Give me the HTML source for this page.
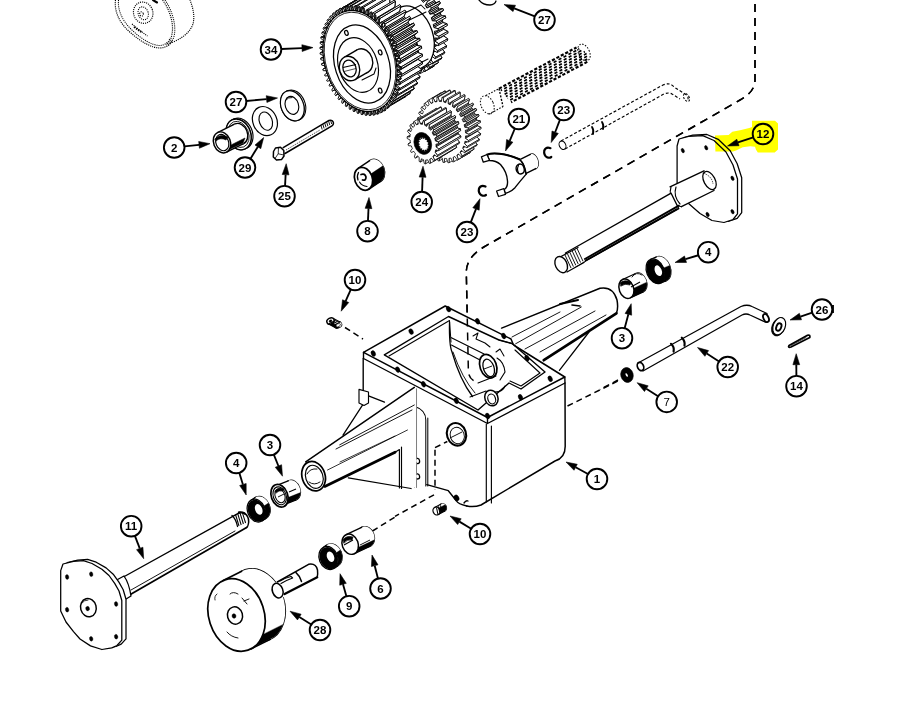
<!DOCTYPE html>
<html><head><meta charset="utf-8"><title>Transaxle parts diagram</title>
<style>
html,body{margin:0;padding:0;background:#fff;}
body{width:902px;height:704px;overflow:hidden;}
svg{display:block;font-family:"Liberation Sans",sans-serif;}
</style></head><body>
<svg width="902" height="704" viewBox="0 0 902 704">
<rect width="902" height="704" fill="#fff"/>
<path d="M115.5,0 C114,12 120,24 131,33 C141,42 152,48 160,48 C167,47.5 171,44 172,40" fill="none" stroke="#000" stroke-width="1.15" stroke-linejoin="round" stroke-linecap="butt" stroke-dasharray="1.1 1.0"/>
<path d="M118.5,0 C117.5,11 123,22 133,31 C142,39.5 152,45 159,45.5 C165,45.5 169,42 170,38" fill="none" stroke="#000" stroke-width="1.03" stroke-linejoin="round" stroke-linecap="butt" stroke-dasharray="1.1 1.0"/>
<path d="M162.6,0 C170,10 174,24 172,34 C171,40 169,43 166,45" fill="none" stroke="#000" stroke-width="1.15" stroke-linejoin="round" stroke-linecap="butt" stroke-dasharray="1.1 1.0"/>
<path d="M165,0 C172,10 176,24 174.5,34 C173.5,40 171,43 168,45.5" fill="none" stroke="#000" stroke-width="1.03" stroke-linejoin="round" stroke-linecap="butt" stroke-dasharray="1.1 1.0"/>
<path d="M170,43 C180,40 190,33 193,24 C195,16 193,8 190,0" fill="none" stroke="#000" stroke-width="1.15" stroke-linejoin="round" stroke-linecap="butt" stroke-dasharray="1.1 1.0"/>
<ellipse cx="143.2" cy="12.7" rx="9.6" ry="10.8" transform="rotate(-20 143.2 12.7)" fill="none" stroke="#000" stroke-width="1.15" stroke-dasharray="1.1 1.0"/>
<ellipse cx="143.2" cy="13.3" rx="5" ry="6.6" transform="rotate(-20 143.2 13.3)" fill="none" stroke="#000" stroke-width="1.03" stroke-dasharray="1.1 1.0"/>
<ellipse cx="141.5" cy="14" rx="1.8" ry="2.2" transform="rotate(-20 141.5 14)" fill="none" stroke="#000" stroke-width="1.03" stroke-dasharray="1.1 1.0"/>
<path d="M132,24 L138,29 L146,35 L147.5,36" fill="none" stroke="#000" stroke-width="1.15" stroke-linejoin="round" stroke-linecap="butt" stroke-dasharray="1.1 1.0"/>
<path d="M134,27 L142,32.5" fill="none" stroke="#000" stroke-width="1.84" stroke-linejoin="round" stroke-linecap="butt" stroke-dasharray="1.5 1"/>
<path d="M153,0 L157,2.5" fill="none" stroke="#000" stroke-width="2.07" stroke-linejoin="round" stroke-linecap="round" />
<path d="M755,4 L755,80 Q755,92 740,100 L483,247.5 Q466.3,258 466.3,272 L468.4,372 Q469,378 474,381" fill="none" stroke="#000" stroke-width="1.49" stroke-linejoin="round" stroke-linecap="butt" stroke-dasharray="8 6"/>
<polygon points="424.8,63.75 425.84,63.52 428.23,68.84 429.43,68.45 428.24,62.74 429.22,62.32 430.18,61.83 433.09,66.73 434.18,66.05 432.35,60.48 433.23,59.81 434.08,59.08 437.43,63.44 438.38,62.48 435.96,57.19 436.71,56.29 437.43,55.35 441.13,59.04 441.92,57.83 438.98,52.96 439.58,51.87 440.14,50.74 444.1,53.66 444.69,52.23 441.31,47.92 441.74,46.66 442.14,45.37 446.24,47.44 446.62,45.84 442.9,42.2 443.15,40.81 443.36,39.39 447.5,40.55 447.67,38.82 443.7,35.96 443.77,34.47 443.79,32.96 447.85,33.19 447.8,31.37 443.69,29.36 443.57,27.81 443.41,26.26 447.27,25.55 447,23.69 442.87,22.59 442.56,21.03 442.22,19.47 445.79,17.84 445.31,16 441.26,15.83 440.78,14.3 440.27,12.78 443.44,10.26 442.76,8.49 438.91,9.27 438.27,7.8 437.59,6.36 440.29,3.04 439.42,1.38 435.88,3.08 435.09,1.73 434.28,0.4 436.42,-3.64 435.4,-5.14 432.25,-2.57 431.34,-3.77 430.41,-4.94 431.94,-9.59 430.79,-10.89 428.12,-7.52 427.12,-8.54 426.09,-9.52 426.97,-14.65 425.72,-15.72 423.61,-11.63 422.54,-12.45 421.44,-13.22 421.64,-18.69 420.33,-19.49 418.84,-14.8 417.72,-15.39 416.59,-15.92 416.11,-21.59 414.77,-22.1 413.94,-16.94 412.8,-17.28 411.67,-17.57 410.52,-23.27 409.19,-23.49 409.03,-18 407.92,-18.08 406.82,-18.1 405.02,-23.69 403.74,-23.6 404.27,-17.93 403.2,-17.75 402.16,-17.52 399.77,-22.84 398.57,-22.45 399.76,-16.74 398.78,-16.32 397.82,-15.83 394.91,-20.73 393.82,-20.05 395.65,-14.48 394.77,-13.81 393.92,-13.08 390.57,-17.44 389.62,-16.48 392.04,-11.19 391.29,-10.29 390.57,-9.35 386.87,-13.04 386.08,-11.83 389.02,-6.96 388.42,-5.87 387.86,-4.74 383.9,-7.66 383.31,-6.23 386.69,-1.92 386.26,-0.66 385.86,0.63 381.76,-1.44 381.38,0.16 385.1,3.8 384.85,5.19 384.64,6.61 380.5,5.45 380.33,7.18 384.3,10.04 384.23,11.53 384.21,13.04 380.15,12.81 380.2,14.63 384.31,16.64 384.43,18.19 384.59,19.74 380.73,20.45 381,22.31 385.13,23.41 385.44,24.97 385.78,26.53 382.21,28.16 382.69,30 386.74,30.17 387.22,31.7 387.73,33.22 384.56,35.74 385.24,37.51 389.09,36.73 389.73,38.2 390.41,39.64 387.71,42.96 388.58,44.62 392.12,42.92 392.91,44.27 393.72,45.6 391.58,49.64 392.6,51.14 395.75,48.57 396.66,49.77 397.59,50.94 396.06,55.59 397.21,56.89 399.88,53.52 400.88,54.54 401.91,55.52 401.03,60.65 402.28,61.72 404.39,57.63 405.46,58.45 406.56,59.22 406.36,64.69 407.67,65.49 409.16,60.8 410.28,61.39 411.41,61.92 411.89,67.59 413.23,68.1 414.06,62.94 415.2,63.28 416.33,63.57 417.48,69.27 418.81,69.49 418.97,64 420.08,64.08 421.18,64.1 422.98,69.69 424.26,69.6 423.73,63.93" fill="#fff" stroke="#000" stroke-width="0.92" stroke-linejoin="round" />
<polygon points="376.78,31.53 373.21,33.16 382.21,28.16 385.78,26.53" fill="#fff" stroke="#000" stroke-width="0.92" stroke-linejoin="round" />
<polygon points="375.59,24.74 371.73,25.45 380.73,20.45 384.59,19.74" fill="#fff" stroke="#000" stroke-width="0.92" stroke-linejoin="round" />
<polygon points="383.6,56.14 386.75,53.57 395.75,48.57 392.6,51.14" fill="#fff" stroke="#000" stroke-width="0.92" stroke-linejoin="round" />
<polygon points="375.21,18.04 371.15,17.81 380.15,12.81 384.21,13.04" fill="#fff" stroke="#000" stroke-width="0.92" stroke-linejoin="round" />
<polygon points="388.21,61.89 390.88,58.52 399.88,53.52 397.21,56.89" fill="#fff" stroke="#000" stroke-width="0.92" stroke-linejoin="round" />
<polygon points="375.64,11.61 371.5,10.45 380.5,5.45 384.64,6.61" fill="#fff" stroke="#000" stroke-width="0.92" stroke-linejoin="round" />
<polygon points="376.86,5.63 372.76,3.56 381.76,-1.44 385.86,0.63" fill="#fff" stroke="#000" stroke-width="0.92" stroke-linejoin="round" />
<polygon points="393.28,66.72 395.39,62.63 404.39,57.63 402.28,61.72" fill="#fff" stroke="#000" stroke-width="0.92" stroke-linejoin="round" />
<polygon points="398.67,70.49 400.16,65.8 409.16,60.8 407.67,65.49" fill="#fff" stroke="#000" stroke-width="0.92" stroke-linejoin="round" />
<polygon points="378.86,0.26 374.9,-2.66 383.9,-7.66 387.86,-4.74" fill="#fff" stroke="#000" stroke-width="0.92" stroke-linejoin="round" />
<polygon points="404.23,73.1 405.06,67.94 414.06,62.94 413.23,68.1" fill="#fff" stroke="#000" stroke-width="0.92" stroke-linejoin="round" />
<polygon points="381.57,-4.35 377.87,-8.04 386.87,-13.04 390.57,-9.35" fill="#fff" stroke="#000" stroke-width="0.92" stroke-linejoin="round" />
<polygon points="384.92,-8.08 381.57,-12.44 390.57,-17.44 393.92,-13.08" fill="#fff" stroke="#000" stroke-width="0.92" stroke-linejoin="round" />
<polygon points="409.81,74.49 409.97,69 418.97,64 418.81,69.49" fill="#fff" stroke="#000" stroke-width="0.92" stroke-linejoin="round" />
<polygon points="388.82,-10.83 385.91,-15.73 394.91,-20.73 397.82,-15.83" fill="#fff" stroke="#000" stroke-width="0.92" stroke-linejoin="round" />
<polygon points="415.26,74.6 414.73,68.93 423.73,63.93 424.26,69.6" fill="#fff" stroke="#000" stroke-width="0.92" stroke-linejoin="round" />
<polygon points="389.78,-11.32 388.82,-10.83 397.82,-15.83 398.78,-16.32" fill="#fff" stroke="#000" stroke-width="0.92" stroke-linejoin="round" />
<polygon points="390.76,-11.74 389.78,-11.32 398.78,-16.32 399.76,-16.74" fill="#fff" stroke="#000" stroke-width="0.92" stroke-linejoin="round" />
<polygon points="390.77,-17.84 389.57,-17.45 398.57,-22.45 399.77,-22.84" fill="#fff" stroke="#000" stroke-width="0.92" stroke-linejoin="round" />
<polygon points="420.43,73.45 419.24,67.74 428.24,62.74 429.43,68.45" fill="#fff" stroke="#000" stroke-width="0.92" stroke-linejoin="round" />
<polygon points="393.16,-12.52 390.77,-17.84 399.77,-22.84 402.16,-17.52" fill="#fff" stroke="#000" stroke-width="0.92" stroke-linejoin="round" />
<polygon points="394.2,-12.75 393.16,-12.52 402.16,-17.52 403.2,-17.75" fill="#fff" stroke="#000" stroke-width="0.92" stroke-linejoin="round" />
<polygon points="395.27,-12.93 394.2,-12.75 403.2,-17.75 404.27,-17.93" fill="#fff" stroke="#000" stroke-width="0.92" stroke-linejoin="round" />
<polygon points="424.09,71.73 425.18,71.05 434.18,66.05 433.09,66.73" fill="#fff" stroke="#000" stroke-width="0.92" stroke-linejoin="round" />
<polygon points="396.02,-18.69 394.74,-18.6 403.74,-23.6 405.02,-23.69" fill="#fff" stroke="#000" stroke-width="0.92" stroke-linejoin="round" />
<polygon points="425.18,71.05 423.35,65.48 432.35,60.48 434.18,66.05" fill="#fff" stroke="#000" stroke-width="0.92" stroke-linejoin="round" />
<polygon points="397.82,-13.1 396.02,-18.69 405.02,-23.69 406.82,-18.1" fill="#fff" stroke="#000" stroke-width="0.92" stroke-linejoin="round" />
<polygon points="423.35,65.48 424.23,64.81 433.23,59.81 432.35,60.48" fill="#fff" stroke="#000" stroke-width="0.92" stroke-linejoin="round" />
<polygon points="398.92,-13.08 397.82,-13.1 406.82,-18.1 407.92,-18.08" fill="#fff" stroke="#000" stroke-width="0.92" stroke-linejoin="round" />
<polygon points="424.23,64.81 425.08,64.08 434.08,59.08 433.23,59.81" fill="#fff" stroke="#000" stroke-width="0.92" stroke-linejoin="round" />
<polygon points="400.03,-13 398.92,-13.08 407.92,-18.08 409.03,-18" fill="#fff" stroke="#000" stroke-width="0.92" stroke-linejoin="round" />
<polygon points="401.52,-18.27 400.19,-18.49 409.19,-23.49 410.52,-23.27" fill="#fff" stroke="#000" stroke-width="0.92" stroke-linejoin="round" />
<polygon points="428.43,68.44 429.38,67.48 438.38,62.48 437.43,63.44" fill="#fff" stroke="#000" stroke-width="0.92" stroke-linejoin="round" />
<polygon points="402.67,-12.57 401.52,-18.27 410.52,-23.27 411.67,-17.57" fill="#fff" stroke="#000" stroke-width="0.92" stroke-linejoin="round" />
<polygon points="429.38,67.48 426.96,62.19 435.96,57.19 438.38,62.48" fill="#fff" stroke="#000" stroke-width="0.92" stroke-linejoin="round" />
<polygon points="426.96,62.19 427.71,61.29 436.71,56.29 435.96,57.19" fill="#fff" stroke="#000" stroke-width="0.92" stroke-linejoin="round" />
<polygon points="403.8,-12.28 402.67,-12.57 411.67,-17.57 412.8,-17.28" fill="#fff" stroke="#000" stroke-width="0.92" stroke-linejoin="round" />
<polygon points="404.94,-11.94 403.8,-12.28 412.8,-17.28 413.94,-16.94" fill="#fff" stroke="#000" stroke-width="0.92" stroke-linejoin="round" />
<polygon points="427.71,61.29 428.43,60.35 437.43,55.35 436.71,56.29" fill="#fff" stroke="#000" stroke-width="0.92" stroke-linejoin="round" />
<polygon points="408.72,-10.39 407.59,-10.92 416.59,-15.92 417.72,-15.39" fill="#fff" stroke="#000" stroke-width="0.92" stroke-linejoin="round" />
<polygon points="429.98,57.96 430.58,56.87 439.58,51.87 438.98,52.96" fill="#fff" stroke="#000" stroke-width="0.92" stroke-linejoin="round" />
<polygon points="432.92,62.83 429.98,57.96 438.98,52.96 441.92,57.83" fill="#fff" stroke="#000" stroke-width="0.92" stroke-linejoin="round" />
<polygon points="407.59,-10.92 407.11,-16.59 416.11,-21.59 416.59,-15.92" fill="#fff" stroke="#000" stroke-width="0.92" stroke-linejoin="round" />
<polygon points="432.13,64.04 432.92,62.83 441.92,57.83 441.13,59.04" fill="#fff" stroke="#000" stroke-width="0.92" stroke-linejoin="round" />
<polygon points="407.11,-16.59 405.77,-17.1 414.77,-22.1 416.11,-21.59" fill="#fff" stroke="#000" stroke-width="0.92" stroke-linejoin="round" />
<polygon points="409.84,-9.8 408.72,-10.39 417.72,-15.39 418.84,-14.8" fill="#fff" stroke="#000" stroke-width="0.92" stroke-linejoin="round" />
<polygon points="430.58,56.87 431.14,55.74 440.14,50.74 439.58,51.87" fill="#fff" stroke="#000" stroke-width="0.92" stroke-linejoin="round" />
<polygon points="432.31,52.92 432.74,51.66 441.74,46.66 441.31,47.92" fill="#fff" stroke="#000" stroke-width="0.92" stroke-linejoin="round" />
<polygon points="413.54,-7.45 412.44,-8.22 421.44,-13.22 422.54,-12.45" fill="#fff" stroke="#000" stroke-width="0.92" stroke-linejoin="round" />
<polygon points="435.69,57.23 432.31,52.92 441.31,47.92 444.69,52.23" fill="#fff" stroke="#000" stroke-width="0.92" stroke-linejoin="round" />
<polygon points="412.44,-8.22 412.64,-13.69 421.64,-18.69 421.44,-13.22" fill="#fff" stroke="#000" stroke-width="0.92" stroke-linejoin="round" />
<polygon points="432.74,51.66 433.14,50.37 442.14,45.37 441.74,46.66" fill="#fff" stroke="#000" stroke-width="0.92" stroke-linejoin="round" />
<polygon points="414.61,-6.63 413.54,-7.45 422.54,-12.45 423.61,-11.63" fill="#fff" stroke="#000" stroke-width="0.92" stroke-linejoin="round" />
<polygon points="435.1,58.66 435.69,57.23 444.69,52.23 444.1,53.66" fill="#fff" stroke="#000" stroke-width="0.92" stroke-linejoin="round" />
<polygon points="412.64,-13.69 411.33,-14.49 420.33,-19.49 421.64,-18.69" fill="#fff" stroke="#000" stroke-width="0.92" stroke-linejoin="round" />
<polygon points="418.12,-3.54 417.09,-4.52 426.09,-9.52 427.12,-8.54" fill="#fff" stroke="#000" stroke-width="0.92" stroke-linejoin="round" />
<polygon points="433.9,47.2 434.15,45.81 443.15,40.81 442.9,42.2" fill="#fff" stroke="#000" stroke-width="0.92" stroke-linejoin="round" />
<polygon points="419.12,-2.52 418.12,-3.54 427.12,-8.54 428.12,-7.52" fill="#fff" stroke="#000" stroke-width="0.92" stroke-linejoin="round" />
<polygon points="434.15,45.81 434.36,44.39 443.36,39.39 443.15,40.81" fill="#fff" stroke="#000" stroke-width="0.92" stroke-linejoin="round" />
<polygon points="417.09,-4.52 417.97,-9.65 426.97,-14.65 426.09,-9.52" fill="#fff" stroke="#000" stroke-width="0.92" stroke-linejoin="round" />
<polygon points="437.62,50.84 433.9,47.2 442.9,42.2 446.62,45.84" fill="#fff" stroke="#000" stroke-width="0.92" stroke-linejoin="round" />
<polygon points="417.97,-9.65 416.72,-10.72 425.72,-15.72 426.97,-14.65" fill="#fff" stroke="#000" stroke-width="0.92" stroke-linejoin="round" />
<polygon points="437.24,52.44 437.62,50.84 446.62,45.84 446.24,47.44" fill="#fff" stroke="#000" stroke-width="0.92" stroke-linejoin="round" />
<polygon points="434.7,40.96 434.77,39.47 443.77,34.47 443.7,35.96" fill="#fff" stroke="#000" stroke-width="0.92" stroke-linejoin="round" />
<polygon points="422.34,1.23 421.41,0.06 430.41,-4.94 431.34,-3.77" fill="#fff" stroke="#000" stroke-width="0.92" stroke-linejoin="round" />
<polygon points="434.77,39.47 434.79,37.96 443.79,32.96 443.77,34.47" fill="#fff" stroke="#000" stroke-width="0.92" stroke-linejoin="round" />
<polygon points="423.25,2.43 422.34,1.23 431.34,-3.77 432.25,-2.57" fill="#fff" stroke="#000" stroke-width="0.92" stroke-linejoin="round" />
<polygon points="438.67,43.82 434.7,40.96 443.7,35.96 447.67,38.82" fill="#fff" stroke="#000" stroke-width="0.92" stroke-linejoin="round" />
<polygon points="421.41,0.06 422.94,-4.59 431.94,-9.59 430.41,-4.94" fill="#fff" stroke="#000" stroke-width="0.92" stroke-linejoin="round" />
<polygon points="434.69,34.36 434.57,32.81 443.57,27.81 443.69,29.36" fill="#fff" stroke="#000" stroke-width="0.92" stroke-linejoin="round" />
<polygon points="426.09,6.73 425.28,5.4 434.28,0.4 435.09,1.73" fill="#fff" stroke="#000" stroke-width="0.92" stroke-linejoin="round" />
<polygon points="438.5,45.55 438.67,43.82 447.67,38.82 447.5,40.55" fill="#fff" stroke="#000" stroke-width="0.92" stroke-linejoin="round" />
<polygon points="422.94,-4.59 421.79,-5.89 430.79,-10.89 431.94,-9.59" fill="#fff" stroke="#000" stroke-width="0.92" stroke-linejoin="round" />
<polygon points="434.57,32.81 434.41,31.26 443.41,26.26 443.57,27.81" fill="#fff" stroke="#000" stroke-width="0.92" stroke-linejoin="round" />
<polygon points="426.88,8.08 426.09,6.73 435.09,1.73 435.88,3.08" fill="#fff" stroke="#000" stroke-width="0.92" stroke-linejoin="round" />
<polygon points="433.87,27.59 433.56,26.03 442.56,21.03 442.87,22.59" fill="#fff" stroke="#000" stroke-width="0.92" stroke-linejoin="round" />
<polygon points="429.27,12.8 428.59,11.36 437.59,6.36 438.27,7.8" fill="#fff" stroke="#000" stroke-width="0.92" stroke-linejoin="round" />
<polygon points="433.56,26.03 433.22,24.47 442.22,19.47 442.56,21.03" fill="#fff" stroke="#000" stroke-width="0.92" stroke-linejoin="round" />
<polygon points="429.91,14.27 429.27,12.8 438.27,7.8 438.91,9.27" fill="#fff" stroke="#000" stroke-width="0.92" stroke-linejoin="round" />
<polygon points="425.28,5.4 427.42,1.36 436.42,-3.64 434.28,0.4" fill="#fff" stroke="#000" stroke-width="0.92" stroke-linejoin="round" />
<polygon points="438.8,36.37 434.69,34.36 443.69,29.36 447.8,31.37" fill="#fff" stroke="#000" stroke-width="0.92" stroke-linejoin="round" />
<polygon points="432.26,20.83 431.78,19.3 440.78,14.3 441.26,15.83" fill="#fff" stroke="#000" stroke-width="0.92" stroke-linejoin="round" />
<polygon points="431.78,19.3 431.27,17.78 440.27,12.78 440.78,14.3" fill="#fff" stroke="#000" stroke-width="0.92" stroke-linejoin="round" />
<polygon points="430.42,6.38 426.88,8.08 435.88,3.08 439.42,1.38" fill="#fff" stroke="#000" stroke-width="0.92" stroke-linejoin="round" />
<polygon points="427.42,1.36 426.4,-0.14 435.4,-5.14 436.42,-3.64" fill="#fff" stroke="#000" stroke-width="0.92" stroke-linejoin="round" />
<polygon points="438.85,38.19 438.8,36.37 447.8,31.37 447.85,33.19" fill="#fff" stroke="#000" stroke-width="0.92" stroke-linejoin="round" />
<polygon points="438,28.69 433.87,27.59 442.87,22.59 447,23.69" fill="#fff" stroke="#000" stroke-width="0.92" stroke-linejoin="round" />
<polygon points="428.59,11.36 431.29,8.04 440.29,3.04 437.59,6.36" fill="#fff" stroke="#000" stroke-width="0.92" stroke-linejoin="round" />
<polygon points="433.76,13.49 429.91,14.27 438.91,9.27 442.76,8.49" fill="#fff" stroke="#000" stroke-width="0.92" stroke-linejoin="round" />
<polygon points="431.27,17.78 434.44,15.26 443.44,10.26 440.27,12.78" fill="#fff" stroke="#000" stroke-width="0.92" stroke-linejoin="round" />
<polygon points="436.31,21 432.26,20.83 441.26,15.83 445.31,16" fill="#fff" stroke="#000" stroke-width="0.92" stroke-linejoin="round" />
<polygon points="438.27,30.55 438,28.69 447,23.69 447.27,25.55" fill="#fff" stroke="#000" stroke-width="0.92" stroke-linejoin="round" />
<polygon points="431.29,8.04 430.42,6.38 439.42,1.38 440.29,3.04" fill="#fff" stroke="#000" stroke-width="0.92" stroke-linejoin="round" />
<polygon points="436.79,22.84 436.31,21 445.31,16 445.79,17.84" fill="#fff" stroke="#000" stroke-width="0.92" stroke-linejoin="round" />
<polygon points="434.44,15.26 433.76,13.49 442.76,8.49 443.44,10.26" fill="#fff" stroke="#000" stroke-width="0.92" stroke-linejoin="round" />
<polygon points="415.8,68.75 416.84,68.52 419.23,73.84 420.43,73.45 419.24,67.74 420.22,67.32 421.18,66.83 424.09,71.73 425.18,71.05 423.35,65.48 424.23,64.81 425.08,64.08 428.43,68.44 429.38,67.48 426.96,62.19 427.71,61.29 428.43,60.35 432.13,64.04 432.92,62.83 429.98,57.96 430.58,56.87 431.14,55.74 435.1,58.66 435.69,57.23 432.31,52.92 432.74,51.66 433.14,50.37 437.24,52.44 437.62,50.84 433.9,47.2 434.15,45.81 434.36,44.39 438.5,45.55 438.67,43.82 434.7,40.96 434.77,39.47 434.79,37.96 438.85,38.19 438.8,36.37 434.69,34.36 434.57,32.81 434.41,31.26 438.27,30.55 438,28.69 433.87,27.59 433.56,26.03 433.22,24.47 436.79,22.84 436.31,21 432.26,20.83 431.78,19.3 431.27,17.78 434.44,15.26 433.76,13.49 429.91,14.27 429.27,12.8 428.59,11.36 431.29,8.04 430.42,6.38 426.88,8.08 426.09,6.73 425.28,5.4 427.42,1.36 426.4,-0.14 423.25,2.43 422.34,1.23 421.41,0.06 422.94,-4.59 421.79,-5.89 419.12,-2.52 418.12,-3.54 417.09,-4.52 417.97,-9.65 416.72,-10.72 414.61,-6.63 413.54,-7.45 412.44,-8.22 412.64,-13.69 411.33,-14.49 409.84,-9.8 408.72,-10.39 407.59,-10.92 407.11,-16.59 405.77,-17.1 404.94,-11.94 403.8,-12.28 402.67,-12.57 401.52,-18.27 400.19,-18.49 400.03,-13 398.92,-13.08 397.82,-13.1 396.02,-18.69 394.74,-18.6 395.27,-12.93 394.2,-12.75 393.16,-12.52 390.77,-17.84 389.57,-17.45 390.76,-11.74 389.78,-11.32 388.82,-10.83 385.91,-15.73 384.82,-15.05 386.65,-9.48 385.77,-8.81 384.92,-8.08 381.57,-12.44 380.62,-11.48 383.04,-6.19 382.29,-5.29 381.57,-4.35 377.87,-8.04 377.08,-6.83 380.02,-1.96 379.42,-0.87 378.86,0.26 374.9,-2.66 374.31,-1.23 377.69,3.08 377.26,4.34 376.86,5.63 372.76,3.56 372.38,5.16 376.1,8.8 375.85,10.19 375.64,11.61 371.5,10.45 371.33,12.18 375.3,15.04 375.23,16.53 375.21,18.04 371.15,17.81 371.2,19.63 375.31,21.64 375.43,23.19 375.59,24.74 371.73,25.45 372,27.31 376.13,28.41 376.44,29.97 376.78,31.53 373.21,33.16 373.69,35 377.74,35.17 378.22,36.7 378.73,38.22 375.56,40.74 376.24,42.51 380.09,41.73 380.73,43.2 381.41,44.64 378.71,47.96 379.58,49.62 383.12,47.92 383.91,49.27 384.72,50.6 382.58,54.64 383.6,56.14 386.75,53.57 387.66,54.77 388.59,55.94 387.06,60.59 388.21,61.89 390.88,58.52 391.88,59.54 392.91,60.52 392.03,65.65 393.28,66.72 395.39,62.63 396.46,63.45 397.56,64.22 397.36,69.69 398.67,70.49 400.16,65.8 401.28,66.39 402.41,66.92 402.89,72.59 404.23,73.1 405.06,67.94 406.2,68.28 407.33,68.57 408.48,74.27 409.81,74.49 409.97,69 411.08,69.08 412.18,69.1 413.98,74.69 415.26,74.6 414.73,68.93" fill="#fff" stroke="#000" stroke-width="0.92" stroke-linejoin="round" />
<ellipse cx="412" cy="37" rx="21" ry="32" transform="rotate(-18 412 37)" fill="#fff" stroke="#000" stroke-width="1.26" />
<polygon points="408.41,75.32 424.41,66.32 399.59,7.68 383.59,16.68" fill="#fff" stroke="none" stroke-width="0" stroke-linejoin="round" />
<line x1="408.41" y1="75.32" x2="424.41" y2="66.32" stroke="#000" stroke-width="1.26" />
<line x1="383.59" y1="16.68" x2="399.59" y2="7.68" stroke="#000" stroke-width="1.26" />
<ellipse cx="396" cy="46" rx="21" ry="32" transform="rotate(-18 396 46)" fill="#fff" stroke="#000" stroke-width="1.26" />
<path d="M403,14 L421,5 L425,9 M401,24 L426,12" fill="none" stroke="#000" stroke-width="1.03" stroke-linejoin="round" stroke-linecap="round" />
<path d="M410,68 L428,59 M413,74 L431,64" fill="none" stroke="#000" stroke-width="1.03" stroke-linejoin="round" stroke-linecap="round" />
<polygon points="395.64,93.93 396.75,93.67 399.35,99.51 400.63,99.09 399.3,92.84 400.36,92.4 401.39,91.9 404.53,97.33 405.71,96.64 403.73,90.52 404.69,89.85 405.62,89.13 409.23,94.04 410.27,93.09 407.7,87.23 408.53,86.35 409.34,85.41 413.34,89.69 414.23,88.5 411.11,83.04 411.81,81.96 412.47,80.84 416.77,84.39 417.48,82.98 413.89,78.05 414.44,76.8 414.95,75.51 419.45,78.25 419.97,76.67 415.99,72.36 416.37,70.97 416.71,69.55 421.31,71.41 421.63,69.69 417.35,66.11 417.55,64.6 417.72,63.08 422.32,64.03 422.43,62.2 417.94,59.43 417.96,57.85 417.95,56.25 422.45,56.27 422.35,54.37 417.75,52.47 417.59,50.85 417.4,49.22 421.7,48.3 421.39,46.38 416.78,45.39 416.45,43.76 416.08,42.13 420.09,40.31 419.57,38.4 415.06,38.34 414.56,36.74 414.03,35.16 417.64,32.46 416.94,30.62 412.63,31.49 411.97,29.96 411.28,28.45 414.42,24.94 413.54,23.2 409.53,24.99 408.73,23.56 407.9,22.15 410.5,17.91 409.47,16.31 405.84,18.97 404.91,17.67 403.96,16.41 405.97,11.53 404.8,10.11 401.63,13.59 400.61,12.45 399.56,11.35 400.92,5.94 399.65,4.73 397.02,8.95 395.91,8 394.78,7.09 395.47,1.27 394.12,0.29 392.09,5.16 390.92,4.41 389.74,3.72 389.75,-2.38 388.35,-3.1 386.95,2.3 385.76,1.78 384.55,1.32 383.87,-4.93 382.45,-5.37 381.73,0.44 380.53,0.16 379.33,-0.07 377.97,-6.31 376.57,-6.47 376.54,-0.38 375.36,-0.41 374.19,-0.4 372.19,-6.51 370.83,-6.38 371.49,-0.13 370.36,0.07 369.25,0.33 366.65,-5.51 365.37,-5.09 366.7,1.16 365.64,1.6 364.61,2.1 361.47,-3.33 360.29,-2.64 362.27,3.48 361.31,4.15 360.38,4.87 356.77,-0.04 355.73,0.91 358.3,6.77 357.47,7.65 356.66,8.59 352.66,4.31 351.77,5.5 354.89,10.96 354.19,12.04 353.53,13.16 349.23,9.61 348.52,11.02 352.11,15.95 351.56,17.2 351.05,18.49 346.55,15.75 346.03,17.33 350.01,21.64 349.63,23.03 349.29,24.45 344.69,22.59 344.37,24.31 348.65,27.89 348.45,29.4 348.28,30.92 343.68,29.97 343.57,31.8 348.06,34.57 348.04,36.15 348.05,37.75 343.55,37.73 343.65,39.63 348.25,41.53 348.41,43.15 348.6,44.78 344.3,45.7 344.61,47.62 349.22,48.61 349.55,50.24 349.92,51.87 345.91,53.69 346.43,55.6 350.94,55.66 351.44,57.26 351.97,58.84 348.36,61.54 349.06,63.38 353.37,62.51 354.03,64.04 354.72,65.55 351.58,69.06 352.46,70.8 356.47,69.01 357.27,70.44 358.1,71.85 355.5,76.09 356.53,77.69 360.16,75.03 361.09,76.33 362.04,77.59 360.03,82.47 361.2,83.89 364.37,80.41 365.39,81.55 366.44,82.65 365.08,88.06 366.35,89.27 368.98,85.05 370.09,86 371.22,86.91 370.53,92.73 371.88,93.71 373.91,88.84 375.08,89.59 376.26,90.28 376.25,96.38 377.65,97.1 379.05,91.7 380.24,92.22 381.45,92.68 382.13,98.93 383.55,99.37 384.27,93.56 385.47,93.84 386.67,94.07 388.03,100.31 389.43,100.47 389.46,94.38 390.64,94.41 391.81,94.4 393.81,100.51 395.17,100.38 394.51,94.13" fill="#fff" stroke="#000" stroke-width="0.98" stroke-linejoin="round" />
<polygon points="328.92,64.37 324.91,66.19 345.91,53.69 349.92,51.87" fill="#fff" stroke="#000" stroke-width="0.98" stroke-linejoin="round" />
<polygon points="327.6,57.28 323.3,58.2 344.3,45.7 348.6,44.78" fill="#fff" stroke="#000" stroke-width="0.98" stroke-linejoin="round" />
<polygon points="327.05,50.25 322.55,50.23 343.55,37.73 348.05,37.75" fill="#fff" stroke="#000" stroke-width="0.98" stroke-linejoin="round" />
<polygon points="335.53,90.19 339.16,87.53 360.16,75.03 356.53,77.69" fill="#fff" stroke="#000" stroke-width="0.98" stroke-linejoin="round" />
<polygon points="327.28,43.42 322.68,42.47 343.68,29.97 348.28,30.92" fill="#fff" stroke="#000" stroke-width="0.98" stroke-linejoin="round" />
<polygon points="340.2,96.39 343.37,92.91 364.37,80.41 361.2,83.89" fill="#fff" stroke="#000" stroke-width="0.98" stroke-linejoin="round" />
<polygon points="328.29,36.95 323.69,35.09 344.69,22.59 349.29,24.45" fill="#fff" stroke="#000" stroke-width="0.98" stroke-linejoin="round" />
<polygon points="345.35,101.77 347.98,97.55 368.98,85.05 366.35,89.27" fill="#fff" stroke="#000" stroke-width="0.98" stroke-linejoin="round" />
<polygon points="350.88,106.21 352.91,101.34 373.91,88.84 371.88,93.71" fill="#fff" stroke="#000" stroke-width="0.98" stroke-linejoin="round" />
<polygon points="330.05,30.99 325.55,28.25 346.55,15.75 351.05,18.49" fill="#fff" stroke="#000" stroke-width="0.98" stroke-linejoin="round" />
<polygon points="356.65,109.6 358.05,104.2 379.05,91.7 377.65,97.1" fill="#fff" stroke="#000" stroke-width="0.98" stroke-linejoin="round" />
<polygon points="332.53,25.66 328.23,22.11 349.23,9.61 353.53,13.16" fill="#fff" stroke="#000" stroke-width="0.98" stroke-linejoin="round" />
<polygon points="335.66,21.09 331.66,16.81 352.66,4.31 356.66,8.59" fill="#fff" stroke="#000" stroke-width="0.98" stroke-linejoin="round" />
<polygon points="362.55,111.87 363.27,106.06 384.27,93.56 383.55,99.37" fill="#fff" stroke="#000" stroke-width="0.98" stroke-linejoin="round" />
<polygon points="339.38,17.37 335.77,12.46 356.77,-0.04 360.38,4.87" fill="#fff" stroke="#000" stroke-width="0.98" stroke-linejoin="round" />
<polygon points="368.43,112.97 368.46,106.88 389.46,94.38 389.43,100.47" fill="#fff" stroke="#000" stroke-width="0.98" stroke-linejoin="round" />
<polygon points="340.47,9.17 339.29,9.86 360.29,-2.64 361.47,-3.33" fill="#fff" stroke="#000" stroke-width="0.98" stroke-linejoin="round" />
<polygon points="343.61,14.6 340.47,9.17 361.47,-3.33 364.61,2.1" fill="#fff" stroke="#000" stroke-width="0.98" stroke-linejoin="round" />
<polygon points="374.17,112.88 373.51,106.63 394.51,94.13 395.17,100.38" fill="#fff" stroke="#000" stroke-width="0.98" stroke-linejoin="round" />
<polygon points="344.64,14.1 343.61,14.6 364.61,2.1 365.64,1.6" fill="#fff" stroke="#000" stroke-width="0.98" stroke-linejoin="round" />
<polygon points="345.7,13.66 344.64,14.1 365.64,1.6 366.7,1.16" fill="#fff" stroke="#000" stroke-width="0.98" stroke-linejoin="round" />
<polygon points="345.65,6.99 344.37,7.41 365.37,-5.09 366.65,-5.51" fill="#fff" stroke="#000" stroke-width="0.98" stroke-linejoin="round" />
<polygon points="379.63,111.59 378.3,105.34 399.3,92.84 400.63,99.09" fill="#fff" stroke="#000" stroke-width="0.98" stroke-linejoin="round" />
<polygon points="348.25,12.83 345.65,6.99 366.65,-5.51 369.25,0.33" fill="#fff" stroke="#000" stroke-width="0.98" stroke-linejoin="round" />
<polygon points="349.36,12.57 348.25,12.83 369.25,0.33 370.36,0.07" fill="#fff" stroke="#000" stroke-width="0.98" stroke-linejoin="round" />
<polygon points="350.49,12.37 349.36,12.57 370.36,0.07 371.49,-0.13" fill="#fff" stroke="#000" stroke-width="0.98" stroke-linejoin="round" />
<polygon points="351.19,5.99 349.83,6.12 370.83,-6.38 372.19,-6.51" fill="#fff" stroke="#000" stroke-width="0.98" stroke-linejoin="round" />
<polygon points="384.71,109.14 382.73,103.02 403.73,90.52 405.71,96.64" fill="#fff" stroke="#000" stroke-width="0.98" stroke-linejoin="round" />
<polygon points="353.19,12.1 351.19,5.99 372.19,-6.51 374.19,-0.4" fill="#fff" stroke="#000" stroke-width="0.98" stroke-linejoin="round" />
<polygon points="382.73,103.02 383.69,102.35 404.69,89.85 403.73,90.52" fill="#fff" stroke="#000" stroke-width="0.98" stroke-linejoin="round" />
<polygon points="354.36,12.09 353.19,12.1 374.19,-0.4 375.36,-0.41" fill="#fff" stroke="#000" stroke-width="0.98" stroke-linejoin="round" />
<polygon points="355.54,12.12 354.36,12.09 375.36,-0.41 376.54,-0.38" fill="#fff" stroke="#000" stroke-width="0.98" stroke-linejoin="round" />
<polygon points="383.69,102.35 384.62,101.63 405.62,89.13 404.69,89.85" fill="#fff" stroke="#000" stroke-width="0.98" stroke-linejoin="round" />
<polygon points="388.23,106.54 389.27,105.59 410.27,93.09 409.23,94.04" fill="#fff" stroke="#000" stroke-width="0.98" stroke-linejoin="round" />
<polygon points="356.97,6.19 355.57,6.03 376.57,-6.47 377.97,-6.31" fill="#fff" stroke="#000" stroke-width="0.98" stroke-linejoin="round" />
<polygon points="389.27,105.59 386.7,99.73 407.7,87.23 410.27,93.09" fill="#fff" stroke="#000" stroke-width="0.98" stroke-linejoin="round" />
<polygon points="358.33,12.43 356.97,6.19 377.97,-6.31 379.33,-0.07" fill="#fff" stroke="#000" stroke-width="0.98" stroke-linejoin="round" />
<polygon points="359.53,12.66 358.33,12.43 379.33,-0.07 380.53,0.16" fill="#fff" stroke="#000" stroke-width="0.98" stroke-linejoin="round" />
<polygon points="386.7,99.73 387.53,98.85 408.53,86.35 407.7,87.23" fill="#fff" stroke="#000" stroke-width="0.98" stroke-linejoin="round" />
<polygon points="360.73,12.94 359.53,12.66 380.53,0.16 381.73,0.44" fill="#fff" stroke="#000" stroke-width="0.98" stroke-linejoin="round" />
<polygon points="387.53,98.85 388.34,97.91 409.34,85.41 408.53,86.35" fill="#fff" stroke="#000" stroke-width="0.98" stroke-linejoin="round" />
<polygon points="364.76,14.28 363.55,13.82 384.55,1.32 385.76,1.78" fill="#fff" stroke="#000" stroke-width="0.98" stroke-linejoin="round" />
<polygon points="390.11,95.54 390.81,94.46 411.81,81.96 411.11,83.04" fill="#fff" stroke="#000" stroke-width="0.98" stroke-linejoin="round" />
<polygon points="363.55,13.82 362.87,7.57 383.87,-4.93 384.55,1.32" fill="#fff" stroke="#000" stroke-width="0.98" stroke-linejoin="round" />
<polygon points="393.23,101 390.11,95.54 411.11,83.04 414.23,88.5" fill="#fff" stroke="#000" stroke-width="0.98" stroke-linejoin="round" />
<polygon points="392.34,102.19 393.23,101 414.23,88.5 413.34,89.69" fill="#fff" stroke="#000" stroke-width="0.98" stroke-linejoin="round" />
<polygon points="362.87,7.57 361.45,7.13 382.45,-5.37 383.87,-4.93" fill="#fff" stroke="#000" stroke-width="0.98" stroke-linejoin="round" />
<polygon points="365.95,14.8 364.76,14.28 385.76,1.78 386.95,2.3" fill="#fff" stroke="#000" stroke-width="0.98" stroke-linejoin="round" />
<polygon points="390.81,94.46 391.47,93.34 412.47,80.84 411.81,81.96" fill="#fff" stroke="#000" stroke-width="0.98" stroke-linejoin="round" />
<polygon points="392.89,90.55 393.44,89.3 414.44,76.8 413.89,78.05" fill="#fff" stroke="#000" stroke-width="0.98" stroke-linejoin="round" />
<polygon points="369.92,16.91 368.74,16.22 389.74,3.72 390.92,4.41" fill="#fff" stroke="#000" stroke-width="0.98" stroke-linejoin="round" />
<polygon points="396.48,95.48 392.89,90.55 413.89,78.05 417.48,82.98" fill="#fff" stroke="#000" stroke-width="0.98" stroke-linejoin="round" />
<polygon points="368.74,16.22 368.75,10.12 389.75,-2.38 389.74,3.72" fill="#fff" stroke="#000" stroke-width="0.98" stroke-linejoin="round" />
<polygon points="395.77,96.89 396.48,95.48 417.48,82.98 416.77,84.39" fill="#fff" stroke="#000" stroke-width="0.98" stroke-linejoin="round" />
<polygon points="368.75,10.12 367.35,9.4 388.35,-3.1 389.75,-2.38" fill="#fff" stroke="#000" stroke-width="0.98" stroke-linejoin="round" />
<polygon points="393.44,89.3 393.95,88.01 414.95,75.51 414.44,76.8" fill="#fff" stroke="#000" stroke-width="0.98" stroke-linejoin="round" />
<polygon points="371.09,17.66 369.92,16.91 390.92,4.41 392.09,5.16" fill="#fff" stroke="#000" stroke-width="0.98" stroke-linejoin="round" />
<polygon points="374.91,20.5 373.78,19.59 394.78,7.09 395.91,8" fill="#fff" stroke="#000" stroke-width="0.98" stroke-linejoin="round" />
<polygon points="394.99,84.86 395.37,83.47 416.37,70.97 415.99,72.36" fill="#fff" stroke="#000" stroke-width="0.98" stroke-linejoin="round" />
<polygon points="395.37,83.47 395.71,82.05 416.71,69.55 416.37,70.97" fill="#fff" stroke="#000" stroke-width="0.98" stroke-linejoin="round" />
<polygon points="376.02,21.45 374.91,20.5 395.91,8 397.02,8.95" fill="#fff" stroke="#000" stroke-width="0.98" stroke-linejoin="round" />
<polygon points="373.78,19.59 374.47,13.77 395.47,1.27 394.78,7.09" fill="#fff" stroke="#000" stroke-width="0.98" stroke-linejoin="round" />
<polygon points="398.97,89.17 394.99,84.86 415.99,72.36 419.97,76.67" fill="#fff" stroke="#000" stroke-width="0.98" stroke-linejoin="round" />
<polygon points="398.45,90.75 398.97,89.17 419.97,76.67 419.45,78.25" fill="#fff" stroke="#000" stroke-width="0.98" stroke-linejoin="round" />
<polygon points="374.47,13.77 373.12,12.79 394.12,0.29 395.47,1.27" fill="#fff" stroke="#000" stroke-width="0.98" stroke-linejoin="round" />
<polygon points="396.35,78.61 396.55,77.1 417.55,64.6 417.35,66.11" fill="#fff" stroke="#000" stroke-width="0.98" stroke-linejoin="round" />
<polygon points="379.61,24.95 378.56,23.85 399.56,11.35 400.61,12.45" fill="#fff" stroke="#000" stroke-width="0.98" stroke-linejoin="round" />
<polygon points="380.63,26.09 379.61,24.95 400.61,12.45 401.63,13.59" fill="#fff" stroke="#000" stroke-width="0.98" stroke-linejoin="round" />
<polygon points="396.55,77.1 396.72,75.58 417.72,63.08 417.55,64.6" fill="#fff" stroke="#000" stroke-width="0.98" stroke-linejoin="round" />
<polygon points="400.63,82.19 396.35,78.61 417.35,66.11 421.63,69.69" fill="#fff" stroke="#000" stroke-width="0.98" stroke-linejoin="round" />
<polygon points="378.56,23.85 379.92,18.44 400.92,5.94 399.56,11.35" fill="#fff" stroke="#000" stroke-width="0.98" stroke-linejoin="round" />
<polygon points="400.31,83.91 400.63,82.19 421.63,69.69 421.31,71.41" fill="#fff" stroke="#000" stroke-width="0.98" stroke-linejoin="round" />
<polygon points="379.92,18.44 378.65,17.23 399.65,4.73 400.92,5.94" fill="#fff" stroke="#000" stroke-width="0.98" stroke-linejoin="round" />
<polygon points="383.91,30.17 382.96,28.91 403.96,16.41 404.91,17.67" fill="#fff" stroke="#000" stroke-width="0.98" stroke-linejoin="round" />
<polygon points="396.94,71.93 396.96,70.35 417.96,57.85 417.94,59.43" fill="#fff" stroke="#000" stroke-width="0.98" stroke-linejoin="round" />
<polygon points="384.84,31.47 383.91,30.17 404.91,17.67 405.84,18.97" fill="#fff" stroke="#000" stroke-width="0.98" stroke-linejoin="round" />
<polygon points="396.96,70.35 396.95,68.75 417.95,56.25 417.96,57.85" fill="#fff" stroke="#000" stroke-width="0.98" stroke-linejoin="round" />
<polygon points="401.43,74.7 396.94,71.93 417.94,59.43 422.43,62.2" fill="#fff" stroke="#000" stroke-width="0.98" stroke-linejoin="round" />
<polygon points="382.96,28.91 384.97,24.03 405.97,11.53 403.96,16.41" fill="#fff" stroke="#000" stroke-width="0.98" stroke-linejoin="round" />
<polygon points="387.73,36.06 386.9,34.65 407.9,22.15 408.73,23.56" fill="#fff" stroke="#000" stroke-width="0.98" stroke-linejoin="round" />
<polygon points="396.75,64.97 396.59,63.35 417.59,50.85 417.75,52.47" fill="#fff" stroke="#000" stroke-width="0.98" stroke-linejoin="round" />
<polygon points="396.59,63.35 396.4,61.72 417.4,49.22 417.59,50.85" fill="#fff" stroke="#000" stroke-width="0.98" stroke-linejoin="round" />
<polygon points="388.53,37.49 387.73,36.06 408.73,23.56 409.53,24.99" fill="#fff" stroke="#000" stroke-width="0.98" stroke-linejoin="round" />
<polygon points="401.32,76.53 401.43,74.7 422.43,62.2 422.32,64.03" fill="#fff" stroke="#000" stroke-width="0.98" stroke-linejoin="round" />
<polygon points="384.97,24.03 383.8,22.61 404.8,10.11 405.97,11.53" fill="#fff" stroke="#000" stroke-width="0.98" stroke-linejoin="round" />
<polygon points="395.78,57.89 395.45,56.26 416.45,43.76 416.78,45.39" fill="#fff" stroke="#000" stroke-width="0.98" stroke-linejoin="round" />
<polygon points="390.97,42.46 390.28,40.95 411.28,28.45 411.97,29.96" fill="#fff" stroke="#000" stroke-width="0.98" stroke-linejoin="round" />
<polygon points="395.45,56.26 395.08,54.63 416.08,42.13 416.45,43.76" fill="#fff" stroke="#000" stroke-width="0.98" stroke-linejoin="round" />
<polygon points="391.63,43.99 390.97,42.46 411.97,29.96 412.63,31.49" fill="#fff" stroke="#000" stroke-width="0.98" stroke-linejoin="round" />
<polygon points="394.06,50.84 393.56,49.24 414.56,36.74 415.06,38.34" fill="#fff" stroke="#000" stroke-width="0.98" stroke-linejoin="round" />
<polygon points="393.56,49.24 393.03,47.66 414.03,35.16 414.56,36.74" fill="#fff" stroke="#000" stroke-width="0.98" stroke-linejoin="round" />
<polygon points="386.9,34.65 389.5,30.41 410.5,17.91 407.9,22.15" fill="#fff" stroke="#000" stroke-width="0.98" stroke-linejoin="round" />
<polygon points="401.35,66.87 396.75,64.97 417.75,52.47 422.35,54.37" fill="#fff" stroke="#000" stroke-width="0.98" stroke-linejoin="round" />
<polygon points="392.54,35.7 388.53,37.49 409.53,24.99 413.54,23.2" fill="#fff" stroke="#000" stroke-width="0.98" stroke-linejoin="round" />
<polygon points="400.39,58.88 395.78,57.89 416.78,45.39 421.39,46.38" fill="#fff" stroke="#000" stroke-width="0.98" stroke-linejoin="round" />
<polygon points="390.28,40.95 393.42,37.44 414.42,24.94 411.28,28.45" fill="#fff" stroke="#000" stroke-width="0.98" stroke-linejoin="round" />
<polygon points="389.5,30.41 388.47,28.81 409.47,16.31 410.5,17.91" fill="#fff" stroke="#000" stroke-width="0.98" stroke-linejoin="round" />
<polygon points="401.45,68.77 401.35,66.87 422.35,54.37 422.45,56.27" fill="#fff" stroke="#000" stroke-width="0.98" stroke-linejoin="round" />
<polygon points="395.94,43.12 391.63,43.99 412.63,31.49 416.94,30.62" fill="#fff" stroke="#000" stroke-width="0.98" stroke-linejoin="round" />
<polygon points="398.57,50.9 394.06,50.84 415.06,38.34 419.57,38.4" fill="#fff" stroke="#000" stroke-width="0.98" stroke-linejoin="round" />
<polygon points="393.03,47.66 396.64,44.96 417.64,32.46 414.03,35.16" fill="#fff" stroke="#000" stroke-width="0.98" stroke-linejoin="round" />
<polygon points="400.7,60.8 400.39,58.88 421.39,46.38 421.7,48.3" fill="#fff" stroke="#000" stroke-width="0.98" stroke-linejoin="round" />
<polygon points="393.42,37.44 392.54,35.7 413.54,23.2 414.42,24.94" fill="#fff" stroke="#000" stroke-width="0.98" stroke-linejoin="round" />
<polygon points="399.09,52.81 398.57,50.9 419.57,38.4 420.09,40.31" fill="#fff" stroke="#000" stroke-width="0.98" stroke-linejoin="round" />
<polygon points="396.64,44.96 395.94,43.12 416.94,30.62 417.64,32.46" fill="#fff" stroke="#000" stroke-width="0.98" stroke-linejoin="round" />
<polygon points="374.64,106.43 375.75,106.17 378.35,112.01 379.63,111.59 378.3,105.34 379.36,104.9 380.39,104.4 383.53,109.83 384.71,109.14 382.73,103.02 383.69,102.35 384.62,101.63 388.23,106.54 389.27,105.59 386.7,99.73 387.53,98.85 388.34,97.91 392.34,102.19 393.23,101 390.11,95.54 390.81,94.46 391.47,93.34 395.77,96.89 396.48,95.48 392.89,90.55 393.44,89.3 393.95,88.01 398.45,90.75 398.97,89.17 394.99,84.86 395.37,83.47 395.71,82.05 400.31,83.91 400.63,82.19 396.35,78.61 396.55,77.1 396.72,75.58 401.32,76.53 401.43,74.7 396.94,71.93 396.96,70.35 396.95,68.75 401.45,68.77 401.35,66.87 396.75,64.97 396.59,63.35 396.4,61.72 400.7,60.8 400.39,58.88 395.78,57.89 395.45,56.26 395.08,54.63 399.09,52.81 398.57,50.9 394.06,50.84 393.56,49.24 393.03,47.66 396.64,44.96 395.94,43.12 391.63,43.99 390.97,42.46 390.28,40.95 393.42,37.44 392.54,35.7 388.53,37.49 387.73,36.06 386.9,34.65 389.5,30.41 388.47,28.81 384.84,31.47 383.91,30.17 382.96,28.91 384.97,24.03 383.8,22.61 380.63,26.09 379.61,24.95 378.56,23.85 379.92,18.44 378.65,17.23 376.02,21.45 374.91,20.5 373.78,19.59 374.47,13.77 373.12,12.79 371.09,17.66 369.92,16.91 368.74,16.22 368.75,10.12 367.35,9.4 365.95,14.8 364.76,14.28 363.55,13.82 362.87,7.57 361.45,7.13 360.73,12.94 359.53,12.66 358.33,12.43 356.97,6.19 355.57,6.03 355.54,12.12 354.36,12.09 353.19,12.1 351.19,5.99 349.83,6.12 350.49,12.37 349.36,12.57 348.25,12.83 345.65,6.99 344.37,7.41 345.7,13.66 344.64,14.1 343.61,14.6 340.47,9.17 339.29,9.86 341.27,15.98 340.31,16.65 339.38,17.37 335.77,12.46 334.73,13.41 337.3,19.27 336.47,20.15 335.66,21.09 331.66,16.81 330.77,18 333.89,23.46 333.19,24.54 332.53,25.66 328.23,22.11 327.52,23.52 331.11,28.45 330.56,29.7 330.05,30.99 325.55,28.25 325.03,29.83 329.01,34.14 328.63,35.53 328.29,36.95 323.69,35.09 323.37,36.81 327.65,40.39 327.45,41.9 327.28,43.42 322.68,42.47 322.57,44.3 327.06,47.07 327.04,48.65 327.05,50.25 322.55,50.23 322.65,52.13 327.25,54.03 327.41,55.65 327.6,57.28 323.3,58.2 323.61,60.12 328.22,61.11 328.55,62.74 328.92,64.37 324.91,66.19 325.43,68.1 329.94,68.16 330.44,69.76 330.97,71.34 327.36,74.04 328.06,75.88 332.37,75.01 333.03,76.54 333.72,78.05 330.58,81.56 331.46,83.3 335.47,81.51 336.27,82.94 337.1,84.35 334.5,88.59 335.53,90.19 339.16,87.53 340.09,88.83 341.04,90.09 339.03,94.97 340.2,96.39 343.37,92.91 344.39,94.05 345.44,95.15 344.08,100.56 345.35,101.77 347.98,97.55 349.09,98.5 350.22,99.41 349.53,105.23 350.88,106.21 352.91,101.34 354.08,102.09 355.26,102.78 355.25,108.88 356.65,109.6 358.05,104.2 359.24,104.72 360.45,105.18 361.13,111.43 362.55,111.87 363.27,106.06 364.47,106.34 365.67,106.57 367.03,112.81 368.43,112.97 368.46,106.88 369.64,106.91 370.81,106.9 372.81,113.01 374.17,112.88 373.51,106.63" fill="#fff" stroke="#000" stroke-width="0.98" stroke-linejoin="round" />
<polygon points="375.49,110.05 376.29,109.84 378.06,113.7 378.94,113.41 378.12,109.25 378.88,108.95 379.63,108.63 381.65,112.3 382.49,111.89 381.37,107.76 382.08,107.35 382.79,106.91 385.04,110.37 385.81,109.83 384.41,105.79 385.08,105.27 385.73,104.72 388.17,107.93 388.88,107.27 387.21,103.35 387.82,102.73 388.41,102.08 391.03,105 391.67,104.22 389.75,100.47 390.29,99.75 390.82,99 393.58,101.6 394.15,100.73 392,97.18 392.47,96.36 392.92,95.53 395.81,97.79 396.29,96.82 393.92,93.5 394.32,92.61 394.7,91.7 397.67,93.59 398.06,92.53 395.52,89.49 395.83,88.52 396.13,87.54 399.16,89.05 399.46,87.91 396.76,85.18 396.99,84.15 397.21,83.11 400.27,84.21 400.47,83.01 397.63,80.61 397.78,79.53 397.91,78.44 400.97,79.13 401.07,77.88 398.14,75.83 398.2,74.71 398.24,73.58 401.26,73.86 401.27,72.57 398.26,70.9 398.23,69.75 398.19,68.59 401.14,68.44 401.05,67.13 398,65.85 397.89,64.68 397.76,63.51 400.61,62.94 400.43,61.62 397.37,60.75 397.17,59.58 396.95,58.4 399.68,57.42 399.4,56.1 396.36,55.65 396.08,54.48 395.78,53.31 398.36,51.92 397.98,50.62 394.99,50.59 394.63,49.44 394.25,48.29 396.65,46.52 396.18,45.24 393.28,45.63 392.84,44.51 392.38,43.4 394.58,41.25 394.03,40.01 391.24,40.82 390.72,39.74 390.19,38.68 392.16,36.18 391.53,34.99 388.89,36.21 388.3,35.19 387.71,34.18 389.43,31.35 388.73,30.24 386.25,31.85 385.61,30.89 384.95,29.94 386.41,26.82 385.64,25.79 383.36,27.78 382.66,26.89 381.95,26.02 383.13,22.64 382.3,21.69 380.24,24.05 379.49,23.24 378.74,22.45 379.62,18.84 378.75,17.99 376.92,20.69 376.14,19.97 375.34,19.27 375.93,15.47 375.02,14.73 373.45,17.73 372.63,17.11 371.81,16.51 372.08,12.56 371.14,11.93 369.85,15.21 369,14.69 368.16,14.2 368.12,10.14 367.16,9.63 366.16,13.15 365.3,12.75 364.44,12.37 364.09,8.23 363.12,7.85 362.41,11.58 361.55,11.29 360.69,11.02 360.04,6.85 359.06,6.61 358.66,10.5 357.8,10.33 356.94,10.18 355.99,6.03 355.03,5.91 354.93,9.94 354.08,9.89 353.24,9.86 352,5.76 351.05,5.78 351.27,9.9 350.44,9.96 349.62,10.05 348.1,6.05 347.18,6.21 347.71,10.37 346.91,10.55 346.11,10.76 344.34,6.9 343.46,7.19 344.28,11.35 343.52,11.65 342.77,11.97 340.75,8.3 339.91,8.71 341.03,12.84 340.32,13.25 339.61,13.69 337.36,10.23 336.59,10.77 337.99,14.81 337.32,15.33 336.67,15.88 334.23,12.67 333.52,13.33 335.19,17.25 334.58,17.87 333.99,18.52 331.37,15.6 330.73,16.38 332.65,20.13 332.11,20.85 331.58,21.6 328.82,19 328.25,19.87 330.4,23.42 329.93,24.24 329.48,25.07 326.59,22.81 326.11,23.78 328.48,27.1 328.08,27.99 327.7,28.9 324.73,27.01 324.34,28.07 326.88,31.11 326.57,32.08 326.27,33.06 323.24,31.55 322.94,32.69 325.64,35.42 325.41,36.45 325.19,37.49 322.13,36.39 321.93,37.59 324.77,39.99 324.62,41.07 324.49,42.16 321.43,41.47 321.33,42.72 324.26,44.77 324.2,45.89 324.16,47.02 321.14,46.74 321.13,48.03 324.14,49.7 324.17,50.85 324.21,52.01 321.26,52.16 321.35,53.47 324.4,54.75 324.51,55.92 324.64,57.09 321.79,57.66 321.97,58.98 325.03,59.85 325.23,61.02 325.45,62.2 322.72,63.18 323,64.5 326.04,64.95 326.32,66.12 326.62,67.29 324.04,68.68 324.42,69.98 327.41,70.01 327.77,71.16 328.15,72.31 325.75,74.08 326.22,75.36 329.12,74.97 329.56,76.09 330.02,77.2 327.82,79.35 328.37,80.59 331.16,79.78 331.68,80.86 332.21,81.92 330.24,84.42 330.87,85.61 333.51,84.39 334.1,85.41 334.69,86.42 332.97,89.25 333.67,90.36 336.15,88.75 336.79,89.71 337.45,90.66 335.99,93.78 336.76,94.81 339.04,92.82 339.74,93.71 340.45,94.58 339.27,97.96 340.1,98.91 342.16,96.55 342.91,97.36 343.66,98.15 342.78,101.76 343.65,102.61 345.48,99.91 346.26,100.63 347.06,101.33 346.47,105.13 347.38,105.87 348.95,102.87 349.77,103.49 350.59,104.09 350.32,108.04 351.26,108.67 352.55,105.39 353.4,105.91 354.24,106.4 354.28,110.46 355.24,110.97 356.24,107.45 357.1,107.85 357.96,108.23 358.31,112.37 359.28,112.75 359.99,109.02 360.85,109.31 361.71,109.58 362.36,113.75 363.34,113.99 363.74,110.1 364.6,110.27 365.46,110.42 366.41,114.57 367.37,114.69 367.47,110.66 368.32,110.71 369.16,110.74 370.4,114.84 371.35,114.82 371.13,110.7 371.96,110.64 372.78,110.55 374.3,114.55 375.22,114.39 374.69,110.23" fill="#fff" stroke="#000" stroke-width="0.92" stroke-linejoin="round" />
<polygon points="325.42,67.99 322.84,69.38 324.04,68.68 326.62,67.29" fill="#fff" stroke="#000" stroke-width="0.92" stroke-linejoin="round" />
<polygon points="324.25,62.9 321.52,63.88 322.72,63.18 325.45,62.2" fill="#fff" stroke="#000" stroke-width="0.92" stroke-linejoin="round" />
<polygon points="323.44,57.79 320.59,58.36 321.79,57.66 324.64,57.09" fill="#fff" stroke="#000" stroke-width="0.92" stroke-linejoin="round" />
<polygon points="323.01,52.71 320.06,52.86 321.26,52.16 324.21,52.01" fill="#fff" stroke="#000" stroke-width="0.92" stroke-linejoin="round" />
<polygon points="332.47,91.06 334.95,89.45 336.15,88.75 333.67,90.36" fill="#fff" stroke="#000" stroke-width="0.92" stroke-linejoin="round" />
<polygon points="335.56,95.51 337.84,93.52 339.04,92.82 336.76,94.81" fill="#fff" stroke="#000" stroke-width="0.92" stroke-linejoin="round" />
<polygon points="322.96,47.72 319.94,47.44 321.14,46.74 324.16,47.02" fill="#fff" stroke="#000" stroke-width="0.92" stroke-linejoin="round" />
<polygon points="338.9,99.61 340.96,97.25 342.16,96.55 340.1,98.91" fill="#fff" stroke="#000" stroke-width="0.92" stroke-linejoin="round" />
<polygon points="323.29,42.86 320.23,42.17 321.43,41.47 324.49,42.16" fill="#fff" stroke="#000" stroke-width="0.92" stroke-linejoin="round" />
<polygon points="342.45,103.31 344.28,100.61 345.48,99.91 343.65,102.61" fill="#fff" stroke="#000" stroke-width="0.92" stroke-linejoin="round" />
<polygon points="323.99,38.19 320.93,37.09 322.13,36.39 325.19,37.49" fill="#fff" stroke="#000" stroke-width="0.92" stroke-linejoin="round" />
<polygon points="346.18,106.57 347.75,103.57 348.95,102.87 347.38,105.87" fill="#fff" stroke="#000" stroke-width="0.92" stroke-linejoin="round" />
<polygon points="325.07,33.76 322.04,32.25 323.24,31.55 326.27,33.06" fill="#fff" stroke="#000" stroke-width="0.92" stroke-linejoin="round" />
<polygon points="326.5,29.6 323.53,27.71 324.73,27.01 327.7,28.9" fill="#fff" stroke="#000" stroke-width="0.92" stroke-linejoin="round" />
<polygon points="350.06,109.37 351.35,106.09 352.55,105.39 351.26,108.67" fill="#fff" stroke="#000" stroke-width="0.92" stroke-linejoin="round" />
<polygon points="328.28,25.77 325.39,23.51 326.59,22.81 329.48,25.07" fill="#fff" stroke="#000" stroke-width="0.92" stroke-linejoin="round" />
<polygon points="354.04,111.67 355.04,108.15 356.24,107.45 355.24,110.97" fill="#fff" stroke="#000" stroke-width="0.92" stroke-linejoin="round" />
<polygon points="358.08,113.45 358.79,109.72 359.99,109.02 359.28,112.75" fill="#fff" stroke="#000" stroke-width="0.92" stroke-linejoin="round" />
<polygon points="330.38,22.3 327.62,19.7 328.82,19 331.58,21.6" fill="#fff" stroke="#000" stroke-width="0.92" stroke-linejoin="round" />
<polygon points="362.14,114.69 362.54,110.8 363.74,110.1 363.34,113.99" fill="#fff" stroke="#000" stroke-width="0.92" stroke-linejoin="round" />
<polygon points="332.79,19.22 330.17,16.3 331.37,15.6 333.99,18.52" fill="#fff" stroke="#000" stroke-width="0.92" stroke-linejoin="round" />
<polygon points="366.17,115.39 366.27,111.36 367.47,110.66 367.37,114.69" fill="#fff" stroke="#000" stroke-width="0.92" stroke-linejoin="round" />
<polygon points="335.47,16.58 333.03,13.37 334.23,12.67 336.67,15.88" fill="#fff" stroke="#000" stroke-width="0.92" stroke-linejoin="round" />
<polygon points="338.41,14.39 336.16,10.93 337.36,10.23 339.61,13.69" fill="#fff" stroke="#000" stroke-width="0.92" stroke-linejoin="round" />
<polygon points="370.15,115.52 369.93,111.4 371.13,110.7 371.35,114.82" fill="#fff" stroke="#000" stroke-width="0.92" stroke-linejoin="round" />
<polygon points="339.83,13.54 339.12,13.95 340.32,13.25 341.03,12.84" fill="#fff" stroke="#000" stroke-width="0.92" stroke-linejoin="round" />
<polygon points="339.55,9 338.71,9.41 339.91,8.71 340.75,8.3" fill="#fff" stroke="#000" stroke-width="0.92" stroke-linejoin="round" />
<polygon points="374.02,115.09 373.49,110.93 374.69,110.23 375.22,114.39" fill="#fff" stroke="#000" stroke-width="0.92" stroke-linejoin="round" />
<polygon points="341.57,12.67 339.55,9 340.75,8.3 342.77,11.97" fill="#fff" stroke="#000" stroke-width="0.92" stroke-linejoin="round" />
<polygon points="342.32,12.35 341.57,12.67 342.77,11.97 343.52,11.65" fill="#fff" stroke="#000" stroke-width="0.92" stroke-linejoin="round" />
<polygon points="343.08,12.05 342.32,12.35 343.52,11.65 344.28,11.35" fill="#fff" stroke="#000" stroke-width="0.92" stroke-linejoin="round" />
<polygon points="343.14,7.6 342.26,7.89 343.46,7.19 344.34,6.9" fill="#fff" stroke="#000" stroke-width="0.92" stroke-linejoin="round" />
<polygon points="377.74,114.11 376.92,109.95 378.12,109.25 378.94,113.41" fill="#fff" stroke="#000" stroke-width="0.92" stroke-linejoin="round" />
<polygon points="344.91,11.46 343.14,7.6 344.34,6.9 346.11,10.76" fill="#fff" stroke="#000" stroke-width="0.92" stroke-linejoin="round" />
<polygon points="345.71,11.25 344.91,11.46 346.11,10.76 346.91,10.55" fill="#fff" stroke="#000" stroke-width="0.92" stroke-linejoin="round" />
<polygon points="346.51,11.07 345.71,11.25 346.91,10.55 347.71,10.37" fill="#fff" stroke="#000" stroke-width="0.92" stroke-linejoin="round" />
<polygon points="346.9,6.75 345.98,6.91 347.18,6.21 348.1,6.05" fill="#fff" stroke="#000" stroke-width="0.92" stroke-linejoin="round" />
<polygon points="348.42,10.75 346.9,6.75 348.1,6.05 349.62,10.05" fill="#fff" stroke="#000" stroke-width="0.92" stroke-linejoin="round" />
<polygon points="381.29,112.59 380.17,108.46 381.37,107.76 382.49,111.89" fill="#fff" stroke="#000" stroke-width="0.92" stroke-linejoin="round" />
<polygon points="349.24,10.66 348.42,10.75 349.62,10.05 350.44,9.96" fill="#fff" stroke="#000" stroke-width="0.92" stroke-linejoin="round" />
<polygon points="380.88,108.05 381.59,107.61 382.79,106.91 382.08,107.35" fill="#fff" stroke="#000" stroke-width="0.92" stroke-linejoin="round" />
<polygon points="350.07,10.6 349.24,10.66 350.44,9.96 351.27,9.9" fill="#fff" stroke="#000" stroke-width="0.92" stroke-linejoin="round" />
<polygon points="383.84,111.07 384.61,110.53 385.81,109.83 385.04,110.37" fill="#fff" stroke="#000" stroke-width="0.92" stroke-linejoin="round" />
<polygon points="350.8,6.46 349.85,6.48 351.05,5.78 352,5.76" fill="#fff" stroke="#000" stroke-width="0.92" stroke-linejoin="round" />
<polygon points="352.04,10.56 350.8,6.46 352,5.76 353.24,9.86" fill="#fff" stroke="#000" stroke-width="0.92" stroke-linejoin="round" />
<polygon points="384.61,110.53 383.21,106.49 384.41,105.79 385.81,109.83" fill="#fff" stroke="#000" stroke-width="0.92" stroke-linejoin="round" />
<polygon points="352.88,10.59 352.04,10.56 353.24,9.86 354.08,9.89" fill="#fff" stroke="#000" stroke-width="0.92" stroke-linejoin="round" />
<polygon points="383.21,106.49 383.88,105.97 385.08,105.27 384.41,105.79" fill="#fff" stroke="#000" stroke-width="0.92" stroke-linejoin="round" />
<polygon points="353.73,10.64 352.88,10.59 354.08,9.89 354.93,9.94" fill="#fff" stroke="#000" stroke-width="0.92" stroke-linejoin="round" />
<polygon points="383.88,105.97 384.53,105.42 385.73,104.72 385.08,105.27" fill="#fff" stroke="#000" stroke-width="0.92" stroke-linejoin="round" />
<polygon points="386.97,108.63 387.68,107.97 388.88,107.27 388.17,107.93" fill="#fff" stroke="#000" stroke-width="0.92" stroke-linejoin="round" />
<polygon points="354.79,6.73 353.83,6.61 355.03,5.91 355.99,6.03" fill="#fff" stroke="#000" stroke-width="0.92" stroke-linejoin="round" />
<polygon points="387.68,107.97 386.01,104.05 387.21,103.35 388.88,107.27" fill="#fff" stroke="#000" stroke-width="0.92" stroke-linejoin="round" />
<polygon points="355.74,10.88 354.79,6.73 355.99,6.03 356.94,10.18" fill="#fff" stroke="#000" stroke-width="0.92" stroke-linejoin="round" />
<polygon points="386.01,104.05 386.62,103.43 387.82,102.73 387.21,103.35" fill="#fff" stroke="#000" stroke-width="0.92" stroke-linejoin="round" />
<polygon points="356.6,11.03 355.74,10.88 356.94,10.18 357.8,10.33" fill="#fff" stroke="#000" stroke-width="0.92" stroke-linejoin="round" />
<polygon points="357.46,11.2 356.6,11.03 357.8,10.33 358.66,10.5" fill="#fff" stroke="#000" stroke-width="0.92" stroke-linejoin="round" />
<polygon points="386.62,103.43 387.21,102.78 388.41,102.08 387.82,102.73" fill="#fff" stroke="#000" stroke-width="0.92" stroke-linejoin="round" />
<polygon points="358.84,7.55 357.86,7.31 359.06,6.61 360.04,6.85" fill="#fff" stroke="#000" stroke-width="0.92" stroke-linejoin="round" />
<polygon points="389.83,105.7 390.47,104.92 391.67,104.22 391.03,105" fill="#fff" stroke="#000" stroke-width="0.92" stroke-linejoin="round" />
<polygon points="359.49,11.72 358.84,7.55 360.04,6.85 360.69,11.02" fill="#fff" stroke="#000" stroke-width="0.92" stroke-linejoin="round" />
<polygon points="390.47,104.92 388.55,101.17 389.75,100.47 391.67,104.22" fill="#fff" stroke="#000" stroke-width="0.92" stroke-linejoin="round" />
<polygon points="360.35,11.99 359.49,11.72 360.69,11.02 361.55,11.29" fill="#fff" stroke="#000" stroke-width="0.92" stroke-linejoin="round" />
<polygon points="388.55,101.17 389.09,100.45 390.29,99.75 389.75,100.47" fill="#fff" stroke="#000" stroke-width="0.92" stroke-linejoin="round" />
<polygon points="389.09,100.45 389.62,99.7 390.82,99 390.29,99.75" fill="#fff" stroke="#000" stroke-width="0.92" stroke-linejoin="round" />
<polygon points="361.21,12.28 360.35,11.99 361.55,11.29 362.41,11.58" fill="#fff" stroke="#000" stroke-width="0.92" stroke-linejoin="round" />
<polygon points="364.1,13.45 363.24,13.07 364.44,12.37 365.3,12.75" fill="#fff" stroke="#000" stroke-width="0.92" stroke-linejoin="round" />
<polygon points="390.8,97.88 391.27,97.06 392.47,96.36 392,97.18" fill="#fff" stroke="#000" stroke-width="0.92" stroke-linejoin="round" />
<polygon points="392.95,101.43 390.8,97.88 392,97.18 394.15,100.73" fill="#fff" stroke="#000" stroke-width="0.92" stroke-linejoin="round" />
<polygon points="363.24,13.07 362.89,8.93 364.09,8.23 364.44,12.37" fill="#fff" stroke="#000" stroke-width="0.92" stroke-linejoin="round" />
<polygon points="362.89,8.93 361.92,8.55 363.12,7.85 364.09,8.23" fill="#fff" stroke="#000" stroke-width="0.92" stroke-linejoin="round" />
<polygon points="392.38,102.3 392.95,101.43 394.15,100.73 393.58,101.6" fill="#fff" stroke="#000" stroke-width="0.92" stroke-linejoin="round" />
<polygon points="391.27,97.06 391.72,96.23 392.92,95.53 392.47,96.36" fill="#fff" stroke="#000" stroke-width="0.92" stroke-linejoin="round" />
<polygon points="364.96,13.85 364.1,13.45 365.3,12.75 366.16,13.15" fill="#fff" stroke="#000" stroke-width="0.92" stroke-linejoin="round" />
<polygon points="367.8,15.39 366.96,14.9 368.16,14.2 369,14.69" fill="#fff" stroke="#000" stroke-width="0.92" stroke-linejoin="round" />
<polygon points="392.72,94.2 393.12,93.31 394.32,92.61 393.92,93.5" fill="#fff" stroke="#000" stroke-width="0.92" stroke-linejoin="round" />
<polygon points="395.09,97.52 392.72,94.2 393.92,93.5 396.29,96.82" fill="#fff" stroke="#000" stroke-width="0.92" stroke-linejoin="round" />
<polygon points="366.96,14.9 366.92,10.84 368.12,10.14 368.16,14.2" fill="#fff" stroke="#000" stroke-width="0.92" stroke-linejoin="round" />
<polygon points="366.92,10.84 365.96,10.33 367.16,9.63 368.12,10.14" fill="#fff" stroke="#000" stroke-width="0.92" stroke-linejoin="round" />
<polygon points="394.61,98.49 395.09,97.52 396.29,96.82 395.81,97.79" fill="#fff" stroke="#000" stroke-width="0.92" stroke-linejoin="round" />
<polygon points="393.12,93.31 393.5,92.4 394.7,91.7 394.32,92.61" fill="#fff" stroke="#000" stroke-width="0.92" stroke-linejoin="round" />
<polygon points="368.65,15.91 367.8,15.39 369,14.69 369.85,15.21" fill="#fff" stroke="#000" stroke-width="0.92" stroke-linejoin="round" />
<polygon points="394.32,90.19 394.63,89.22 395.83,88.52 395.52,89.49" fill="#fff" stroke="#000" stroke-width="0.92" stroke-linejoin="round" />
<polygon points="371.43,17.81 370.61,17.21 371.81,16.51 372.63,17.11" fill="#fff" stroke="#000" stroke-width="0.92" stroke-linejoin="round" />
<polygon points="396.86,93.23 394.32,90.19 395.52,89.49 398.06,92.53" fill="#fff" stroke="#000" stroke-width="0.92" stroke-linejoin="round" />
<polygon points="370.61,17.21 370.88,13.26 372.08,12.56 371.81,16.51" fill="#fff" stroke="#000" stroke-width="0.92" stroke-linejoin="round" />
<polygon points="394.63,89.22 394.93,88.24 396.13,87.54 395.83,88.52" fill="#fff" stroke="#000" stroke-width="0.92" stroke-linejoin="round" />
<polygon points="372.25,18.43 371.43,17.81 372.63,17.11 373.45,17.73" fill="#fff" stroke="#000" stroke-width="0.92" stroke-linejoin="round" />
<polygon points="396.47,94.29 396.86,93.23 398.06,92.53 397.67,93.59" fill="#fff" stroke="#000" stroke-width="0.92" stroke-linejoin="round" />
<polygon points="370.88,13.26 369.94,12.63 371.14,11.93 372.08,12.56" fill="#fff" stroke="#000" stroke-width="0.92" stroke-linejoin="round" />
<polygon points="395.56,85.88 395.79,84.85 396.99,84.15 396.76,85.18" fill="#fff" stroke="#000" stroke-width="0.92" stroke-linejoin="round" />
<polygon points="374.94,20.67 374.14,19.97 375.34,19.27 376.14,19.97" fill="#fff" stroke="#000" stroke-width="0.92" stroke-linejoin="round" />
<polygon points="395.79,84.85 396.01,83.81 397.21,83.11 396.99,84.15" fill="#fff" stroke="#000" stroke-width="0.92" stroke-linejoin="round" />
<polygon points="375.72,21.39 374.94,20.67 376.14,19.97 376.92,20.69" fill="#fff" stroke="#000" stroke-width="0.92" stroke-linejoin="round" />
<polygon points="398.26,88.61 395.56,85.88 396.76,85.18 399.46,87.91" fill="#fff" stroke="#000" stroke-width="0.92" stroke-linejoin="round" />
<polygon points="374.14,19.97 374.73,16.17 375.93,15.47 375.34,19.27" fill="#fff" stroke="#000" stroke-width="0.92" stroke-linejoin="round" />
<polygon points="397.96,89.75 398.26,88.61 399.46,87.91 399.16,89.05" fill="#fff" stroke="#000" stroke-width="0.92" stroke-linejoin="round" />
<polygon points="374.73,16.17 373.82,15.43 375.02,14.73 375.93,15.47" fill="#fff" stroke="#000" stroke-width="0.92" stroke-linejoin="round" />
<polygon points="396.43,81.31 396.58,80.23 397.78,79.53 397.63,80.61" fill="#fff" stroke="#000" stroke-width="0.92" stroke-linejoin="round" />
<polygon points="378.29,23.94 377.54,23.15 378.74,22.45 379.49,23.24" fill="#fff" stroke="#000" stroke-width="0.92" stroke-linejoin="round" />
<polygon points="396.58,80.23 396.71,79.14 397.91,78.44 397.78,79.53" fill="#fff" stroke="#000" stroke-width="0.92" stroke-linejoin="round" />
<polygon points="379.04,24.75 378.29,23.94 379.49,23.24 380.24,24.05" fill="#fff" stroke="#000" stroke-width="0.92" stroke-linejoin="round" />
<polygon points="377.54,23.15 378.42,19.54 379.62,18.84 378.74,22.45" fill="#fff" stroke="#000" stroke-width="0.92" stroke-linejoin="round" />
<polygon points="399.27,83.71 396.43,81.31 397.63,80.61 400.47,83.01" fill="#fff" stroke="#000" stroke-width="0.92" stroke-linejoin="round" />
<polygon points="378.42,19.54 377.55,18.69 378.75,17.99 379.62,18.84" fill="#fff" stroke="#000" stroke-width="0.92" stroke-linejoin="round" />
<polygon points="399.07,84.91 399.27,83.71 400.47,83.01 400.27,84.21" fill="#fff" stroke="#000" stroke-width="0.92" stroke-linejoin="round" />
<polygon points="396.94,76.53 397,75.41 398.2,74.71 398.14,75.83" fill="#fff" stroke="#000" stroke-width="0.92" stroke-linejoin="round" />
<polygon points="381.46,27.59 380.75,26.72 381.95,26.02 382.66,26.89" fill="#fff" stroke="#000" stroke-width="0.92" stroke-linejoin="round" />
<polygon points="397,75.41 397.04,74.28 398.24,73.58 398.2,74.71" fill="#fff" stroke="#000" stroke-width="0.92" stroke-linejoin="round" />
<polygon points="382.16,28.48 381.46,27.59 382.66,26.89 383.36,27.78" fill="#fff" stroke="#000" stroke-width="0.92" stroke-linejoin="round" />
<polygon points="399.87,78.58 396.94,76.53 398.14,75.83 401.07,77.88" fill="#fff" stroke="#000" stroke-width="0.92" stroke-linejoin="round" />
<polygon points="380.75,26.72 381.93,23.34 383.13,22.64 381.95,26.02" fill="#fff" stroke="#000" stroke-width="0.92" stroke-linejoin="round" />
<polygon points="384.41,31.59 383.75,30.64 384.95,29.94 385.61,30.89" fill="#fff" stroke="#000" stroke-width="0.92" stroke-linejoin="round" />
<polygon points="397.06,71.6 397.03,70.45 398.23,69.75 398.26,70.9" fill="#fff" stroke="#000" stroke-width="0.92" stroke-linejoin="round" />
<polygon points="381.93,23.34 381.1,22.39 382.3,21.69 383.13,22.64" fill="#fff" stroke="#000" stroke-width="0.92" stroke-linejoin="round" />
<polygon points="399.77,79.83 399.87,78.58 401.07,77.88 400.97,79.13" fill="#fff" stroke="#000" stroke-width="0.92" stroke-linejoin="round" />
<polygon points="385.05,32.55 384.41,31.59 385.61,30.89 386.25,31.85" fill="#fff" stroke="#000" stroke-width="0.92" stroke-linejoin="round" />
<polygon points="397.03,70.45 396.99,69.29 398.19,68.59 398.23,69.75" fill="#fff" stroke="#000" stroke-width="0.92" stroke-linejoin="round" />
<polygon points="400.07,73.27 397.06,71.6 398.26,70.9 401.27,72.57" fill="#fff" stroke="#000" stroke-width="0.92" stroke-linejoin="round" />
<polygon points="383.75,30.64 385.21,27.52 386.41,26.82 384.95,29.94" fill="#fff" stroke="#000" stroke-width="0.92" stroke-linejoin="round" />
<polygon points="387.1,35.89 386.51,34.88 387.71,34.18 388.3,35.19" fill="#fff" stroke="#000" stroke-width="0.92" stroke-linejoin="round" />
<polygon points="396.8,66.55 396.69,65.38 397.89,64.68 398,65.85" fill="#fff" stroke="#000" stroke-width="0.92" stroke-linejoin="round" />
<polygon points="387.69,36.91 387.1,35.89 388.3,35.19 388.89,36.21" fill="#fff" stroke="#000" stroke-width="0.92" stroke-linejoin="round" />
<polygon points="396.69,65.38 396.56,64.21 397.76,63.51 397.89,64.68" fill="#fff" stroke="#000" stroke-width="0.92" stroke-linejoin="round" />
<polygon points="400.06,74.56 400.07,73.27 401.27,72.57 401.26,73.86" fill="#fff" stroke="#000" stroke-width="0.92" stroke-linejoin="round" />
<polygon points="385.21,27.52 384.44,26.49 385.64,25.79 386.41,26.82" fill="#fff" stroke="#000" stroke-width="0.92" stroke-linejoin="round" />
<polygon points="389.52,40.44 388.99,39.38 390.19,38.68 390.72,39.74" fill="#fff" stroke="#000" stroke-width="0.92" stroke-linejoin="round" />
<polygon points="396.17,61.45 395.97,60.28 397.17,59.58 397.37,60.75" fill="#fff" stroke="#000" stroke-width="0.92" stroke-linejoin="round" />
<polygon points="390.04,41.52 389.52,40.44 390.72,39.74 391.24,40.82" fill="#fff" stroke="#000" stroke-width="0.92" stroke-linejoin="round" />
<polygon points="395.97,60.28 395.75,59.1 396.95,58.4 397.17,59.58" fill="#fff" stroke="#000" stroke-width="0.92" stroke-linejoin="round" />
<polygon points="386.51,34.88 388.23,32.05 389.43,31.35 387.71,34.18" fill="#fff" stroke="#000" stroke-width="0.92" stroke-linejoin="round" />
<polygon points="399.85,67.83 396.8,66.55 398,65.85 401.05,67.13" fill="#fff" stroke="#000" stroke-width="0.92" stroke-linejoin="round" />
<polygon points="391.64,45.21 391.18,44.1 392.38,43.4 392.84,44.51" fill="#fff" stroke="#000" stroke-width="0.92" stroke-linejoin="round" />
<polygon points="395.16,56.35 394.88,55.18 396.08,54.48 396.36,55.65" fill="#fff" stroke="#000" stroke-width="0.92" stroke-linejoin="round" />
<polygon points="392.08,46.33 391.64,45.21 392.84,44.51 393.28,45.63" fill="#fff" stroke="#000" stroke-width="0.92" stroke-linejoin="round" />
<polygon points="394.88,55.18 394.58,54.01 395.78,53.31 396.08,54.48" fill="#fff" stroke="#000" stroke-width="0.92" stroke-linejoin="round" />
<polygon points="393.43,50.14 393.05,48.99 394.25,48.29 394.63,49.44" fill="#fff" stroke="#000" stroke-width="0.92" stroke-linejoin="round" />
<polygon points="393.79,51.29 393.43,50.14 394.63,49.44 394.99,50.59" fill="#fff" stroke="#000" stroke-width="0.92" stroke-linejoin="round" />
<polygon points="390.33,35.69 387.69,36.91 388.89,36.21 391.53,34.99" fill="#fff" stroke="#000" stroke-width="0.92" stroke-linejoin="round" />
<polygon points="388.99,39.38 390.96,36.88 392.16,36.18 390.19,38.68" fill="#fff" stroke="#000" stroke-width="0.92" stroke-linejoin="round" />
<polygon points="399.23,62.32 396.17,61.45 397.37,60.75 400.43,61.62" fill="#fff" stroke="#000" stroke-width="0.92" stroke-linejoin="round" />
<polygon points="399.94,69.14 399.85,67.83 401.05,67.13 401.14,68.44" fill="#fff" stroke="#000" stroke-width="0.92" stroke-linejoin="round" />
<polygon points="388.23,32.05 387.53,30.94 388.73,30.24 389.43,31.35" fill="#fff" stroke="#000" stroke-width="0.92" stroke-linejoin="round" />
<polygon points="392.83,40.71 390.04,41.52 391.24,40.82 394.03,40.01" fill="#fff" stroke="#000" stroke-width="0.92" stroke-linejoin="round" />
<polygon points="391.18,44.1 393.38,41.95 394.58,41.25 392.38,43.4" fill="#fff" stroke="#000" stroke-width="0.92" stroke-linejoin="round" />
<polygon points="398.2,56.8 395.16,56.35 396.36,55.65 399.4,56.1" fill="#fff" stroke="#000" stroke-width="0.92" stroke-linejoin="round" />
<polygon points="394.98,45.94 392.08,46.33 393.28,45.63 396.18,45.24" fill="#fff" stroke="#000" stroke-width="0.92" stroke-linejoin="round" />
<polygon points="393.05,48.99 395.45,47.22 396.65,46.52 394.25,48.29" fill="#fff" stroke="#000" stroke-width="0.92" stroke-linejoin="round" />
<polygon points="396.78,51.32 393.79,51.29 394.99,50.59 397.98,50.62" fill="#fff" stroke="#000" stroke-width="0.92" stroke-linejoin="round" />
<polygon points="390.96,36.88 390.33,35.69 391.53,34.99 392.16,36.18" fill="#fff" stroke="#000" stroke-width="0.92" stroke-linejoin="round" />
<polygon points="399.41,63.64 399.23,62.32 400.43,61.62 400.61,62.94" fill="#fff" stroke="#000" stroke-width="0.92" stroke-linejoin="round" />
<polygon points="393.38,41.95 392.83,40.71 394.03,40.01 394.58,41.25" fill="#fff" stroke="#000" stroke-width="0.92" stroke-linejoin="round" />
<polygon points="398.48,58.12 398.2,56.8 399.4,56.1 399.68,57.42" fill="#fff" stroke="#000" stroke-width="0.92" stroke-linejoin="round" />
<polygon points="395.45,47.22 394.98,45.94 396.18,45.24 396.65,46.52" fill="#fff" stroke="#000" stroke-width="0.92" stroke-linejoin="round" />
<polygon points="397.16,52.62 396.78,51.32 397.98,50.62 398.36,51.92" fill="#fff" stroke="#000" stroke-width="0.92" stroke-linejoin="round" />
<polygon points="374.29,110.75 375.09,110.54 376.86,114.4 377.74,114.11 376.92,109.95 377.68,109.65 378.43,109.33 380.45,113 381.29,112.59 380.17,108.46 380.88,108.05 381.59,107.61 383.84,111.07 384.61,110.53 383.21,106.49 383.88,105.97 384.53,105.42 386.97,108.63 387.68,107.97 386.01,104.05 386.62,103.43 387.21,102.78 389.83,105.7 390.47,104.92 388.55,101.17 389.09,100.45 389.62,99.7 392.38,102.3 392.95,101.43 390.8,97.88 391.27,97.06 391.72,96.23 394.61,98.49 395.09,97.52 392.72,94.2 393.12,93.31 393.5,92.4 396.47,94.29 396.86,93.23 394.32,90.19 394.63,89.22 394.93,88.24 397.96,89.75 398.26,88.61 395.56,85.88 395.79,84.85 396.01,83.81 399.07,84.91 399.27,83.71 396.43,81.31 396.58,80.23 396.71,79.14 399.77,79.83 399.87,78.58 396.94,76.53 397,75.41 397.04,74.28 400.06,74.56 400.07,73.27 397.06,71.6 397.03,70.45 396.99,69.29 399.94,69.14 399.85,67.83 396.8,66.55 396.69,65.38 396.56,64.21 399.41,63.64 399.23,62.32 396.17,61.45 395.97,60.28 395.75,59.1 398.48,58.12 398.2,56.8 395.16,56.35 394.88,55.18 394.58,54.01 397.16,52.62 396.78,51.32 393.79,51.29 393.43,50.14 393.05,48.99 395.45,47.22 394.98,45.94 392.08,46.33 391.64,45.21 391.18,44.1 393.38,41.95 392.83,40.71 390.04,41.52 389.52,40.44 388.99,39.38 390.96,36.88 390.33,35.69 387.69,36.91 387.1,35.89 386.51,34.88 388.23,32.05 387.53,30.94 385.05,32.55 384.41,31.59 383.75,30.64 385.21,27.52 384.44,26.49 382.16,28.48 381.46,27.59 380.75,26.72 381.93,23.34 381.1,22.39 379.04,24.75 378.29,23.94 377.54,23.15 378.42,19.54 377.55,18.69 375.72,21.39 374.94,20.67 374.14,19.97 374.73,16.17 373.82,15.43 372.25,18.43 371.43,17.81 370.61,17.21 370.88,13.26 369.94,12.63 368.65,15.91 367.8,15.39 366.96,14.9 366.92,10.84 365.96,10.33 364.96,13.85 364.1,13.45 363.24,13.07 362.89,8.93 361.92,8.55 361.21,12.28 360.35,11.99 359.49,11.72 358.84,7.55 357.86,7.31 357.46,11.2 356.6,11.03 355.74,10.88 354.79,6.73 353.83,6.61 353.73,10.64 352.88,10.59 352.04,10.56 350.8,6.46 349.85,6.48 350.07,10.6 349.24,10.66 348.42,10.75 346.9,6.75 345.98,6.91 346.51,11.07 345.71,11.25 344.91,11.46 343.14,7.6 342.26,7.89 343.08,12.05 342.32,12.35 341.57,12.67 339.55,9 338.71,9.41 339.83,13.54 339.12,13.95 338.41,14.39 336.16,10.93 335.39,11.47 336.79,15.51 336.12,16.03 335.47,16.58 333.03,13.37 332.32,14.03 333.99,17.95 333.38,18.57 332.79,19.22 330.17,16.3 329.53,17.08 331.45,20.83 330.91,21.55 330.38,22.3 327.62,19.7 327.05,20.57 329.2,24.12 328.73,24.94 328.28,25.77 325.39,23.51 324.91,24.48 327.28,27.8 326.88,28.69 326.5,29.6 323.53,27.71 323.14,28.77 325.68,31.81 325.37,32.78 325.07,33.76 322.04,32.25 321.74,33.39 324.44,36.12 324.21,37.15 323.99,38.19 320.93,37.09 320.73,38.29 323.57,40.69 323.42,41.77 323.29,42.86 320.23,42.17 320.13,43.42 323.06,45.47 323,46.59 322.96,47.72 319.94,47.44 319.93,48.73 322.94,50.4 322.97,51.55 323.01,52.71 320.06,52.86 320.15,54.17 323.2,55.45 323.31,56.62 323.44,57.79 320.59,58.36 320.77,59.68 323.83,60.55 324.03,61.72 324.25,62.9 321.52,63.88 321.8,65.2 324.84,65.65 325.12,66.82 325.42,67.99 322.84,69.38 323.22,70.68 326.21,70.71 326.57,71.86 326.95,73.01 324.55,74.78 325.02,76.06 327.92,75.67 328.36,76.79 328.82,77.9 326.62,80.05 327.17,81.29 329.96,80.48 330.48,81.56 331.01,82.62 329.04,85.12 329.67,86.31 332.31,85.09 332.9,86.11 333.49,87.12 331.77,89.95 332.47,91.06 334.95,89.45 335.59,90.41 336.25,91.36 334.79,94.48 335.56,95.51 337.84,93.52 338.54,94.41 339.25,95.28 338.07,98.66 338.9,99.61 340.96,97.25 341.71,98.06 342.46,98.85 341.58,102.46 342.45,103.31 344.28,100.61 345.06,101.33 345.86,102.03 345.27,105.83 346.18,106.57 347.75,103.57 348.57,104.19 349.39,104.79 349.12,108.74 350.06,109.37 351.35,106.09 352.2,106.61 353.04,107.1 353.08,111.16 354.04,111.67 355.04,108.15 355.9,108.55 356.76,108.93 357.11,113.07 358.08,113.45 358.79,109.72 359.65,110.01 360.51,110.28 361.16,114.45 362.14,114.69 362.54,110.8 363.4,110.97 364.26,111.12 365.21,115.27 366.17,115.39 366.27,111.36 367.12,111.41 367.96,111.44 369.2,115.54 370.15,115.52 369.93,111.4 370.76,111.34 371.58,111.25 373.1,115.25 374.02,115.09 373.49,110.93" fill="#fff" stroke="#000" stroke-width="0.92" stroke-linejoin="round" />
<ellipse cx="360" cy="61" rx="35.15" ry="51.8" transform="rotate(-18 360 61)" fill="none" stroke="#000" stroke-width="1.15" />
<ellipse cx="360" cy="61" rx="34.01" ry="50.12" transform="rotate(-18 360 61)" fill="none" stroke="#000" stroke-width="0.8" />
<ellipse cx="362" cy="64" rx="27" ry="40" transform="rotate(-18 362 64)" fill="none" stroke="#000" stroke-width="1.26" />
<ellipse cx="358" cy="65" rx="19.5" ry="28" transform="rotate(-18 358 65)" fill="none" stroke="#000" stroke-width="1.15" />
<ellipse cx="346.4" cy="32.9" rx="1.7" ry="2.5" transform="rotate(-18 346.4 32.9)" fill="#fff" stroke="#000" stroke-width="1.26" />
<ellipse cx="380.2" cy="52.4" rx="1.7" ry="2.5" transform="rotate(-18 380.2 52.4)" fill="#fff" stroke="#000" stroke-width="1.26" />
<ellipse cx="380.2" cy="90.6" rx="1.7" ry="2.5" transform="rotate(-18 380.2 90.6)" fill="#fff" stroke="#000" stroke-width="1.26" />
<ellipse cx="362.5" cy="61" rx="10" ry="12.5" transform="rotate(-18 362.5 61)" fill="#fff" stroke="#000" stroke-width="1.38" />
<polygon points="354.9,79.7 367.9,72.2 357.1,49.8 344.1,57.3" fill="#fff" stroke="none" stroke-width="0" stroke-linejoin="round" />
<line x1="354.9" y1="79.7" x2="367.9" y2="72.2" stroke="#000" stroke-width="1.38" />
<line x1="344.1" y1="57.3" x2="357.1" y2="49.8" stroke="#000" stroke-width="1.38" />
<ellipse cx="349.5" cy="68.5" rx="10" ry="12.5" transform="rotate(-18 349.5 68.5)" fill="#fff" stroke="#000" stroke-width="1.38" />
<ellipse cx="349.5" cy="68.5" rx="6.5" ry="8.5" transform="rotate(-18 349.5 68.5)" fill="#fff" stroke="#000" stroke-width="1.26" />
<line x1="343" y1="67.5" x2="356" y2="64.5" stroke="#000" stroke-width="1.15" />
<line x1="344" y1="71.5" x2="356" y2="68.5" stroke="#000" stroke-width="0.69" />
<path d="M362,80 L374,74 L376,68" fill="none" stroke="#000" stroke-width="1.03" stroke-linejoin="round" stroke-linecap="round" />
<polygon points="461.94,151.24 462.9,151.04 464.79,155.03 465.91,154.67 465.09,150.32 465.99,149.93 466.87,149.47 469.29,153.06 470.29,152.41 468.83,148.2 469.62,147.57 470.38,146.9 473.23,149.93 474.08,149.02 472.04,145.11 472.69,144.28 473.31,143.4 476.48,145.76 477.14,144.62 474.6,141.17 475.08,140.16 475.53,139.12 478.9,140.72 479.35,139.4 476.4,136.54 476.7,135.39 476.96,134.22 480.41,135 480.62,133.55 477.38,131.38 477.49,130.14 477.55,128.89 480.93,128.82 480.91,127.29 477.5,125.9 477.41,124.61 477.27,123.33 480.46,122.41 480.2,120.87 476.76,120.31 476.47,119.03 476.13,117.76 479.01,116.03 478.53,114.53 475.18,114.82 474.7,113.59 474.19,112.39 476.64,109.91 475.95,108.51 472.82,109.65 472.18,108.52 471.5,107.43 473.44,104.3 472.56,103.05 469.78,104.99 469,104.01 468.18,103.06 469.53,99.41 468.5,98.36 466.17,101.02 465.28,100.22 464.36,99.47 465.06,95.42 463.92,94.61 462.13,97.89 461.16,97.31 460.17,96.78 460.2,92.49 459,91.96 457.82,95.74 456.81,95.39 455.79,95.09 455.15,90.74 453.92,90.5 453.4,94.63 452.39,94.52 451.38,94.48 450.08,90.22 448.89,90.29 449.04,94.61 448.06,94.76 447.1,94.96 445.21,90.97 444.09,91.33 444.91,95.68 444.01,96.07 443.13,96.53 440.71,92.94 439.71,93.59 441.17,97.8 440.38,98.43 439.62,99.1 436.77,96.07 435.92,96.98 437.96,100.89 437.31,101.72 436.69,102.6 433.52,100.24 432.86,101.38 435.4,104.83 434.92,105.84 434.47,106.88 431.1,105.28 430.65,106.6 433.6,109.46 433.3,110.61 433.04,111.78 429.59,111 429.38,112.45 432.62,114.62 432.51,115.86 432.45,117.11 429.07,117.18 429.09,118.71 432.5,120.1 432.59,121.39 432.73,122.67 429.54,123.59 429.8,125.13 433.24,125.69 433.53,126.97 433.87,128.24 430.99,129.97 431.47,131.47 434.82,131.18 435.3,132.41 435.81,133.61 433.36,136.09 434.05,137.49 437.18,136.35 437.82,137.48 438.5,138.57 436.56,141.7 437.44,142.95 440.22,141.01 441,141.99 441.82,142.94 440.47,146.59 441.5,147.64 443.83,144.98 444.72,145.78 445.64,146.53 444.94,150.58 446.08,151.39 447.87,148.11 448.84,148.69 449.83,149.22 449.8,153.51 451,154.04 452.18,150.26 453.19,150.61 454.21,150.91 454.85,155.26 456.08,155.5 456.6,151.37 457.61,151.48 458.62,151.52 459.92,155.78 461.11,155.71 460.96,151.39" fill="#fff" stroke="#000" stroke-width="0.75" stroke-linejoin="round" />
<polygon points="420.73,129.67 417.54,130.59 429.54,123.59 432.73,122.67" fill="#fff" stroke="#000" stroke-width="0.75" stroke-linejoin="round" />
<polygon points="425.44,149.95 428.22,148.01 440.22,141.01 437.44,142.95" fill="#fff" stroke="#000" stroke-width="0.75" stroke-linejoin="round" />
<polygon points="420.45,124.11 417.07,124.18 429.07,117.18 432.45,117.11" fill="#fff" stroke="#000" stroke-width="0.75" stroke-linejoin="round" />
<polygon points="429.5,154.64 431.83,151.98 443.83,144.98 441.5,147.64" fill="#fff" stroke="#000" stroke-width="0.75" stroke-linejoin="round" />
<polygon points="421.04,118.78 417.59,118 429.59,111 433.04,111.78" fill="#fff" stroke="#000" stroke-width="0.75" stroke-linejoin="round" />
<polygon points="434.08,158.39 435.87,155.11 447.87,148.11 446.08,151.39" fill="#fff" stroke="#000" stroke-width="0.75" stroke-linejoin="round" />
<polygon points="422.47,113.88 419.1,112.28 431.1,105.28 434.47,106.88" fill="#fff" stroke="#000" stroke-width="0.75" stroke-linejoin="round" />
<polygon points="424.69,109.6 421.52,107.24 433.52,100.24 436.69,102.6" fill="#fff" stroke="#000" stroke-width="0.75" stroke-linejoin="round" />
<polygon points="439,161.04 440.18,157.26 452.18,150.26 451,154.04" fill="#fff" stroke="#000" stroke-width="0.75" stroke-linejoin="round" />
<polygon points="444.08,162.5 444.6,158.37 456.6,151.37 456.08,155.5" fill="#fff" stroke="#000" stroke-width="0.75" stroke-linejoin="round" />
<polygon points="427.62,106.1 424.77,103.07 436.77,96.07 439.62,99.1" fill="#fff" stroke="#000" stroke-width="0.75" stroke-linejoin="round" />
<polygon points="449.11,162.71 448.96,158.39 460.96,151.39 461.11,155.71" fill="#fff" stroke="#000" stroke-width="0.75" stroke-linejoin="round" />
<polygon points="431.13,103.53 428.71,99.94 440.71,92.94 443.13,96.53" fill="#fff" stroke="#000" stroke-width="0.75" stroke-linejoin="round" />
<polygon points="432.01,103.07 431.13,103.53 443.13,96.53 444.01,96.07" fill="#fff" stroke="#000" stroke-width="0.75" stroke-linejoin="round" />
<polygon points="432.91,102.68 432.01,103.07 444.01,96.07 444.91,95.68" fill="#fff" stroke="#000" stroke-width="0.75" stroke-linejoin="round" />
<polygon points="433.21,97.97 432.09,98.33 444.09,91.33 445.21,90.97" fill="#fff" stroke="#000" stroke-width="0.75" stroke-linejoin="round" />
<polygon points="453.91,161.67 453.09,157.32 465.09,150.32 465.91,154.67" fill="#fff" stroke="#000" stroke-width="0.75" stroke-linejoin="round" />
<polygon points="435.1,101.96 433.21,97.97 445.21,90.97 447.1,94.96" fill="#fff" stroke="#000" stroke-width="0.75" stroke-linejoin="round" />
<polygon points="436.06,101.76 435.1,101.96 447.1,94.96 448.06,94.76" fill="#fff" stroke="#000" stroke-width="0.75" stroke-linejoin="round" />
<polygon points="437.04,101.61 436.06,101.76 448.06,94.76 449.04,94.61" fill="#fff" stroke="#000" stroke-width="0.75" stroke-linejoin="round" />
<polygon points="457.29,160.06 458.29,159.41 470.29,152.41 469.29,153.06" fill="#fff" stroke="#000" stroke-width="0.75" stroke-linejoin="round" />
<polygon points="438.08,97.22 436.89,97.29 448.89,90.29 450.08,90.22" fill="#fff" stroke="#000" stroke-width="0.75" stroke-linejoin="round" />
<polygon points="458.29,159.41 456.83,155.2 468.83,148.2 470.29,152.41" fill="#fff" stroke="#000" stroke-width="0.75" stroke-linejoin="round" />
<polygon points="439.38,101.48 438.08,97.22 450.08,90.22 451.38,94.48" fill="#fff" stroke="#000" stroke-width="0.75" stroke-linejoin="round" />
<polygon points="456.83,155.2 457.62,154.57 469.62,147.57 468.83,148.2" fill="#fff" stroke="#000" stroke-width="0.75" stroke-linejoin="round" />
<polygon points="440.39,101.52 439.38,101.48 451.38,94.48 452.39,94.52" fill="#fff" stroke="#000" stroke-width="0.75" stroke-linejoin="round" />
<polygon points="457.62,154.57 458.38,153.9 470.38,146.9 469.62,147.57" fill="#fff" stroke="#000" stroke-width="0.75" stroke-linejoin="round" />
<polygon points="441.4,101.63 440.39,101.52 452.39,94.52 453.4,94.63" fill="#fff" stroke="#000" stroke-width="0.75" stroke-linejoin="round" />
<polygon points="461.23,156.93 462.08,156.02 474.08,149.02 473.23,149.93" fill="#fff" stroke="#000" stroke-width="0.75" stroke-linejoin="round" />
<polygon points="443.15,97.74 441.92,97.5 453.92,90.5 455.15,90.74" fill="#fff" stroke="#000" stroke-width="0.75" stroke-linejoin="round" />
<polygon points="443.79,102.09 443.15,97.74 455.15,90.74 455.79,95.09" fill="#fff" stroke="#000" stroke-width="0.75" stroke-linejoin="round" />
<polygon points="462.08,156.02 460.04,152.11 472.04,145.11 474.08,149.02" fill="#fff" stroke="#000" stroke-width="0.75" stroke-linejoin="round" />
<polygon points="444.81,102.39 443.79,102.09 455.79,95.09 456.81,95.39" fill="#fff" stroke="#000" stroke-width="0.75" stroke-linejoin="round" />
<polygon points="460.04,152.11 460.69,151.28 472.69,144.28 472.04,145.11" fill="#fff" stroke="#000" stroke-width="0.75" stroke-linejoin="round" />
<polygon points="460.69,151.28 461.31,150.4 473.31,143.4 472.69,144.28" fill="#fff" stroke="#000" stroke-width="0.75" stroke-linejoin="round" />
<polygon points="445.82,102.74 444.81,102.39 456.81,95.39 457.82,95.74" fill="#fff" stroke="#000" stroke-width="0.75" stroke-linejoin="round" />
<polygon points="462.6,148.17 463.08,147.16 475.08,140.16 474.6,141.17" fill="#fff" stroke="#000" stroke-width="0.75" stroke-linejoin="round" />
<polygon points="449.16,104.31 448.17,103.78 460.17,96.78 461.16,97.31" fill="#fff" stroke="#000" stroke-width="0.75" stroke-linejoin="round" />
<polygon points="465.14,151.62 462.6,148.17 474.6,141.17 477.14,144.62" fill="#fff" stroke="#000" stroke-width="0.75" stroke-linejoin="round" />
<polygon points="448.17,103.78 448.2,99.49 460.2,92.49 460.17,96.78" fill="#fff" stroke="#000" stroke-width="0.75" stroke-linejoin="round" />
<polygon points="464.48,152.76 465.14,151.62 477.14,144.62 476.48,145.76" fill="#fff" stroke="#000" stroke-width="0.75" stroke-linejoin="round" />
<polygon points="448.2,99.49 447,98.96 459,91.96 460.2,92.49" fill="#fff" stroke="#000" stroke-width="0.75" stroke-linejoin="round" />
<polygon points="450.13,104.89 449.16,104.31 461.16,97.31 462.13,97.89" fill="#fff" stroke="#000" stroke-width="0.75" stroke-linejoin="round" />
<polygon points="463.08,147.16 463.53,146.12 475.53,139.12 475.08,140.16" fill="#fff" stroke="#000" stroke-width="0.75" stroke-linejoin="round" />
<polygon points="464.4,143.54 464.7,142.39 476.7,135.39 476.4,136.54" fill="#fff" stroke="#000" stroke-width="0.75" stroke-linejoin="round" />
<polygon points="453.28,107.22 452.36,106.47 464.36,99.47 465.28,100.22" fill="#fff" stroke="#000" stroke-width="0.75" stroke-linejoin="round" />
<polygon points="464.7,142.39 464.96,141.22 476.96,134.22 476.7,135.39" fill="#fff" stroke="#000" stroke-width="0.75" stroke-linejoin="round" />
<polygon points="454.17,108.02 453.28,107.22 465.28,100.22 466.17,101.02" fill="#fff" stroke="#000" stroke-width="0.75" stroke-linejoin="round" />
<polygon points="467.35,146.4 464.4,143.54 476.4,136.54 479.35,139.4" fill="#fff" stroke="#000" stroke-width="0.75" stroke-linejoin="round" />
<polygon points="452.36,106.47 453.06,102.42 465.06,95.42 464.36,99.47" fill="#fff" stroke="#000" stroke-width="0.75" stroke-linejoin="round" />
<polygon points="453.06,102.42 451.92,101.61 463.92,94.61 465.06,95.42" fill="#fff" stroke="#000" stroke-width="0.75" stroke-linejoin="round" />
<polygon points="466.9,147.72 467.35,146.4 479.35,139.4 478.9,140.72" fill="#fff" stroke="#000" stroke-width="0.75" stroke-linejoin="round" />
<polygon points="457,111.01 456.18,110.06 468.18,103.06 469,104.01" fill="#fff" stroke="#000" stroke-width="0.75" stroke-linejoin="round" />
<polygon points="465.38,138.38 465.49,137.14 477.49,130.14 477.38,131.38" fill="#fff" stroke="#000" stroke-width="0.75" stroke-linejoin="round" />
<polygon points="457.78,111.99 457,111.01 469,104.01 469.78,104.99" fill="#fff" stroke="#000" stroke-width="0.75" stroke-linejoin="round" />
<polygon points="465.49,137.14 465.55,135.89 477.55,128.89 477.49,130.14" fill="#fff" stroke="#000" stroke-width="0.75" stroke-linejoin="round" />
<polygon points="456.18,110.06 457.53,106.41 469.53,99.41 468.18,103.06" fill="#fff" stroke="#000" stroke-width="0.75" stroke-linejoin="round" />
<polygon points="468.62,140.55 465.38,138.38 477.38,131.38 480.62,133.55" fill="#fff" stroke="#000" stroke-width="0.75" stroke-linejoin="round" />
<polygon points="465.5,132.9 465.41,131.61 477.41,124.61 477.5,125.9" fill="#fff" stroke="#000" stroke-width="0.75" stroke-linejoin="round" />
<polygon points="460.18,115.52 459.5,114.43 471.5,107.43 472.18,108.52" fill="#fff" stroke="#000" stroke-width="0.75" stroke-linejoin="round" />
<polygon points="457.53,106.41 456.5,105.36 468.5,98.36 469.53,99.41" fill="#fff" stroke="#000" stroke-width="0.75" stroke-linejoin="round" />
<polygon points="468.41,142 468.62,140.55 480.62,133.55 480.41,135" fill="#fff" stroke="#000" stroke-width="0.75" stroke-linejoin="round" />
<polygon points="460.82,116.65 460.18,115.52 472.18,108.52 472.82,109.65" fill="#fff" stroke="#000" stroke-width="0.75" stroke-linejoin="round" />
<polygon points="465.41,131.61 465.27,130.33 477.27,123.33 477.41,124.61" fill="#fff" stroke="#000" stroke-width="0.75" stroke-linejoin="round" />
<polygon points="462.7,120.59 462.19,119.39 474.19,112.39 474.7,113.59" fill="#fff" stroke="#000" stroke-width="0.75" stroke-linejoin="round" />
<polygon points="464.76,127.31 464.47,126.03 476.47,119.03 476.76,120.31" fill="#fff" stroke="#000" stroke-width="0.75" stroke-linejoin="round" />
<polygon points="464.47,126.03 464.13,124.76 476.13,117.76 476.47,119.03" fill="#fff" stroke="#000" stroke-width="0.75" stroke-linejoin="round" />
<polygon points="463.18,121.82 462.7,120.59 474.7,113.59 475.18,114.82" fill="#fff" stroke="#000" stroke-width="0.75" stroke-linejoin="round" />
<polygon points="468.91,134.29 465.5,132.9 477.5,125.9 480.91,127.29" fill="#fff" stroke="#000" stroke-width="0.75" stroke-linejoin="round" />
<polygon points="459.5,114.43 461.44,111.3 473.44,104.3 471.5,107.43" fill="#fff" stroke="#000" stroke-width="0.75" stroke-linejoin="round" />
<polygon points="463.95,115.51 460.82,116.65 472.82,109.65 475.95,108.51" fill="#fff" stroke="#000" stroke-width="0.75" stroke-linejoin="round" />
<polygon points="462.19,119.39 464.64,116.91 476.64,109.91 474.19,112.39" fill="#fff" stroke="#000" stroke-width="0.75" stroke-linejoin="round" />
<polygon points="468.2,127.87 464.76,127.31 476.76,120.31 480.2,120.87" fill="#fff" stroke="#000" stroke-width="0.75" stroke-linejoin="round" />
<polygon points="468.93,135.82 468.91,134.29 480.91,127.29 480.93,128.82" fill="#fff" stroke="#000" stroke-width="0.75" stroke-linejoin="round" />
<polygon points="461.44,111.3 460.56,110.05 472.56,103.05 473.44,104.3" fill="#fff" stroke="#000" stroke-width="0.75" stroke-linejoin="round" />
<polygon points="464.13,124.76 467.01,123.03 479.01,116.03 476.13,117.76" fill="#fff" stroke="#000" stroke-width="0.75" stroke-linejoin="round" />
<polygon points="466.53,121.53 463.18,121.82 475.18,114.82 478.53,114.53" fill="#fff" stroke="#000" stroke-width="0.75" stroke-linejoin="round" />
<polygon points="468.46,129.41 468.2,127.87 480.2,120.87 480.46,122.41" fill="#fff" stroke="#000" stroke-width="0.75" stroke-linejoin="round" />
<polygon points="464.64,116.91 463.95,115.51 475.95,108.51 476.64,109.91" fill="#fff" stroke="#000" stroke-width="0.75" stroke-linejoin="round" />
<polygon points="467.01,123.03 466.53,121.53 478.53,114.53 479.01,116.03" fill="#fff" stroke="#000" stroke-width="0.75" stroke-linejoin="round" />
<polygon points="449.94,158.24 450.9,158.04 452.79,162.03 453.91,161.67 453.09,157.32 453.99,156.93 454.87,156.47 457.29,160.06 458.29,159.41 456.83,155.2 457.62,154.57 458.38,153.9 461.23,156.93 462.08,156.02 460.04,152.11 460.69,151.28 461.31,150.4 464.48,152.76 465.14,151.62 462.6,148.17 463.08,147.16 463.53,146.12 466.9,147.72 467.35,146.4 464.4,143.54 464.7,142.39 464.96,141.22 468.41,142 468.62,140.55 465.38,138.38 465.49,137.14 465.55,135.89 468.93,135.82 468.91,134.29 465.5,132.9 465.41,131.61 465.27,130.33 468.46,129.41 468.2,127.87 464.76,127.31 464.47,126.03 464.13,124.76 467.01,123.03 466.53,121.53 463.18,121.82 462.7,120.59 462.19,119.39 464.64,116.91 463.95,115.51 460.82,116.65 460.18,115.52 459.5,114.43 461.44,111.3 460.56,110.05 457.78,111.99 457,111.01 456.18,110.06 457.53,106.41 456.5,105.36 454.17,108.02 453.28,107.22 452.36,106.47 453.06,102.42 451.92,101.61 450.13,104.89 449.16,104.31 448.17,103.78 448.2,99.49 447,98.96 445.82,102.74 444.81,102.39 443.79,102.09 443.15,97.74 441.92,97.5 441.4,101.63 440.39,101.52 439.38,101.48 438.08,97.22 436.89,97.29 437.04,101.61 436.06,101.76 435.1,101.96 433.21,97.97 432.09,98.33 432.91,102.68 432.01,103.07 431.13,103.53 428.71,99.94 427.71,100.59 429.17,104.8 428.38,105.43 427.62,106.1 424.77,103.07 423.92,103.98 425.96,107.89 425.31,108.72 424.69,109.6 421.52,107.24 420.86,108.38 423.4,111.83 422.92,112.84 422.47,113.88 419.1,112.28 418.65,113.6 421.6,116.46 421.3,117.61 421.04,118.78 417.59,118 417.38,119.45 420.62,121.62 420.51,122.86 420.45,124.11 417.07,124.18 417.09,125.71 420.5,127.1 420.59,128.39 420.73,129.67 417.54,130.59 417.8,132.13 421.24,132.69 421.53,133.97 421.87,135.24 418.99,136.97 419.47,138.47 422.82,138.18 423.3,139.41 423.81,140.61 421.36,143.09 422.05,144.49 425.18,143.35 425.82,144.48 426.5,145.57 424.56,148.7 425.44,149.95 428.22,148.01 429,148.99 429.82,149.94 428.47,153.59 429.5,154.64 431.83,151.98 432.72,152.78 433.64,153.53 432.94,157.58 434.08,158.39 435.87,155.11 436.84,155.69 437.83,156.22 437.8,160.51 439,161.04 440.18,157.26 441.19,157.61 442.21,157.91 442.85,162.26 444.08,162.5 444.6,158.37 445.61,158.48 446.62,158.52 447.92,162.78 449.11,162.71 448.96,158.39" fill="#fff" stroke="#000" stroke-width="0.75" stroke-linejoin="round" />
<polygon points="448.7,146.93 449.64,146.82 451.38,150.57 452.51,150.2 451.72,146.14 452.55,145.68 453.33,145.13 455.75,148.17 456.65,147.27 454.98,143.47 455.58,142.62 456.13,141.7 458.96,143.7 459.52,142.36 457.15,139.24 457.47,138.09 457.72,136.88 460.65,137.63 460.81,136.01 458.01,133.89 458,132.57 457.93,131.22 460.65,130.63 460.4,128.89 457.45,128.02 457.13,126.66 456.74,125.32 458.95,123.45 458.31,121.79 455.55,122.25 454.94,121.01 454.27,119.81 455.74,116.87 454.78,115.47 452.5,117.22 451.67,116.22 450.81,115.3 451.37,111.61 450.2,110.61 448.65,113.46 447.69,112.82 446.71,112.27 446.3,108.23 445.05,107.75 444.39,111.38 443.41,111.17 442.43,111.06 441.1,107.11 439.89,107.19 440.2,111.21 439.3,111.45 438.43,111.79 436.31,108.35 435.29,108.99 436.54,112.98 435.81,113.64 435.14,114.39 432.47,111.83 431.74,112.97 433.78,116.47 433.32,117.49 432.91,118.57 429.99,117.18 429.63,118.68 432.25,121.33 432.09,122.58 432,123.88 429.13,123.8 429.18,125.5 432.1,127.02 432.26,128.38 432.5,129.74 429.99,130.99 430.45,132.71 433.34,132.92 433.81,134.24 434.35,135.53 432.48,137.96 433.29,139.52 435.85,138.39 436.58,139.53 437.36,140.6 436.33,143.96 437.41,145.18 439.35,142.85 440.25,143.68 441.19,144.42 441.11,148.34 442.34,149.09 443.46,145.81 444.45,146.24 445.44,146.57 446.32,150.63 447.57,150.83 447.74,146.95" fill="#fff" stroke="#000" stroke-width="0.8" stroke-linejoin="round" />
<polygon points="410.5,142.74 407.99,143.99 429.99,130.99 432.5,129.74" fill="#fff" stroke="#000" stroke-width="0.8" stroke-linejoin="round" />
<polygon points="410,136.88 407.13,136.8 429.13,123.8 432,123.88" fill="#fff" stroke="#000" stroke-width="0.8" stroke-linejoin="round" />
<polygon points="415.41,158.18 417.35,155.85 439.35,142.85 437.41,145.18" fill="#fff" stroke="#000" stroke-width="0.8" stroke-linejoin="round" />
<polygon points="410.91,131.57 407.99,130.18 429.99,117.18 432.91,118.57" fill="#fff" stroke="#000" stroke-width="0.8" stroke-linejoin="round" />
<polygon points="420.34,162.09 421.46,158.81 443.46,145.81 442.34,149.09" fill="#fff" stroke="#000" stroke-width="0.8" stroke-linejoin="round" />
<polygon points="413.14,127.39 410.47,124.83 432.47,111.83 435.14,114.39" fill="#fff" stroke="#000" stroke-width="0.8" stroke-linejoin="round" />
<polygon points="425.57,163.83 425.74,159.95 447.74,146.95 447.57,150.83" fill="#fff" stroke="#000" stroke-width="0.8" stroke-linejoin="round" />
<polygon points="416.43,124.79 414.31,121.35 436.31,108.35 438.43,111.79" fill="#fff" stroke="#000" stroke-width="0.8" stroke-linejoin="round" />
<polygon points="417.3,124.45 416.43,124.79 438.43,111.79 439.3,111.45" fill="#fff" stroke="#000" stroke-width="0.8" stroke-linejoin="round" />
<polygon points="418.2,124.21 417.3,124.45 439.3,111.45 440.2,111.21" fill="#fff" stroke="#000" stroke-width="0.8" stroke-linejoin="round" />
<polygon points="430.51,163.2 429.72,159.14 451.72,146.14 452.51,150.2" fill="#fff" stroke="#000" stroke-width="0.8" stroke-linejoin="round" />
<polygon points="419.1,120.11 417.89,120.19 439.89,107.19 441.1,107.11" fill="#fff" stroke="#000" stroke-width="0.8" stroke-linejoin="round" />
<polygon points="430.55,158.68 431.33,158.13 453.33,145.13 452.55,145.68" fill="#fff" stroke="#000" stroke-width="0.8" stroke-linejoin="round" />
<polygon points="420.43,124.06 419.1,120.11 441.1,107.11 442.43,111.06" fill="#fff" stroke="#000" stroke-width="0.8" stroke-linejoin="round" />
<polygon points="421.41,124.17 420.43,124.06 442.43,111.06 443.41,111.17" fill="#fff" stroke="#000" stroke-width="0.8" stroke-linejoin="round" />
<polygon points="422.39,124.38 421.41,124.17 443.41,111.17 444.39,111.38" fill="#fff" stroke="#000" stroke-width="0.8" stroke-linejoin="round" />
<polygon points="433.75,161.17 434.65,160.27 456.65,147.27 455.75,148.17" fill="#fff" stroke="#000" stroke-width="0.8" stroke-linejoin="round" />
<polygon points="434.65,160.27 432.98,156.47 454.98,143.47 456.65,147.27" fill="#fff" stroke="#000" stroke-width="0.8" stroke-linejoin="round" />
<polygon points="432.98,156.47 433.58,155.62 455.58,142.62 454.98,143.47" fill="#fff" stroke="#000" stroke-width="0.8" stroke-linejoin="round" />
<polygon points="433.58,155.62 434.13,154.7 456.13,141.7 455.58,142.62" fill="#fff" stroke="#000" stroke-width="0.8" stroke-linejoin="round" />
<polygon points="424.3,121.23 423.05,120.75 445.05,107.75 446.3,108.23" fill="#fff" stroke="#000" stroke-width="0.8" stroke-linejoin="round" />
<polygon points="425.69,125.82 424.71,125.27 446.71,112.27 447.69,112.82" fill="#fff" stroke="#000" stroke-width="0.8" stroke-linejoin="round" />
<polygon points="424.71,125.27 424.3,121.23 446.3,108.23 446.71,112.27" fill="#fff" stroke="#000" stroke-width="0.8" stroke-linejoin="round" />
<polygon points="426.65,126.46 425.69,125.82 447.69,112.82 448.65,113.46" fill="#fff" stroke="#000" stroke-width="0.8" stroke-linejoin="round" />
<polygon points="435.15,152.24 435.47,151.09 457.47,138.09 457.15,139.24" fill="#fff" stroke="#000" stroke-width="0.8" stroke-linejoin="round" />
<polygon points="437.52,155.36 435.15,152.24 457.15,139.24 459.52,142.36" fill="#fff" stroke="#000" stroke-width="0.8" stroke-linejoin="round" />
<polygon points="436.96,156.7 437.52,155.36 459.52,142.36 458.96,143.7" fill="#fff" stroke="#000" stroke-width="0.8" stroke-linejoin="round" />
<polygon points="435.47,151.09 435.72,149.88 457.72,136.88 457.47,138.09" fill="#fff" stroke="#000" stroke-width="0.8" stroke-linejoin="round" />
<polygon points="429.67,129.22 428.81,128.3 450.81,115.3 451.67,116.22" fill="#fff" stroke="#000" stroke-width="0.8" stroke-linejoin="round" />
<polygon points="430.5,130.22 429.67,129.22 451.67,116.22 452.5,117.22" fill="#fff" stroke="#000" stroke-width="0.8" stroke-linejoin="round" />
<polygon points="428.81,128.3 429.37,124.61 451.37,111.61 450.81,115.3" fill="#fff" stroke="#000" stroke-width="0.8" stroke-linejoin="round" />
<polygon points="429.37,124.61 428.2,123.61 450.2,110.61 451.37,111.61" fill="#fff" stroke="#000" stroke-width="0.8" stroke-linejoin="round" />
<polygon points="436.01,146.89 436,145.57 458,132.57 458.01,133.89" fill="#fff" stroke="#000" stroke-width="0.8" stroke-linejoin="round" />
<polygon points="436,145.57 435.93,144.22 457.93,131.22 458,132.57" fill="#fff" stroke="#000" stroke-width="0.8" stroke-linejoin="round" />
<polygon points="432.94,134.01 432.27,132.81 454.27,119.81 454.94,121.01" fill="#fff" stroke="#000" stroke-width="0.8" stroke-linejoin="round" />
<polygon points="438.81,149.01 436.01,146.89 458.01,133.89 460.81,136.01" fill="#fff" stroke="#000" stroke-width="0.8" stroke-linejoin="round" />
<polygon points="433.55,135.25 432.94,134.01 454.94,121.01 455.55,122.25" fill="#fff" stroke="#000" stroke-width="0.8" stroke-linejoin="round" />
<polygon points="435.45,141.02 435.13,139.66 457.13,126.66 457.45,128.02" fill="#fff" stroke="#000" stroke-width="0.8" stroke-linejoin="round" />
<polygon points="435.13,139.66 434.74,138.32 456.74,125.32 457.13,126.66" fill="#fff" stroke="#000" stroke-width="0.8" stroke-linejoin="round" />
<polygon points="438.65,150.63 438.81,149.01 460.81,136.01 460.65,137.63" fill="#fff" stroke="#000" stroke-width="0.8" stroke-linejoin="round" />
<polygon points="432.27,132.81 433.74,129.87 455.74,116.87 454.27,119.81" fill="#fff" stroke="#000" stroke-width="0.8" stroke-linejoin="round" />
<polygon points="438.4,141.89 435.45,141.02 457.45,128.02 460.4,128.89" fill="#fff" stroke="#000" stroke-width="0.8" stroke-linejoin="round" />
<polygon points="436.31,134.79 433.55,135.25 455.55,122.25 458.31,121.79" fill="#fff" stroke="#000" stroke-width="0.8" stroke-linejoin="round" />
<polygon points="434.74,138.32 436.95,136.45 458.95,123.45 456.74,125.32" fill="#fff" stroke="#000" stroke-width="0.8" stroke-linejoin="round" />
<polygon points="433.74,129.87 432.78,128.47 454.78,115.47 455.74,116.87" fill="#fff" stroke="#000" stroke-width="0.8" stroke-linejoin="round" />
<polygon points="438.65,143.63 438.4,141.89 460.4,128.89 460.65,130.63" fill="#fff" stroke="#000" stroke-width="0.8" stroke-linejoin="round" />
<polygon points="436.95,136.45 436.31,134.79 458.31,121.79 458.95,123.45" fill="#fff" stroke="#000" stroke-width="0.8" stroke-linejoin="round" />
<polygon points="426.7,159.93 427.64,159.82 429.38,163.57 430.51,163.2 429.72,159.14 430.55,158.68 431.33,158.13 433.75,161.17 434.65,160.27 432.98,156.47 433.58,155.62 434.13,154.7 436.96,156.7 437.52,155.36 435.15,152.24 435.47,151.09 435.72,149.88 438.65,150.63 438.81,149.01 436.01,146.89 436,145.57 435.93,144.22 438.65,143.63 438.4,141.89 435.45,141.02 435.13,139.66 434.74,138.32 436.95,136.45 436.31,134.79 433.55,135.25 432.94,134.01 432.27,132.81 433.74,129.87 432.78,128.47 430.5,130.22 429.67,129.22 428.81,128.3 429.37,124.61 428.2,123.61 426.65,126.46 425.69,125.82 424.71,125.27 424.3,121.23 423.05,120.75 422.39,124.38 421.41,124.17 420.43,124.06 419.1,120.11 417.89,120.19 418.2,124.21 417.3,124.45 416.43,124.79 414.31,121.35 413.29,121.99 414.54,125.98 413.81,126.64 413.14,127.39 410.47,124.83 409.74,125.97 411.78,129.47 411.32,130.49 410.91,131.57 407.99,130.18 407.63,131.68 410.25,134.33 410.09,135.58 410,136.88 407.13,136.8 407.18,138.5 410.1,140.02 410.26,141.38 410.5,142.74 407.99,143.99 408.45,145.71 411.34,145.92 411.81,147.24 412.35,148.53 410.48,150.96 411.29,152.52 413.85,151.39 414.58,152.53 415.36,153.6 414.33,156.96 415.41,158.18 417.35,155.85 418.25,156.68 419.19,157.42 419.11,161.34 420.34,162.09 421.46,158.81 422.45,159.24 423.44,159.57 424.32,163.63 425.57,163.83 425.74,159.95" fill="#fff" stroke="#000" stroke-width="0.8" stroke-linejoin="round" />
<ellipse cx="422.8" cy="143.4" rx="8.6" ry="11.2" transform="rotate(-18 422.8 143.4)" fill="#000" stroke="#000" stroke-width="0.57" />
<ellipse cx="423.6" cy="144.2" rx="5" ry="7.2" transform="rotate(-18 423.6 144.2)" fill="#fff" stroke="#000" stroke-width="0.69" />
<line x1="425.82" y1="151.05" x2="425.38" y2="149.68" stroke="#000" stroke-width="1.38" />
<line x1="427.67" y1="149.7" x2="426.85" y2="148.6" stroke="#000" stroke-width="1.38" />
<line x1="428.71" y1="147.26" x2="427.68" y2="146.65" stroke="#000" stroke-width="1.38" />
<line x1="428.73" y1="144.22" x2="427.7" y2="144.21" stroke="#000" stroke-width="1.38" />
<line x1="427.74" y1="141.17" x2="426.91" y2="141.78" stroke="#000" stroke-width="1.38" />
<line x1="425.93" y1="138.72" x2="425.46" y2="139.82" stroke="#000" stroke-width="1.38" />
<line x1="423.66" y1="137.36" x2="423.65" y2="138.73" stroke="#000" stroke-width="1.38" />
<line x1="421.38" y1="137.35" x2="421.82" y2="138.72" stroke="#000" stroke-width="1.38" />
<line x1="419.53" y1="138.7" x2="420.35" y2="139.8" stroke="#000" stroke-width="1.38" />
<line x1="418.49" y1="141.14" x2="419.52" y2="141.75" stroke="#000" stroke-width="1.38" />
<line x1="418.47" y1="144.18" x2="419.5" y2="144.19" stroke="#000" stroke-width="1.38" />
<line x1="419.46" y1="147.23" x2="420.29" y2="146.62" stroke="#000" stroke-width="1.38" />
<line x1="421.27" y1="149.68" x2="421.74" y2="148.58" stroke="#000" stroke-width="1.38" />
<line x1="423.54" y1="151.04" x2="423.55" y2="149.67" stroke="#000" stroke-width="1.38" />
<ellipse cx="293.9" cy="105" rx="11.2" ry="15.6" transform="rotate(-22 293.9 105)" fill="#fff" stroke="#000" stroke-width="1.03" />
<polygon points="298.73,120 300.33,119.2 287.47,90.8 285.87,91.6" fill="#fff" stroke="none" stroke-width="0" stroke-linejoin="round" />
<line x1="298.73" y1="120" x2="300.33" y2="119.2" stroke="#000" stroke-width="1.03" />
<line x1="285.87" y1="91.6" x2="287.47" y2="90.8" stroke="#000" stroke-width="1.03" />
<ellipse cx="292.3" cy="105.8" rx="11.2" ry="15.6" transform="rotate(-22 292.3 105.8)" fill="#fff" stroke="#000" stroke-width="1.03" />
<ellipse cx="292.3" cy="105.8" rx="11.2" ry="15.6" transform="rotate(-22 292.3 105.8)" fill="#fff" stroke="#000" stroke-width="1.15" />
<ellipse cx="291.9" cy="105.4" rx="6.6" ry="9.2" transform="rotate(-18 291.9 105.4)" fill="#fff" stroke="#000" stroke-width="1.15" />
<path d="M286,100 Q288,97 292,97.5" fill="none" stroke="#000" stroke-width="0.92" stroke-linejoin="round" stroke-linecap="round" />
<ellipse cx="264.9" cy="121.1" rx="12" ry="15" transform="rotate(-24 264.9 121.1)" fill="#fff" stroke="#000" stroke-width="1.21" />
<ellipse cx="265.8" cy="121.1" rx="6.4" ry="9.4" transform="rotate(-20 265.8 121.1)" fill="#fff" stroke="#000" stroke-width="1.15" />
<ellipse cx="240.4" cy="133.5" rx="12" ry="15.9" transform="rotate(-22 240.4 133.5)" fill="#fff" stroke="#000" stroke-width="1.15" />
<polygon points="245.21,148.85 247.01,147.95 233.79,119.05 231.99,119.95" fill="#fff" stroke="none" stroke-width="0" stroke-linejoin="round" />
<line x1="245.21" y1="148.85" x2="247.01" y2="147.95" stroke="#000" stroke-width="1.15" />
<line x1="231.99" y1="119.95" x2="233.79" y2="119.05" stroke="#000" stroke-width="1.15" />
<ellipse cx="238.6" cy="134.4" rx="12" ry="15.9" transform="rotate(-22 238.6 134.4)" fill="#fff" stroke="#000" stroke-width="1.15" />
<ellipse cx="238.6" cy="134.4" rx="12" ry="15.9" transform="rotate(-22 238.6 134.4)" fill="#fff" stroke="#000" stroke-width="1.38" />
<ellipse cx="238.6" cy="134.4" rx="10" ry="13.5" transform="rotate(-22 238.6 134.4)" fill="none" stroke="#000" stroke-width="0.8" />
<ellipse cx="239" cy="133.9" rx="8.4" ry="10.8" transform="rotate(-22 239 133.9)" fill="#fff" stroke="#000" stroke-width="1.38" />
<polygon points="226.52,152.2 243.52,143.7 234.48,124.1 217.48,132.6" fill="#fff" stroke="none" stroke-width="0" stroke-linejoin="round" />
<line x1="226.52" y1="152.2" x2="243.52" y2="143.7" stroke="#000" stroke-width="1.38" />
<line x1="217.48" y1="132.6" x2="234.48" y2="124.1" stroke="#000" stroke-width="1.38" />
<path d="M226,151 L243,143 L245,138 L229,146 Z" fill="#000" stroke="#000" stroke-width="0.57" stroke-linejoin="round" stroke-linecap="round" />
<ellipse cx="222" cy="142.4" rx="8.4" ry="10.8" transform="rotate(-22 222 142.4)" fill="#fff" stroke="#000" stroke-width="1.49" />
<ellipse cx="222.3" cy="142.6" rx="6.3" ry="8.4" transform="rotate(-22 222.3 142.6)" fill="#fff" stroke="#000" stroke-width="1.15" />
<path d="M215,139 Q220,133 228,137 L226,140 Q220,137 216,141 Z" fill="#000" stroke="#000" stroke-width="0.57" stroke-linejoin="round" stroke-linecap="round" />
<polygon points="283.2,147.6 329,120.4 332.5,121.5 333.5,124 332,125.8 285,153.5" fill="#fff" stroke="#000" stroke-width="0" stroke-linejoin="round" />
<path d="M283.2,147.6 L329,120.4 Q333,119.5 333.5,123 Q333.5,125 332,125.8 L285,153.5" fill="none" stroke="#000" stroke-width="1.49" stroke-linejoin="round" stroke-linecap="round" />
<path d="M286,150 L320,130" fill="none" stroke="#000" stroke-width="0.69" stroke-linejoin="round" stroke-linecap="butt" stroke-dasharray="1.5 1"/>
<line x1="321" y1="125.5" x2="322.2" y2="129.5" stroke="#000" stroke-width="0.92" />
<line x1="322.9" y1="124.4" x2="324.1" y2="128.4" stroke="#000" stroke-width="0.92" />
<line x1="324.8" y1="123.3" x2="326" y2="127.3" stroke="#000" stroke-width="0.92" />
<line x1="326.7" y1="122.2" x2="327.9" y2="126.2" stroke="#000" stroke-width="0.92" />
<line x1="328.6" y1="121.1" x2="329.8" y2="125.1" stroke="#000" stroke-width="0.92" />
<line x1="330.5" y1="120" x2="331.7" y2="124" stroke="#000" stroke-width="0.92" />
<polygon points="273.5,151.5 275.5,148 280.5,147.3 283.8,150.5 284,156 281.5,159.6 276.5,160 273.3,157" fill="#fff" stroke="#000" stroke-width="1.49" stroke-linejoin="round" />
<path d="M278.5,147.6 L278.2,153.8 L283.8,155 M278.2,153.8 L275,158.5" fill="none" stroke="#000" stroke-width="0.8" stroke-linejoin="round" stroke-linecap="round" />
<ellipse cx="375.5" cy="170.8" rx="8.8" ry="11.8" transform="rotate(-20 375.5 170.8)" fill="#fff" stroke="#000" stroke-width="1.38" />
<polygon points="368.95,189.17 369.87,188.44 370.68,187.54 371.37,186.49 371.93,185.31 372.34,184.02 372.6,182.64 372.7,181.19 372.65,179.71 372.44,178.2 372.07,176.71 371.56,175.25 370.91,173.86 370.14,172.55 369.25,171.34 368.27,170.26 367.2,169.33 366.07,168.56 364.89,167.97 363.69,167.56 362.49,167.35 361.3,167.33 360.16,167.5 359.07,167.87 358.05,168.43 370.05,160.43 371.07,159.87 372.16,159.5 373.3,159.33 374.49,159.35 375.69,159.56 376.89,159.97 378.07,160.56 379.2,161.33 380.27,162.26 381.25,163.34 382.14,164.55 382.91,165.86 383.56,167.25 384.07,168.71 384.44,170.2 384.65,171.71 384.7,173.19 384.6,174.64 384.34,176.02 383.93,177.31 383.37,178.49 382.68,179.54 381.87,180.44 380.95,181.17" fill="#fff" stroke="none" stroke-width="0" stroke-linejoin="round" />
<line x1="368.95" y1="189.17" x2="380.95" y2="181.17" stroke="#000" stroke-width="1.38" />
<line x1="358.05" y1="168.43" x2="370.05" y2="160.43" stroke="#000" stroke-width="1.38" />
<polygon points="370.91,173.86 371.56,175.25 372.07,176.71 372.44,178.2 372.65,179.71 372.7,181.19 372.6,182.64 372.34,184.02 371.93,185.31 371.37,186.49 370.68,187.54 369.87,188.44 368.95,189.17 380.95,181.17 381.87,180.44 382.68,179.54 383.37,178.49 383.93,177.31 384.34,176.02 384.6,174.64 384.7,173.19 384.65,171.71 384.44,170.2 384.07,168.71 383.56,167.25 382.91,165.86" fill="#000" stroke="#000" stroke-width="0.34" stroke-linejoin="round" />
<ellipse cx="363.5" cy="178.8" rx="8.8" ry="11.8" transform="rotate(-20 363.5 178.8)" fill="#fff" stroke="#000" stroke-width="1.72" />
<path d="M358.5,172.5 Q356.5,176 358,180" fill="none" stroke="#000" stroke-width="1.26" stroke-linejoin="round" stroke-linecap="round" />
<path d="M361,174.5 Q365,173 366,177 Q366,181 362.5,180" fill="none" stroke="#000" stroke-width="1.72" stroke-linejoin="round" stroke-linecap="round" />
<path d="M359.5,182 Q362,186 367,186.5" fill="none" stroke="#000" stroke-width="1.15" stroke-linejoin="round" stroke-linecap="round" />
<line x1="373.5" y1="177.5" x2="380" y2="174" stroke="#000" stroke-width="1.03" />
<path d="M486,95.5 L499,88.6 M488.7,114.2 L503,106.6" fill="none" stroke="#000" stroke-width="1.15" stroke-linejoin="round" stroke-linecap="butt" stroke-dasharray="1.5 1.5"/>
<ellipse cx="487.3" cy="104.8" rx="6.2" ry="9.6" transform="rotate(-25 487.3 104.8)" fill="none" stroke="#000" stroke-width="1.03" stroke-dasharray="1.5 1.5"/>
<path d="M499,88.6 L576.53,47.42" fill="none" stroke="#000" stroke-width="2.18" stroke-linejoin="round" stroke-linecap="butt" stroke-dasharray="3.2 1.8" stroke-dashoffset="0"/>
<path d="M500.72,90.56 L579.31,48.82" fill="none" stroke="#000" stroke-width="1.72" stroke-linejoin="round" stroke-linecap="butt" stroke-dasharray="3.2 2.4" stroke-dashoffset="1.7"/>
<path d="M502.44,92.53 L582.09,50.22" fill="none" stroke="#000" stroke-width="1.72" stroke-linejoin="round" stroke-linecap="butt" stroke-dasharray="3.2 2.4" stroke-dashoffset="3.4"/>
<path d="M504.17,94.49 L584.87,51.63" fill="none" stroke="#000" stroke-width="1.72" stroke-linejoin="round" stroke-linecap="butt" stroke-dasharray="3.2 2.4" stroke-dashoffset="5.1"/>
<path d="M505.89,96.46 L586.6,53.59" fill="none" stroke="#000" stroke-width="1.72" stroke-linejoin="round" stroke-linecap="butt" stroke-dasharray="3.2 2.4" stroke-dashoffset="6.8"/>
<path d="M507.61,98.42 L587.26,56.12" fill="none" stroke="#000" stroke-width="1.72" stroke-linejoin="round" stroke-linecap="butt" stroke-dasharray="3.2 2.4" stroke-dashoffset="8.5"/>
<path d="M509.33,100.38 L587.92,58.64" fill="none" stroke="#000" stroke-width="1.72" stroke-linejoin="round" stroke-linecap="butt" stroke-dasharray="3.2 2.4" stroke-dashoffset="10.2"/>
<path d="M511.06,102.35 L588.58,61.17" fill="none" stroke="#000" stroke-width="2.18" stroke-linejoin="round" stroke-linecap="butt" stroke-dasharray="3.2 1.8" stroke-dashoffset="11.9"/>
<ellipse cx="584" cy="52.5" rx="5.5" ry="8.9" transform="rotate(-25 584 52.5)" fill="none" stroke="#000" stroke-width="1.03" stroke-dasharray="1.5 1.5"/>
<path d="M499,88.6 L503,106.6" fill="none" stroke="#000" stroke-width="1.38" stroke-linejoin="round" stroke-linecap="butt" stroke-dasharray="2 1.5"/>
<path d="M561,141 L663,85 Q670,82 674,87 L685,94 Q690,97 687,101 M565,149 L664,94 Q669,92 672,94 L680,99" fill="none" stroke="#000" stroke-width="1.15" stroke-linejoin="round" stroke-linecap="butt" stroke-dasharray="3 2"/>
<ellipse cx="562.5" cy="145.2" rx="3.2" ry="4.4" transform="rotate(-25 562.5 145.2)" fill="none" stroke="#000" stroke-width="1.03" />
<ellipse cx="686.5" cy="97.5" rx="2.6" ry="4.3" transform="rotate(-30 686.5 97.5)" fill="none" stroke="#000" stroke-width="1.03" stroke-dasharray="2 1.5"/>
<path d="M592,127 q2,3 1,7 M602,122 q2,3 1,7" fill="none" stroke="#000" stroke-width="1.84" stroke-linejoin="round" stroke-linecap="round" />
<ellipse cx="533.5" cy="161.3" rx="4.4" ry="7.6" transform="rotate(-18 533.5 161.3)" fill="#fff" stroke="#000" stroke-width="1.38" />
<polygon points="525.69,173.59 526.19,173.27 526.63,172.84 527.01,172.29 527.32,171.65 527.55,170.93 527.71,170.12 527.79,169.25 527.79,168.34 527.7,167.4 527.53,166.43 527.29,165.48 526.97,164.53 526.59,163.63 526.14,162.77 525.64,161.97 525.09,161.25 524.51,160.63 523.9,160.1 523.28,159.68 522.65,159.38 522.03,159.2 521.43,159.15 520.85,159.22 520.31,159.41 530.81,154.21 531.35,154.02 531.93,153.95 532.53,154 533.15,154.18 533.78,154.48 534.4,154.9 535.01,155.43 535.59,156.05 536.14,156.77 536.64,157.57 537.09,158.43 537.47,159.33 537.79,160.28 538.03,161.23 538.2,162.2 538.29,163.14 538.29,164.05 538.21,164.92 538.05,165.73 537.82,166.45 537.51,167.09 537.13,167.64 536.69,168.07 536.19,168.39" fill="#fff" stroke="none" stroke-width="0" stroke-linejoin="round" />
<line x1="525.69" y1="173.59" x2="536.19" y2="168.39" stroke="#000" stroke-width="1.38" />
<line x1="520.31" y1="159.41" x2="530.81" y2="154.21" stroke="#000" stroke-width="1.38" />
<path d="M487,154.8 C492,152.3 505,153 519.3,159.2 Q523,162 524.5,168 Q525,172 526.2,174.1 Q521,180 515,187.7 Q511,192 505,193.5 L504.3,189.5 Q508,187 507.5,181 Q507,172 500.5,164.5 Q496,160.5 489.5,160.5 Z" fill="#fff" stroke="#000" stroke-width="1.38" stroke-linejoin="round" stroke-linecap="round" />
<path d="M487,154.8 C492,152.3 505,153 519.3,159.2" fill="none" stroke="#000" stroke-width="2.07" stroke-linejoin="round" stroke-linecap="round" />
<path d="M519.3,159.2 Q525,164 526.2,174.1" fill="none" stroke="#000" stroke-width="1.26" stroke-linejoin="round" stroke-linecap="round" />
<polygon points="481.4,156.8 487,154.5 489.5,160.3 483.3,162.2" fill="#fff" stroke="#000" stroke-width="1.26" stroke-linejoin="round" />
<polygon points="496.6,191 503.8,188.6 505.5,194.3 498.5,196.5" fill="#fff" stroke="#000" stroke-width="1.26" stroke-linejoin="round" />
<ellipse cx="520.2" cy="169" rx="4" ry="5" transform="rotate(-15 520.2 169)" fill="#fff" stroke="#000" stroke-width="1.49" />
<path d="M518.5,165.5 Q516.5,169 518.5,173" fill="none" stroke="#000" stroke-width="1.15" stroke-linejoin="round" stroke-linecap="round" />
<path d="M485.5,186.5 Q481,184.5 479,188.5 Q478,193 481.5,195.3 Q484,196.3 486,195" fill="none" stroke="#000" stroke-width="2.18" stroke-linejoin="round" stroke-linecap="round" />
<path d="M550.5,148.2 Q546,146.5 544.3,150.5 Q543.5,155 547,157.3 Q549.5,158.3 551.3,157" fill="none" stroke="#000" stroke-width="2.18" stroke-linejoin="round" stroke-linecap="round" />
<polygon points="681.3,194.8 681.3,144.8 683.2,137.8 692.7,135.2 706.9,134.5 718.2,139.3 730.2,150.8 737.2,163.8 741.7,177.8 741.7,212.6 737.2,218.3 728.2,221.3 716.2,219.3 704.2,212.3 692.2,201.8" fill="#fff" stroke="#000" stroke-width="1.26" stroke-linejoin="round" />
<polygon points="677.1,196 677.1,146 679,139 688.5,136.4 702.7,135.7 714,140.5 726,152 733,165 737.5,179 737.5,213.8 733,219.5 724,222.5 712,220.5 700,213.5 688,203" fill="#fff" stroke="#000" stroke-width="1.26" stroke-linejoin="round" />
<ellipse cx="682.8" cy="150.6" rx="1.5" ry="2.4" transform="rotate(-25 682.8 150.6)" fill="#000" stroke="#000" stroke-width="0.34" />
<ellipse cx="706.2" cy="147.8" rx="1.5" ry="2.4" transform="rotate(-25 706.2 147.8)" fill="#000" stroke="#000" stroke-width="0.34" />
<ellipse cx="732.5" cy="178.3" rx="1.5" ry="2.4" transform="rotate(-25 732.5 178.3)" fill="#000" stroke="#000" stroke-width="0.34" />
<ellipse cx="732.5" cy="211.7" rx="1.5" ry="2.4" transform="rotate(-25 732.5 211.7)" fill="#000" stroke="#000" stroke-width="0.34" />
<ellipse cx="707.6" cy="214.5" rx="1.5" ry="2.4" transform="rotate(-25 707.6 214.5)" fill="#000" stroke="#000" stroke-width="0.34" />
<polygon points="670,186.8 702.7,171.2 715.5,189.7 681.4,206.7" fill="#fff" stroke="none" stroke-width="0" stroke-linejoin="round" />
<ellipse cx="709.5" cy="180.5" rx="5.6" ry="9.8" transform="rotate(-28 709.5 180.5)" fill="#fff" stroke="#000" stroke-width="1.26" />
<path d="M670,186.8 L704,170.8 M681.4,206.7 L714,190.5" fill="none" stroke="#000" stroke-width="1.38" stroke-linejoin="round" stroke-linecap="round" />
<path d="M703,173 Q712,176 713,184" fill="none" stroke="#000" stroke-width="0.8" stroke-linejoin="round" stroke-linecap="butt" stroke-dasharray="1.5 1"/>
<path d="M671,187 Q668,196 676,205 L681.4,206.7 M676,187 Q673,196 680,204" fill="none" stroke="#000" stroke-width="1.15" stroke-linejoin="round" stroke-linecap="round" />
<polygon points="565.5,253 671.1,193.2 678.8,208.7 574.8,266.9" fill="#fff" stroke="#000" stroke-width="1.38" stroke-linejoin="round" />
<path d="M584,259.5 L678.8,205.6" fill="none" stroke="#000" stroke-width="1.84" stroke-linejoin="round" stroke-linecap="round" />
<path d="M576,266 L677,209" fill="none" stroke="#000" stroke-width="1.72" stroke-linejoin="round" stroke-linecap="round" />
<polygon points="561,256.5 578,247 585,261 567,272" fill="#fff" stroke="#000" stroke-width="0" stroke-linejoin="round" />
<path d="M561,256.5 L578,247.5 M567,272 L584,262.5" fill="none" stroke="#000" stroke-width="1.26" stroke-linejoin="round" stroke-linecap="round" />
<line x1="565" y1="255" x2="571" y2="268" stroke="#000" stroke-width="0.92" />
<line x1="567.4" y1="253.65" x2="573.4" y2="266.65" stroke="#000" stroke-width="0.92" />
<line x1="569.8" y1="252.3" x2="575.8" y2="265.3" stroke="#000" stroke-width="0.92" />
<line x1="572.2" y1="250.95" x2="578.2" y2="263.95" stroke="#000" stroke-width="0.92" />
<line x1="574.6" y1="249.6" x2="580.6" y2="262.6" stroke="#000" stroke-width="0.92" />
<line x1="577" y1="248.25" x2="583" y2="261.25" stroke="#000" stroke-width="0.92" />
<ellipse cx="561.2" cy="264.6" rx="5.8" ry="8.5" transform="rotate(-25 561.2 264.6)" fill="#fff" stroke="#000" stroke-width="1.38" />
<ellipse cx="661.5" cy="268.8" rx="8.8" ry="12.9" transform="rotate(-22 661.5 268.8)" fill="#fff" stroke="#000" stroke-width="1.26" />
<polygon points="660.39,283.24 661.41,282.69 662.33,281.95 663.13,281.03 663.8,279.94 664.33,278.71 664.7,277.35 664.92,275.88 664.98,274.34 664.88,272.74 664.61,271.12 664.19,269.5 663.62,267.92 662.92,266.39 662.08,264.94 661.13,263.61 660.09,262.4 658.97,261.35 657.78,260.47 656.56,259.77 655.32,259.27 654.09,258.98 652.88,258.89 651.71,259.02 650.61,259.36 656.61,256.86 657.71,256.52 658.88,256.39 660.09,256.48 661.32,256.77 662.56,257.27 663.78,257.97 664.97,258.85 666.09,259.9 667.13,261.11 668.08,262.44 668.92,263.89 669.62,265.42 670.19,267 670.61,268.62 670.88,270.24 670.98,271.84 670.92,273.38 670.7,274.85 670.33,276.21 669.8,277.44 669.13,278.53 668.33,279.45 667.41,280.19 666.39,280.74" fill="#fff" stroke="none" stroke-width="0" stroke-linejoin="round" />
<line x1="660.39" y1="283.24" x2="666.39" y2="280.74" stroke="#000" stroke-width="1.26" />
<line x1="650.61" y1="259.36" x2="656.61" y2="256.86" stroke="#000" stroke-width="1.26" />
<polygon points="663.62,267.92 664.19,269.5 664.61,271.12 664.88,272.74 664.98,274.34 664.92,275.88 664.7,277.35 664.33,278.71 663.8,279.94 663.13,281.03 662.33,281.95 661.41,282.69 660.39,283.24 666.39,280.74 667.41,280.19 668.33,279.45 669.13,278.53 669.8,277.44 670.33,276.21 670.7,274.85 670.92,273.38 670.98,271.84 670.88,270.24 670.61,268.62 670.19,267 669.62,265.42" fill="#000" stroke="#000" stroke-width="0.34" stroke-linejoin="round" />
<ellipse cx="655.5" cy="271.3" rx="8.8" ry="12.9" transform="rotate(-22 655.5 271.3)" fill="#fff" stroke="#000" stroke-width="1.26" />
<ellipse cx="655.7" cy="271.45" rx="8.71" ry="12.77" transform="rotate(-22 655.7 271.45)" fill="#000" stroke="#000" stroke-width="0" />
<ellipse cx="658.3" cy="270.7" rx="3.4" ry="5.6" transform="rotate(-22 658.3 270.7)" fill="#fff" stroke="#000" stroke-width="0" />
<ellipse cx="639.4" cy="282.7" rx="7.2" ry="10" transform="rotate(-20 639.4 282.7)" fill="#fff" stroke="#000" stroke-width="1.26" />
<polygon points="630.22,297.93 631.04,297.46 631.78,296.84 632.44,296.07 632.98,295.18 633.42,294.18 633.73,293.09 633.92,291.92 633.98,290.7 633.91,289.44 633.71,288.17 633.39,286.91 632.95,285.68 632.39,284.5 631.74,283.39 630.99,282.37 630.16,281.47 629.27,280.68 628.33,280.03 627.36,279.54 626.37,279.19 625.38,279.01 624.4,279 623.47,279.15 622.58,279.47 635.58,273.47 636.47,273.15 637.4,273 638.38,273.01 639.37,273.19 640.36,273.54 641.33,274.03 642.27,274.68 643.16,275.47 643.99,276.37 644.74,277.39 645.39,278.5 645.95,279.68 646.39,280.91 646.71,282.17 646.91,283.44 646.98,284.7 646.92,285.92 646.73,287.09 646.42,288.18 645.98,289.18 645.44,290.07 644.78,290.84 644.04,291.46 643.22,291.93" fill="#fff" stroke="none" stroke-width="0" stroke-linejoin="round" />
<line x1="630.22" y1="297.93" x2="643.22" y2="291.93" stroke="#000" stroke-width="1.26" />
<line x1="622.58" y1="279.47" x2="635.58" y2="273.47" stroke="#000" stroke-width="1.26" />
<polygon points="633.71,288.17 633.91,289.44 633.98,290.7 633.92,291.92 633.73,293.09 633.42,294.18 632.98,295.18 632.44,296.07 631.78,296.84 631.04,297.46 630.22,297.93 643.22,291.93 644.04,291.46 644.78,290.84 645.44,290.07 645.98,289.18 646.42,288.18 646.73,287.09 646.92,285.92 646.98,284.7 646.91,283.44 646.71,282.17" fill="#000" stroke="#000" stroke-width="0.34" stroke-linejoin="round" />
<ellipse cx="626.4" cy="288.7" rx="7.2" ry="10" transform="rotate(-20 626.4 288.7)" fill="#fff" stroke="#000" stroke-width="1.49" />
<path d="M620,283 Q624,279 631,282 L630,285 Q625,283 621,286 Z" fill="#000" stroke="#000" stroke-width="0.69" stroke-linejoin="round" stroke-linecap="round" />
<line x1="631" y1="287" x2="640" y2="282" stroke="#000" stroke-width="1.03" />
<path d="M632,277 Q636,271 642,275" fill="none" stroke="#000" stroke-width="0.92" stroke-linejoin="round" stroke-linecap="round" />
<path d="M638,363 L741,306.5 Q747,304 752,306.5 L767,313.5 L765,322 L750,315 Q746,313 742,315 L643,371 Z" fill="#fff" stroke="#000" stroke-width="1.26" stroke-linejoin="round" stroke-linecap="round" />
<ellipse cx="640.5" cy="366.5" rx="3" ry="4.3" transform="rotate(-25 640.5 366.5)" fill="#fff" stroke="#000" stroke-width="1.72" />
<ellipse cx="766" cy="318" rx="2.5" ry="4.3" transform="rotate(-25 766 318)" fill="#fff" stroke="#000" stroke-width="1.84" />
<path d="M671,343.8 Q674.6,347 673.6,351.6" fill="none" stroke="#000" stroke-width="2.18" stroke-linejoin="round" stroke-linecap="round" />
<path d="M681.8,337.7 Q685.4,341 684.5,345.6" fill="none" stroke="#000" stroke-width="2.18" stroke-linejoin="round" stroke-linecap="round" />
<ellipse cx="778.3" cy="327" rx="6.4" ry="9.4" transform="rotate(22 778.3 327)" fill="#000" stroke="#000" stroke-width="0.57" />
<ellipse cx="779.2" cy="326.2" rx="6" ry="9" transform="rotate(22 779.2 326.2)" fill="#fff" stroke="#000" stroke-width="1.15" />
<ellipse cx="778.8" cy="327" rx="2.4" ry="3.9" transform="rotate(22 778.8 327)" fill="#fff" stroke="#000" stroke-width="1.84" />
<path d="M789,345.5 L807.5,335.3 Q810.5,334.5 809.8,337.5 L791,347 Q787.5,348 789,345.5 Z" fill="#fff" stroke="#000" stroke-width="1.72" stroke-linejoin="round" stroke-linecap="round" />
<path d="M791,345.5 L806,337.5" fill="none" stroke="#000" stroke-width="0.69" stroke-linejoin="round" stroke-linecap="round" />
<ellipse cx="627" cy="375" rx="6.2" ry="7.5" transform="rotate(-15 627 375)" fill="#000" stroke="#000" stroke-width="0.57" />
<ellipse cx="626.7" cy="375" rx="0.9" ry="2" transform="rotate(-30 626.7 375)" fill="#fff" stroke="#000" stroke-width="0" />
<line x1="618" y1="380" x2="600" y2="389.5" stroke="#000" stroke-width="1.49" stroke-dasharray="6 4"/>
<polygon points="501.6,328.1 600,288.3 611,289.5 617.2,303 616.4,313.3 543.8,360.2 530,362 513.5,345" fill="#fff" stroke="none" stroke-width="0" stroke-linejoin="round" />
<path d="M501.6,328.1 L600,288.3 Q613,286 617,300 Q618.5,308 616.4,313.3" fill="none" stroke="#000" stroke-width="1.49" stroke-linejoin="round" stroke-linecap="round" />
<path d="M616.4,313.3 L543.8,360.2" fill="none" stroke="#000" stroke-width="2.76" stroke-linejoin="round" stroke-linecap="round" />
<path d="M559.4,370.3 L589,332" fill="none" stroke="#000" stroke-width="1.26" stroke-linejoin="round" stroke-linecap="round" />
<path d="M515.6,343.8 L581.3,307 M512,337 L560,312 M525,349 L595,311 M540,352 L606,315" fill="none" stroke="#000" stroke-width="0.92" stroke-linejoin="round" stroke-linecap="round" />
<path d="M560,304 L578,300" fill="none" stroke="#000" stroke-width="2.07" stroke-linejoin="round" stroke-linecap="round" />
<path d="M572,305 L580,306" fill="none" stroke="#000" stroke-width="1.61" stroke-linejoin="round" stroke-linecap="round" />
<polygon points="363.5,352.3 445.2,306 511,339 513.5,345 564.8,377 565.2,445.6 555,460 481,505 466.8,506 456.5,501 448.3,490.7 426.8,484.6 415,487 363,403" fill="#fff" stroke="none" stroke-width="0" stroke-linejoin="round" />
<polygon points="363.5,352.3 445.2,306 511,339 513.5,345 564.8,377 487.5,417.5" fill="#fff" stroke="#000" stroke-width="1.49" stroke-linejoin="round" />
<polygon points="384.3,354.8 448.5,316.5 499,340 512,343.5 515,346 545,372 521,389 509,383 478,410" fill="#fff" stroke="#000" stroke-width="1.38" stroke-linejoin="round" />
<path d="M389,356 L449.5,320.5 L451,342" fill="none" stroke="#000" stroke-width="1.03" stroke-linejoin="round" stroke-linecap="round" />
<path d="M499,340 L512,343.5 L515,346" fill="none" stroke="#000" stroke-width="1.03" stroke-linejoin="round" stroke-linecap="round" />
<path d="M515,350 L540,373 L521,386 L510,381" fill="none" stroke="#000" stroke-width="1.15" stroke-linejoin="round" stroke-linecap="round" />
<path d="M363.5,352.3 L363.5,358.5 L487.5,423.5 L565,383 L564.8,377 M487.5,417.5 L487.5,423.5" fill="none" stroke="#000" stroke-width="1.38" stroke-linejoin="round" stroke-linecap="round" />
<path d="M565,383 L565.2,445.6 Q565.5,458 555,461 L481,505 Q474,507.5 466.8,506" fill="none" stroke="#000" stroke-width="1.49" stroke-linejoin="round" stroke-linecap="round" />
<path d="M486.3,424 L486.3,502 M491.4,426 L491.4,503" fill="none" stroke="#000" stroke-width="1.15" stroke-linejoin="round" stroke-linecap="round" />
<path d="M466.8,506 Q458,504 456.5,501 L448.3,490.7 L426.8,484.6" fill="none" stroke="#000" stroke-width="1.38" stroke-linejoin="round" stroke-linecap="round" />
<path d="M363.2,358.5 L363.2,395" fill="none" stroke="#000" stroke-width="1.38" stroke-linejoin="round" stroke-linecap="round" />
<path d="M414.5,388 L414.5,487 M416.5,389 L416.5,487" fill="none" stroke="#000" stroke-width="1.03" stroke-linejoin="round" stroke-linecap="round" />
<path d="M415.5,406.7 Q425.8,410 425.8,420 L425.8,486 M427.8,418 L427.8,486" fill="none" stroke="#000" stroke-width="1.03" stroke-linejoin="round" stroke-linecap="round" />
<ellipse cx="373.3" cy="353.5" rx="2.1" ry="3" transform="rotate(-25 373.3 353.5)" fill="#000" stroke="#000" stroke-width="0.34" />
<ellipse cx="411.1" cy="331.6" rx="2.1" ry="3" transform="rotate(-25 411.1 331.6)" fill="#000" stroke="#000" stroke-width="0.34" />
<ellipse cx="448.5" cy="309.1" rx="2.1" ry="3" transform="rotate(-25 448.5 309.1)" fill="#000" stroke="#000" stroke-width="0.34" />
<ellipse cx="477.6" cy="321.3" rx="2.1" ry="3" transform="rotate(-25 477.6 321.3)" fill="#000" stroke="#000" stroke-width="0.34" />
<ellipse cx="503.7" cy="336" rx="2.1" ry="3" transform="rotate(-25 503.7 336)" fill="#000" stroke="#000" stroke-width="0.34" />
<ellipse cx="527" cy="358.2" rx="2.1" ry="3" transform="rotate(-25 527 358.2)" fill="#000" stroke="#000" stroke-width="0.34" />
<ellipse cx="550.2" cy="378.8" rx="2.1" ry="3" transform="rotate(-25 550.2 378.8)" fill="#000" stroke="#000" stroke-width="0.34" />
<ellipse cx="520.5" cy="397.3" rx="2.1" ry="3" transform="rotate(-25 520.5 397.3)" fill="#000" stroke="#000" stroke-width="0.34" />
<ellipse cx="487.6" cy="416" rx="2.1" ry="3" transform="rotate(-25 487.6 416)" fill="#000" stroke="#000" stroke-width="0.34" />
<ellipse cx="456.3" cy="400.8" rx="2.1" ry="3" transform="rotate(-25 456.3 400.8)" fill="#000" stroke="#000" stroke-width="0.34" />
<ellipse cx="423.5" cy="384.2" rx="2.1" ry="3" transform="rotate(-25 423.5 384.2)" fill="#000" stroke="#000" stroke-width="0.34" />
<ellipse cx="397.7" cy="369.6" rx="2.1" ry="3" transform="rotate(-25 397.7 369.6)" fill="#000" stroke="#000" stroke-width="0.34" />
<ellipse cx="456.5" cy="434.3" rx="9.5" ry="11.5" transform="rotate(-18 456.5 434.3)" fill="#fff" stroke="#000" stroke-width="2.07" />
<ellipse cx="457.2" cy="435.5" rx="7" ry="8.3" transform="rotate(-18 457.2 435.5)" fill="none" stroke="#000" stroke-width="0.92" />
<line x1="450" y1="438" x2="462" y2="432" stroke="#000" stroke-width="0.92" />
<ellipse cx="417.6" cy="461" rx="2" ry="2.6" transform="rotate(-10 417.6 461)" fill="#fff" stroke="#000" stroke-width="1.26" />
<ellipse cx="417.6" cy="476.4" rx="2" ry="2.6" transform="rotate(-10 417.6 476.4)" fill="#fff" stroke="#000" stroke-width="1.26" />
<ellipse cx="456.5" cy="497.9" rx="2.4" ry="3.2" transform="rotate(-30 456.5 497.9)" fill="#000" stroke="#000" stroke-width="0.34" />
<path d="M464,503 Q466,500 468,501" fill="none" stroke="#000" stroke-width="1.38" stroke-linejoin="round" stroke-linecap="round" />
<path d="M449.5,322 Q449,345 452,352 Q460,380 472.5,396.5" fill="none" stroke="#000" stroke-width="1.26" stroke-linejoin="round" stroke-linecap="round" />
<path d="M453,352 Q462,378 475,393" fill="none" stroke="#000" stroke-width="0.92" stroke-linejoin="round" stroke-linecap="round" />
<path d="M451.4,337.7 L484.1,354 M451.4,345 L480,360" fill="none" stroke="#000" stroke-width="1.15" stroke-linejoin="round" stroke-linecap="round" />
<path d="M473,336 L478,333 L476,339 L485,343 L490,347" fill="none" stroke="#000" stroke-width="1.03" stroke-linejoin="round" stroke-linecap="round" />
<path d="M496,352 L500,349 L504,356" fill="none" stroke="#000" stroke-width="1.03" stroke-linejoin="round" stroke-linecap="round" />
<ellipse cx="488.2" cy="366.2" rx="8.2" ry="12.2" transform="rotate(-20 488.2 366.2)" fill="#fff" stroke="#000" stroke-width="1.72" />
<ellipse cx="488.7" cy="367.9" rx="5.3" ry="9" transform="rotate(-20 488.7 367.9)" fill="#fff" stroke="#000" stroke-width="1.26" />
<line x1="484" y1="369" x2="492" y2="366" stroke="#000" stroke-width="0.92" />
<path d="M497,358 Q504,362 505,372 L500,380" fill="none" stroke="#000" stroke-width="1.15" stroke-linejoin="round" stroke-linecap="round" />
<path d="M478,383 L496,376 M470,397 L486,391" fill="none" stroke="#000" stroke-width="1.03" stroke-linejoin="round" stroke-linecap="round" />
<ellipse cx="491.4" cy="398" rx="6.5" ry="8" transform="rotate(-20 491.4 398)" fill="#fff" stroke="#000" stroke-width="1.49" />
<ellipse cx="491.7" cy="399" rx="3.8" ry="5" transform="rotate(-20 491.7 399)" fill="#fff" stroke="#000" stroke-width="1.15" />
<path d="M495,392 Q503,392 505,386" fill="none" stroke="#000" stroke-width="1.03" stroke-linejoin="round" stroke-linecap="round" />
<polygon points="305.7,461.9 414.3,387.3 416.5,389 416.5,487 411.1,488.5 348.3,477.9 324.8,486.4" fill="#fff" stroke="none" stroke-width="0" stroke-linejoin="round" />
<path d="M305.7,461.9 L414.3,387.3" fill="none" stroke="#000" stroke-width="1.49" stroke-linejoin="round" stroke-linecap="round" />
<path d="M324.8,486.4 L395.1,452.3" fill="none" stroke="#000" stroke-width="2.76" stroke-linejoin="round" stroke-linecap="round" />
<path d="M395.1,452.3 L399.4,449.5 L399.4,488 M401.5,447 L401.5,488.5" fill="none" stroke="#000" stroke-width="1.15" stroke-linejoin="round" stroke-linecap="round" />
<path d="M348.3,477.9 L411.1,488.5" fill="none" stroke="#000" stroke-width="1.26" stroke-linejoin="round" stroke-linecap="round" />
<path d="M343,435.2 L368.5,395.8 L384.5,402.2" fill="none" stroke="#000" stroke-width="1.26" stroke-linejoin="round" stroke-linecap="round" />
<path d="M339.7,444.8 L414.3,405 M336,449 L412,410" fill="none" stroke="#000" stroke-width="0.92" stroke-linejoin="round" stroke-linecap="round" />
<path d="M327.5,470 L407.5,430 M340,462 L395,436" fill="none" stroke="#000" stroke-width="0.8" stroke-linejoin="round" stroke-linecap="round" />
<path d="M359,389.4 L359,403 L364,405.4 L368.5,403 L368.5,392 Z" fill="#fff" stroke="#000" stroke-width="1.15" stroke-linejoin="round" stroke-linecap="round" />
<ellipse cx="313.6" cy="476.2" rx="11.5" ry="15" transform="rotate(-18 313.6 476.2)" fill="#fff" stroke="#000" stroke-width="1.72" />
<ellipse cx="314.3" cy="476.8" rx="8.6" ry="11.8" transform="rotate(-18 314.3 476.8)" fill="#fff" stroke="#000" stroke-width="1.15" />
<path d="M307,474 Q310,468 317,469 M309,482 Q314,486 320,482" fill="none" stroke="#000" stroke-width="0.92" stroke-linejoin="round" stroke-linecap="round" />
<path d="M755,4 L755,80 Q755,92 740,100 L483,247.5 Q466.3,258 466.3,272 L468.4,372 Q469,378 474,381" fill="none" stroke="#000" stroke-width="1.49" stroke-linejoin="round" stroke-linecap="butt" stroke-dasharray="8 6"/>
<line x1="567.5" y1="406" x2="618" y2="381" stroke="#000" stroke-width="1.49" stroke-dasharray="6 4"/>
<line x1="435" y1="447.7" x2="447.3" y2="441.5" stroke="#000" stroke-width="1.49" stroke-dasharray="6 4"/>
<line x1="435" y1="449.7" x2="435" y2="490" stroke="#000" stroke-width="1.49" stroke-dasharray="6 4"/>
<line x1="434" y1="494.8" x2="395" y2="516.4" stroke="#000" stroke-width="1.49" stroke-dasharray="6 4"/>
<line x1="372.5" y1="531" x2="395" y2="517" stroke="#000" stroke-width="1.49" stroke-dasharray="6 4"/>
<line x1="345" y1="327.5" x2="363" y2="339" stroke="#000" stroke-width="1.49" stroke-dasharray="6 4"/>
<ellipse cx="338" cy="325" rx="2.9" ry="3.8" transform="rotate(62 338 325)" fill="#fff" stroke="#000" stroke-width="1.26" />
<polygon points="328.14,323.76 328.52,323.92 328.93,324.04 329.37,324.11 329.83,324.12 330.3,324.08 330.77,323.98 331.24,323.84 331.69,323.65 332.13,323.41 332.54,323.13 332.91,322.81 333.24,322.46 333.53,322.09 333.76,321.7 333.94,321.3 334.06,320.89 334.12,320.48 334.11,320.09 334.04,319.7 333.92,319.34 333.73,319.01 333.49,318.72 333.2,318.46 332.86,318.24 340.36,322.24 340.7,322.46 340.99,322.72 341.23,323.01 341.42,323.34 341.54,323.7 341.61,324.09 341.62,324.48 341.56,324.89 341.44,325.3 341.26,325.7 341.03,326.09 340.74,326.46 340.41,326.81 340.04,327.13 339.63,327.41 339.19,327.65 338.74,327.84 338.27,327.98 337.8,328.08 337.33,328.12 336.87,328.11 336.43,328.04 336.02,327.92 335.64,327.76" fill="#fff" stroke="none" stroke-width="0" stroke-linejoin="round" />
<line x1="328.14" y1="323.76" x2="335.64" y2="327.76" stroke="#000" stroke-width="1.26" />
<line x1="332.86" y1="318.24" x2="340.36" y2="322.24" stroke="#000" stroke-width="1.26" />
<polygon points="332.54,323.13 332.13,323.41 331.69,323.65 331.24,323.84 330.77,323.98 330.3,324.08 329.83,324.12 329.37,324.11 328.93,324.04 328.52,323.92 328.14,323.76 335.64,327.76 336.02,327.92 336.43,328.04 336.87,328.11 337.33,328.12 337.8,328.08 338.27,327.98 338.74,327.84 339.19,327.65 339.63,327.41 340.04,327.13" fill="#000" stroke="#000" stroke-width="0.34" stroke-linejoin="round" />
<ellipse cx="330.5" cy="321" rx="2.9" ry="3.8" transform="rotate(62 330.5 321)" fill="#fff" stroke="#000" stroke-width="1.49" />
<ellipse cx="330.5" cy="321" rx="1.1" ry="1.6" transform="rotate(62 330.5 321)" fill="#000" stroke="#000" stroke-width="0.34" />
<line x1="335.66" y1="320.22" x2="328.94" y2="323.78" stroke="#000" stroke-width="1.15" />
<line x1="337.66" y1="321.27" x2="330.94" y2="324.83" stroke="#000" stroke-width="1.15" />
<line x1="339.66" y1="322.32" x2="332.94" y2="325.88" stroke="#000" stroke-width="1.15" />
<ellipse cx="338.2" cy="325.2" rx="1.4" ry="2.4" transform="rotate(62 338.2 325.2)" fill="#fff" stroke="#000" stroke-width="0.57" />
<ellipse cx="443" cy="507.5" rx="3.4" ry="4" transform="rotate(-25 443 507.5)" fill="#fff" stroke="#000" stroke-width="1.15" />
<polygon points="438.34,514.55 438.71,514.31 439.05,514.01 439.35,513.66 439.59,513.27 439.78,512.84 439.92,512.37 440,511.88 440.01,511.38 439.97,510.87 439.87,510.36 439.71,509.86 439.49,509.39 439.23,508.94 438.92,508.52 438.56,508.15 438.17,507.83 437.76,507.56 437.32,507.35 436.86,507.2 436.4,507.12 435.95,507.1 435.5,507.15 435.07,507.27 434.66,507.45 441.16,503.95 441.57,503.77 442,503.65 442.45,503.6 442.9,503.62 443.36,503.7 443.82,503.85 444.26,504.06 444.67,504.33 445.06,504.65 445.42,505.02 445.73,505.44 445.99,505.89 446.21,506.36 446.37,506.86 446.47,507.37 446.51,507.88 446.5,508.38 446.42,508.87 446.28,509.34 446.09,509.77 445.85,510.16 445.55,510.51 445.21,510.81 444.84,511.05" fill="#fff" stroke="none" stroke-width="0" stroke-linejoin="round" />
<line x1="438.34" y1="514.55" x2="444.84" y2="511.05" stroke="#000" stroke-width="1.15" />
<line x1="434.66" y1="507.45" x2="441.16" y2="503.95" stroke="#000" stroke-width="1.15" />
<polygon points="438.56,508.15 438.92,508.52 439.23,508.94 439.49,509.39 439.71,509.86 439.87,510.36 439.97,510.87 440.01,511.38 440,511.88 439.92,512.37 439.78,512.84 439.59,513.27 439.35,513.66 439.05,514.01 438.71,514.31 438.34,514.55 444.84,511.05 445.21,510.81 445.55,510.51 445.85,510.16 446.09,509.77 446.28,509.34 446.42,508.87 446.5,508.38 446.51,507.88 446.47,507.37 446.37,506.86 446.21,506.36 445.99,505.89 445.73,505.44 445.42,505.02 445.06,504.65" fill="#000" stroke="#000" stroke-width="0.34" stroke-linejoin="round" />
<ellipse cx="436.5" cy="511" rx="3.4" ry="4" transform="rotate(-25 436.5 511)" fill="#fff" stroke="#000" stroke-width="1.26" />
<line x1="436.5" y1="507.5" x2="437.8" y2="513.8" stroke="#000" stroke-width="1.03" />
<line x1="438.5" y1="506.4" x2="439.8" y2="512.7" stroke="#000" stroke-width="1.03" />
<line x1="440.5" y1="505.3" x2="441.8" y2="511.6" stroke="#000" stroke-width="1.03" />
<ellipse cx="260.9" cy="507.8" rx="8.8" ry="11.8" transform="rotate(-22 260.9 507.8)" fill="#fff" stroke="#000" stroke-width="1.26" />
<polygon points="261.84,521.02 262.77,520.32 263.6,519.46 264.3,518.44 264.87,517.29 265.29,516.02 265.56,514.66 265.68,513.23 265.63,511.76 265.43,510.27 265.07,508.78 264.57,507.32 263.92,505.92 263.15,504.6 262.26,503.38 261.27,502.29 260.2,501.33 259.06,500.54 257.87,499.92 256.67,499.48 255.45,499.23 254.26,499.18 253.1,499.32 251.99,499.65 250.96,500.18 255.46,497.38 256.49,496.85 257.6,496.52 258.76,496.38 259.95,496.43 261.17,496.68 262.37,497.12 263.56,497.74 264.7,498.53 265.77,499.49 266.76,500.58 267.65,501.8 268.42,503.12 269.07,504.52 269.57,505.98 269.93,507.47 270.13,508.96 270.18,510.43 270.06,511.86 269.79,513.22 269.37,514.49 268.8,515.64 268.1,516.66 267.27,517.52 266.34,518.22" fill="#fff" stroke="none" stroke-width="0" stroke-linejoin="round" />
<line x1="261.84" y1="521.02" x2="266.34" y2="518.22" stroke="#000" stroke-width="1.26" />
<line x1="250.96" y1="500.18" x2="255.46" y2="497.38" stroke="#000" stroke-width="1.26" />
<polygon points="263.92,505.92 264.57,507.32 265.07,508.78 265.43,510.27 265.63,511.76 265.68,513.23 265.56,514.66 265.29,516.02 264.87,517.29 264.3,518.44 263.6,519.46 262.77,520.32 261.84,521.02 266.34,518.22 267.27,517.52 268.1,516.66 268.8,515.64 269.37,514.49 269.79,513.22 270.06,511.86 270.18,510.43 270.13,508.96 269.93,507.47 269.57,505.98 269.07,504.52 268.42,503.12" fill="#000" stroke="#000" stroke-width="0.34" stroke-linejoin="round" />
<ellipse cx="256.4" cy="510.6" rx="8.8" ry="11.8" transform="rotate(-22 256.4 510.6)" fill="#fff" stroke="#000" stroke-width="1.26" />
<ellipse cx="256.6" cy="510.75" rx="8.45" ry="11.33" transform="rotate(-22 256.6 510.75)" fill="#000" stroke="#000" stroke-width="0" />
<ellipse cx="258.7" cy="509.4" rx="3.5" ry="5.6" transform="rotate(-22 258.7 509.4)" fill="#fff" stroke="#000" stroke-width="0" />
<ellipse cx="292.5" cy="490.2" rx="7.6" ry="10.3" transform="rotate(-20 292.5 490.2)" fill="#fff" stroke="#000" stroke-width="1.26" />
<polygon points="284.19,504.62 285.08,504.17 285.89,503.56 286.61,502.8 287.22,501.92 287.72,500.91 288.1,499.8 288.34,498.61 288.46,497.36 288.43,496.07 288.27,494.76 287.98,493.46 287.56,492.18 287.02,490.95 286.36,489.78 285.61,488.71 284.77,487.75 283.85,486.91 282.88,486.2 281.87,485.65 280.84,485.26 279.79,485.04 278.76,484.98 277.77,485.1 276.81,485.38 288.81,480.58 289.77,480.3 290.76,480.18 291.79,480.24 292.84,480.46 293.87,480.85 294.88,481.4 295.85,482.11 296.77,482.95 297.61,483.91 298.36,484.98 299.02,486.15 299.56,487.38 299.98,488.66 300.27,489.96 300.43,491.27 300.46,492.56 300.34,493.81 300.1,495 299.72,496.11 299.22,497.12 298.61,498 297.89,498.76 297.08,499.37 296.19,499.82" fill="#fff" stroke="none" stroke-width="0" stroke-linejoin="round" />
<line x1="284.19" y1="504.62" x2="296.19" y2="499.82" stroke="#000" stroke-width="1.26" />
<line x1="276.81" y1="485.38" x2="288.81" y2="480.58" stroke="#000" stroke-width="1.26" />
<polygon points="288.46,497.36 288.34,498.61 288.1,499.8 287.72,500.91 287.22,501.92 286.61,502.8 285.89,503.56 285.08,504.17 284.19,504.62 296.19,499.82 297.08,499.37 297.89,498.76 298.61,498 299.22,497.12 299.72,496.11 300.1,495 300.34,493.81 300.46,492.56" fill="#000" stroke="#000" stroke-width="0.34" stroke-linejoin="round" />
<ellipse cx="279.5" cy="495.8" rx="8.2" ry="11.7" transform="rotate(-20 279.5 495.8)" fill="#fff" stroke="#000" stroke-width="1.72" />
<ellipse cx="279.7" cy="495.8" rx="6.4" ry="9.2" transform="rotate(-20 279.7 495.8)" fill="#fff" stroke="#000" stroke-width="1.15" />
<ellipse cx="280" cy="495.8" rx="4.8" ry="7.2" transform="rotate(-20 280 495.8)" fill="#fff" stroke="#000" stroke-width="1.03" />
<path d="M275,491 Q278,487 284,489 L283,491 Q279,490 276,493 Z" fill="#000" stroke="#000" stroke-width="0.57" stroke-linejoin="round" stroke-linecap="round" />
<line x1="278" y1="497" x2="284" y2="494" stroke="#000" stroke-width="0.92" />
<line x1="289" y1="492" x2="296" y2="489" stroke="#000" stroke-width="1.03" />
<polygon points="118,580 240,512.3 244,513.5 248.5,519 248,525 246.6,527.5 126,597" fill="#fff" stroke="none" stroke-width="0" stroke-linejoin="round" />
<path d="M118,580 L240,512.3" fill="none" stroke="#000" stroke-width="1.38" stroke-linejoin="round" stroke-linecap="round" />
<path d="M126,597 L246.6,527.5" fill="none" stroke="#000" stroke-width="1.72" stroke-linejoin="round" stroke-linecap="round" />
<path d="M244,513 Q249,516 248.7,522 Q248,527 246.6,527.5" fill="none" stroke="#000" stroke-width="1.49" stroke-linejoin="round" stroke-linecap="round" />
<path d="M131,590 L235,531" fill="none" stroke="#000" stroke-width="0.92" stroke-linejoin="round" stroke-linecap="round" />
<path d="M232,515.5 Q236,519 237.5,526.5" fill="none" stroke="#000" stroke-width="1.26" stroke-linejoin="round" stroke-linecap="round" />
<line x1="235.5" y1="514.5" x2="239" y2="526" stroke="#000" stroke-width="1.03" />
<line x1="237.7" y1="513.6" x2="241.2" y2="525" stroke="#000" stroke-width="1.03" />
<line x1="239.9" y1="512.7" x2="243.4" y2="524" stroke="#000" stroke-width="1.03" />
<line x1="242.1" y1="511.8" x2="245.6" y2="523" stroke="#000" stroke-width="1.03" />
<path d="M239,512.5 Q243,511.8 244.5,513.5" fill="none" stroke="#000" stroke-width="2.3" stroke-linejoin="round" stroke-linecap="round" />
<polygon points="113,582 124,576 131,596 122,601.5" fill="#fff" stroke="#000" stroke-width="0" stroke-linejoin="round" />
<path d="M113,582 L124,576 M122,601.5 L131,596 M124,576 Q129,583 131,596" fill="none" stroke="#000" stroke-width="1.26" stroke-linejoin="round" stroke-linecap="round" />
<polygon points="64.9,609.7 64.9,569.3 67.2,562.7 77.7,560.1 87.6,559.4 96.2,562.2 106.1,567.9 113.2,574.2 118.9,582.1 123.2,589.7 126,599.2 126,638.9 121.2,644.2 116,646.5 106.1,648.2 94.7,644.6 84.2,637.7 77.7,630.4 70.2,620.7" fill="#fff" stroke="#000" stroke-width="1.26" stroke-linejoin="round" />
<polygon points="60.7,611 60.7,570.6 63,564 73.5,561.4 83.4,560.7 92,563.5 101.9,569.2 109,575.5 114.7,583.4 119,591 121.8,600.5 121.8,640.2 117,645.5 111.8,647.8 101.9,649.5 90.5,645.9 80,639 73.5,631.7 66,622" fill="#fff" stroke="#000" stroke-width="1.26" stroke-linejoin="round" />
<ellipse cx="67.1" cy="577" rx="1.7" ry="2.4" transform="rotate(-15 67.1 577)" fill="#000" stroke="#000" stroke-width="0.34" />
<ellipse cx="91.2" cy="574.2" rx="1.7" ry="2.4" transform="rotate(-15 91.2 574.2)" fill="#000" stroke="#000" stroke-width="0.34" />
<ellipse cx="116.1" cy="604" rx="1.7" ry="2.4" transform="rotate(-15 116.1 604)" fill="#000" stroke="#000" stroke-width="0.34" />
<ellipse cx="116.1" cy="636.7" rx="1.7" ry="2.4" transform="rotate(-15 116.1 636.7)" fill="#000" stroke="#000" stroke-width="0.34" />
<ellipse cx="91.2" cy="638.8" rx="1.7" ry="2.4" transform="rotate(-15 91.2 638.8)" fill="#000" stroke="#000" stroke-width="0.34" />
<ellipse cx="67.1" cy="609.7" rx="1.7" ry="2.4" transform="rotate(-15 67.1 609.7)" fill="#000" stroke="#000" stroke-width="0.34" />
<ellipse cx="88.4" cy="607.6" rx="7.8" ry="9.2" transform="rotate(-15 88.4 607.6)" fill="#fff" stroke="#000" stroke-width="1.49" />
<ellipse cx="87.6" cy="608.6" rx="1.9" ry="2.3" transform="rotate(-15 87.6 608.6)" fill="#000" stroke="#000" stroke-width="0.34" />
<path d="M82,603 Q84,600 88,600" fill="none" stroke="#000" stroke-width="0.8" stroke-linejoin="round" stroke-linecap="round" />
<ellipse cx="256.5" cy="605" rx="27.7" ry="37" transform="rotate(-18 256.5 605)" fill="#fff" stroke="#000" stroke-width="1.61" />
<polygon points="250.81,649.01 253.94,647.09 256.77,644.63 259.25,641.66 261.34,638.23 263.01,634.4 264.23,630.25 264.97,625.83 265.22,621.22 264.98,616.51 264.25,611.78 263.05,607.1 261.4,602.55 259.32,598.22 256.84,594.17 254.02,590.48 250.9,587.21 247.54,584.42 243.98,582.15 240.3,580.44 236.55,579.32 232.8,578.82 229.12,578.93 225.56,579.66 222.19,580.99 242.19,570.99 245.56,569.66 249.12,568.93 252.8,568.82 256.55,569.32 260.3,570.44 263.98,572.15 267.54,574.42 270.9,577.21 274.02,580.48 276.84,584.17 279.32,588.22 281.4,592.55 283.05,597.1 284.25,601.78 284.98,606.51 285.22,611.22 284.97,615.83 284.23,620.25 283.01,624.4 281.34,628.23 279.25,631.66 276.77,634.63 273.94,637.09 270.81,639.01" fill="#fff" stroke="none" stroke-width="0" stroke-linejoin="round" />
<line x1="250.81" y1="649.01" x2="270.81" y2="639.01" stroke="#000" stroke-width="1.61" />
<line x1="222.19" y1="580.99" x2="242.19" y2="570.99" stroke="#000" stroke-width="1.61" />
<polygon points="263.01,634.4 261.34,638.23 259.25,641.66 256.77,644.63 253.94,647.09 273.94,637.09 276.77,634.63 279.25,631.66 281.34,628.23 283.01,624.4" fill="#000" stroke="#000" stroke-width="0.34" stroke-linejoin="round" />
<ellipse cx="236.5" cy="615" rx="27.7" ry="37" transform="rotate(-18 236.5 615)" fill="#fff" stroke="#000" stroke-width="1.72" />
<ellipse cx="235" cy="615.5" rx="7.5" ry="8.7" transform="rotate(-15 235 615.5)" fill="#fff" stroke="#000" stroke-width="1.49" />
<ellipse cx="234" cy="616" rx="2" ry="2.3" transform="rotate(-15 234 616)" fill="#000" stroke="#000" stroke-width="0.34" />
<path d="M230,594 Q233,591 238,594 M242,598 L247,604 M227,632 Q231,637 238,638 M244,601 L249,599" fill="none" stroke="#000" stroke-width="0.92" stroke-linejoin="round" stroke-linecap="round" />
<path d="M215,600 Q214,596 217,594" fill="none" stroke="#000" stroke-width="0.8" stroke-linejoin="round" stroke-linecap="round" />
<polygon points="273,584 308.6,564.3 314,565 317.2,570 317.2,577.3 284.6,597.6 280,596" fill="#fff" stroke="none" stroke-width="0" stroke-linejoin="round" />
<path d="M277.3,582 L308.6,564.3 Q316,563 317.5,570 Q318,575 317.2,577.3" fill="none" stroke="#000" stroke-width="1.49" stroke-linejoin="round" stroke-linecap="round" />
<path d="M284.6,594 L317.2,577.3" fill="none" stroke="#000" stroke-width="2.3" stroke-linejoin="round" stroke-linecap="round" />
<path d="M296,572.6 Q300,576 301.5,581.5" fill="none" stroke="#000" stroke-width="1.49" stroke-linejoin="round" stroke-linecap="round" />
<path d="M280,581 Q285,578 291,576.5 L292.6,578 Q287,580 281,583.5" fill="none" stroke="#000" stroke-width="1.15" stroke-linejoin="round" stroke-linecap="round" />
<ellipse cx="277.6" cy="590.6" rx="5.2" ry="7.5" transform="rotate(-20 277.6 590.6)" fill="#fff" stroke="#000" stroke-width="1.49" />
<ellipse cx="332.5" cy="555.3" rx="9.3" ry="11.8" transform="rotate(-22 332.5 555.3)" fill="#fff" stroke="#000" stroke-width="1.26" />
<polygon points="334.29,568.21 335.25,567.44 336.1,566.51 336.82,565.43 337.4,564.22 337.82,562.91 338.09,561.51 338.19,560.06 338.12,558.56 337.9,557.06 337.51,555.58 336.96,554.13 336.27,552.75 335.45,551.47 334.51,550.29 333.47,549.24 332.34,548.35 331.14,547.62 329.9,547.07 328.64,546.7 327.38,546.53 326.13,546.56 324.92,546.78 323.78,547.19 322.71,547.79 326.71,545.09 327.78,544.49 328.92,544.08 330.13,543.86 331.38,543.83 332.64,544 333.9,544.37 335.14,544.92 336.34,545.65 337.47,546.54 338.51,547.59 339.45,548.77 340.27,550.05 340.96,551.43 341.51,552.88 341.9,554.36 342.12,555.86 342.19,557.36 342.09,558.81 341.82,560.21 341.4,561.52 340.82,562.73 340.1,563.81 339.25,564.74 338.29,565.51" fill="#fff" stroke="none" stroke-width="0" stroke-linejoin="round" />
<line x1="334.29" y1="568.21" x2="338.29" y2="565.51" stroke="#000" stroke-width="1.26" />
<line x1="322.71" y1="547.79" x2="326.71" y2="545.09" stroke="#000" stroke-width="1.26" />
<polygon points="336.27,552.75 336.96,554.13 337.51,555.58 337.9,557.06 338.12,558.56 338.19,560.06 338.09,561.51 337.82,562.91 337.4,564.22 336.82,565.43 336.1,566.51 335.25,567.44 334.29,568.21 338.29,565.51 339.25,564.74 340.1,563.81 340.82,562.73 341.4,561.52 341.82,560.21 342.09,558.81 342.19,557.36 342.12,555.86 341.9,554.36 341.51,552.88 340.96,551.43 340.27,550.05" fill="#000" stroke="#000" stroke-width="0.34" stroke-linejoin="round" />
<ellipse cx="328.5" cy="558" rx="9.3" ry="11.8" transform="rotate(-22 328.5 558)" fill="#fff" stroke="#000" stroke-width="1.26" />
<ellipse cx="328.7" cy="558.15" rx="8.93" ry="11.33" transform="rotate(-22 328.7 558.15)" fill="#000" stroke="#000" stroke-width="0" />
<ellipse cx="330.5" cy="556.8" rx="3.5" ry="5.4" transform="rotate(-22 330.5 556.8)" fill="#fff" stroke="#000" stroke-width="0" />
<ellipse cx="366.2" cy="536.7" rx="8" ry="10.4" transform="rotate(-20 366.2 536.7)" fill="#fff" stroke="#000" stroke-width="1.26" />
<polygon points="354.26,553.76 355.18,553.24 356,552.56 356.73,551.73 357.35,550.78 357.84,549.72 358.2,548.56 358.43,547.32 358.52,546.04 358.46,544.72 358.26,543.39 357.92,542.08 357.46,540.8 356.86,539.58 356.16,538.44 355.35,537.4 354.45,536.47 353.48,535.68 352.46,535.03 351.39,534.54 350.31,534.22 349.22,534.06 348.15,534.08 347.12,534.28 346.14,534.64 362.14,527.14 363.12,526.78 364.15,526.58 365.22,526.56 366.31,526.72 367.39,527.04 368.46,527.53 369.48,528.18 370.45,528.97 371.35,529.9 372.16,530.94 372.86,532.08 373.46,533.3 373.92,534.58 374.26,535.89 374.46,537.22 374.52,538.54 374.43,539.82 374.2,541.06 373.84,542.22 373.35,543.28 372.73,544.23 372,545.06 371.18,545.74 370.26,546.26" fill="#fff" stroke="none" stroke-width="0" stroke-linejoin="round" />
<line x1="354.26" y1="553.76" x2="370.26" y2="546.26" stroke="#000" stroke-width="1.26" />
<line x1="346.14" y1="534.64" x2="362.14" y2="527.14" stroke="#000" stroke-width="1.26" />
<polygon points="358.43,547.32 358.2,548.56 357.84,549.72 357.35,550.78 356.73,551.73 356,552.56 355.18,553.24 354.26,553.76 370.26,546.26 371.18,545.74 372,545.06 372.73,544.23 373.35,543.28 373.84,542.22 374.2,541.06 374.43,539.82" fill="#000" stroke="#000" stroke-width="0.34" stroke-linejoin="round" />
<ellipse cx="350.2" cy="544.2" rx="8" ry="10.4" transform="rotate(-20 350.2 544.2)" fill="#fff" stroke="#000" stroke-width="1.49" />
<path d="M343,540 Q346,535 353,537 L352,540 Q347,539 344,543 Z" fill="#000" stroke="#000" stroke-width="0.69" stroke-linejoin="round" stroke-linecap="round" />
<line x1="344" y1="545" x2="353" y2="540" stroke="#000" stroke-width="1.03" />
<line x1="360" y1="545" x2="370" y2="540" stroke="#000" stroke-width="0.92" />
<line x1="281.29" y1="49.03" x2="302.01" y2="48.1" stroke="#000" stroke-width="1.84" />
<polygon points="313,47.6 302.16,51.49 301.86,44.7" fill="#000" stroke="#000" stroke-width="0.57" stroke-linejoin="round" />
<circle cx="271" cy="49.5" r="10.3" fill="#fff" stroke="#000" stroke-width="1.9"/>
<text x="271" y="53.64" font-size="11.5" font-weight="bold" text-anchor="middle">34</text>
<line x1="534.88" y1="16.32" x2="514.27" y2="8.43" stroke="#000" stroke-width="1.84" />
<polygon points="504,4.5 515.49,5.26 513.06,11.61" fill="#000" stroke="#000" stroke-width="0.57" stroke-linejoin="round" />
<circle cx="544.5" cy="20" r="10.3" fill="#fff" stroke="#000" stroke-width="1.9"/>
<text x="544.5" y="24.14" font-size="11.5" font-weight="bold" text-anchor="middle">27</text>
<line x1="246.25" y1="101.01" x2="266.55" y2="99.06" stroke="#000" stroke-width="1.84" />
<polygon points="277.5,98 266.88,102.44 266.22,95.67" fill="#000" stroke="#000" stroke-width="0.57" stroke-linejoin="round" />
<circle cx="236" cy="102" r="10.3" fill="#fff" stroke="#000" stroke-width="1.9"/>
<text x="236" y="106.14" font-size="11.5" font-weight="bold" text-anchor="middle">27</text>
<line x1="184.44" y1="146.41" x2="199.06" y2="144.86" stroke="#000" stroke-width="1.84" />
<polygon points="210,143.7 199.42,148.24 198.7,141.48" fill="#000" stroke="#000" stroke-width="0.57" stroke-linejoin="round" />
<circle cx="174.2" cy="147.5" r="10.3" fill="#fff" stroke="#000" stroke-width="1.9"/>
<text x="174.2" y="151.64" font-size="11.5" font-weight="bold" text-anchor="middle">2</text>
<line x1="250.45" y1="158.76" x2="257.88" y2="146.83" stroke="#000" stroke-width="1.84" />
<polygon points="263.7,137.5 260.77,148.63 255,145.04" fill="#000" stroke="#000" stroke-width="0.57" stroke-linejoin="round" />
<circle cx="245" cy="167.5" r="10.3" fill="#fff" stroke="#000" stroke-width="1.9"/>
<text x="245" y="171.64" font-size="11.5" font-weight="bold" text-anchor="middle">29</text>
<line x1="285.04" y1="185.91" x2="285.63" y2="174.68" stroke="#000" stroke-width="1.84" />
<polygon points="286.2,163.7 289.02,174.86 282.23,174.51" fill="#000" stroke="#000" stroke-width="0.57" stroke-linejoin="round" />
<circle cx="284.5" cy="196.2" r="10.3" fill="#fff" stroke="#000" stroke-width="1.9"/>
<text x="284.5" y="200.34" font-size="11.5" font-weight="bold" text-anchor="middle">25</text>
<line x1="367.96" y1="220.91" x2="368.51" y2="208.49" stroke="#000" stroke-width="1.84" />
<polygon points="369,197.5 371.91,208.64 365.11,208.34" fill="#000" stroke="#000" stroke-width="0.57" stroke-linejoin="round" />
<circle cx="367.5" cy="231.2" r="10.3" fill="#fff" stroke="#000" stroke-width="1.9"/>
<text x="367.5" y="235.34" font-size="11.5" font-weight="bold" text-anchor="middle">8</text>
<line x1="422.07" y1="191.71" x2="422.6" y2="177.19" stroke="#000" stroke-width="1.84" />
<polygon points="423,166.2 426,177.32 419.2,177.07" fill="#000" stroke="#000" stroke-width="0.57" stroke-linejoin="round" />
<circle cx="421.7" cy="202" r="10.3" fill="#fff" stroke="#000" stroke-width="1.9"/>
<text x="421.7" y="206.14" font-size="11.5" font-weight="bold" text-anchor="middle">24</text>
<line x1="514.85" y1="128.51" x2="509.72" y2="140.84" stroke="#000" stroke-width="1.84" />
<polygon points="505.5,151 506.58,139.54 512.86,142.15" fill="#000" stroke="#000" stroke-width="0.57" stroke-linejoin="round" />
<circle cx="518.8" cy="119" r="10.3" fill="#fff" stroke="#000" stroke-width="1.9"/>
<text x="518.8" y="123.14" font-size="11.5" font-weight="bold" text-anchor="middle">21</text>
<line x1="560" y1="119.61" x2="555.15" y2="132.23" stroke="#000" stroke-width="1.84" />
<polygon points="551.2,142.5 551.98,131.01 558.32,133.45" fill="#000" stroke="#000" stroke-width="0.57" stroke-linejoin="round" />
<circle cx="563.7" cy="110" r="10.3" fill="#fff" stroke="#000" stroke-width="1.9"/>
<text x="563.7" y="114.14" font-size="11.5" font-weight="bold" text-anchor="middle">23</text>
<line x1="470.75" y1="222.41" x2="476" y2="208.95" stroke="#000" stroke-width="1.84" />
<polygon points="480,198.7 479.17,210.18 472.83,207.71" fill="#000" stroke="#000" stroke-width="0.57" stroke-linejoin="round" />
<circle cx="467" cy="232" r="10.3" fill="#fff" stroke="#000" stroke-width="1.9"/>
<text x="467" y="236.14" font-size="11.5" font-weight="bold" text-anchor="middle">23</text>
<line x1="753.24" y1="137.3" x2="737.92" y2="142.48" stroke="#000" stroke-width="1.84" />
<polygon points="727.5,146 736.83,139.26 739.01,145.7" fill="#000" stroke="#000" stroke-width="0.57" stroke-linejoin="round" />
<circle cx="763" cy="134" r="10.3" fill="#fff" stroke="#000" stroke-width="1.9"/>
<text x="763" y="138.14" font-size="11.5" font-weight="bold" text-anchor="middle">12</text>
<line x1="698.36" y1="255.25" x2="685.51" y2="259.24" stroke="#000" stroke-width="1.84" />
<polygon points="675,262.5 684.5,255.99 686.51,262.49" fill="#000" stroke="#000" stroke-width="0.57" stroke-linejoin="round" />
<circle cx="708.2" cy="252.2" r="10.3" fill="#fff" stroke="#000" stroke-width="1.9"/>
<text x="708.2" y="256.34" font-size="11.5" font-weight="bold" text-anchor="middle">4</text>
<line x1="624.65" y1="328.25" x2="628.37" y2="314.33" stroke="#000" stroke-width="1.84" />
<polygon points="631.2,303.7 631.65,315.2 625.08,313.45" fill="#000" stroke="#000" stroke-width="0.57" stroke-linejoin="round" />
<circle cx="622" cy="338.2" r="10.3" fill="#fff" stroke="#000" stroke-width="1.9"/>
<text x="622" y="342.34" font-size="11.5" font-weight="bold" text-anchor="middle">3</text>
<line x1="812.21" y1="312.71" x2="800.45" y2="316.57" stroke="#000" stroke-width="1.84" />
<polygon points="790,320 799.39,313.34 801.51,319.8" fill="#000" stroke="#000" stroke-width="0.57" stroke-linejoin="round" />
<circle cx="822" cy="309.5" r="10.3" fill="#fff" stroke="#000" stroke-width="1.9"/>
<text x="822" y="313.64" font-size="11.5" font-weight="bold" text-anchor="middle">26</text>
<line x1="833" y1="305" x2="833" y2="313" stroke="#000" stroke-width="1.84" />
<line x1="719.05" y1="361.41" x2="706.74" y2="353.47" stroke="#000" stroke-width="1.84" />
<polygon points="697.5,347.5 708.59,350.61 704.9,356.32" fill="#000" stroke="#000" stroke-width="0.57" stroke-linejoin="round" />
<circle cx="727.7" cy="367" r="10.3" fill="#fff" stroke="#000" stroke-width="1.9"/>
<text x="727.7" y="371.14" font-size="11.5" font-weight="bold" text-anchor="middle">22</text>
<line x1="796.4" y1="375.9" x2="796.3" y2="364.7" stroke="#000" stroke-width="1.84" />
<polygon points="796.2,353.7 799.7,364.67 792.9,364.73" fill="#000" stroke="#000" stroke-width="0.57" stroke-linejoin="round" />
<circle cx="796.5" cy="386.2" r="10.3" fill="#fff" stroke="#000" stroke-width="1.9"/>
<text x="796.5" y="390.34" font-size="11.5" font-weight="bold" text-anchor="middle">14</text>
<line x1="658.06" y1="396.29" x2="646.33" y2="388.69" stroke="#000" stroke-width="1.84" />
<polygon points="637.1,382.7 648.18,385.83 644.48,391.54" fill="#000" stroke="#000" stroke-width="0.57" stroke-linejoin="round" />
<circle cx="666.7" cy="401.9" r="10.3" fill="#fff" stroke="#000" stroke-width="1.9"/>
<text x="666.7" y="406.04" font-size="11.5" font-weight="normal" text-anchor="middle">7</text>
<line x1="350.83" y1="289.42" x2="345.65" y2="301.14" stroke="#000" stroke-width="1.84" />
<polygon points="341.2,311.2 342.54,299.76 348.76,302.52" fill="#000" stroke="#000" stroke-width="0.57" stroke-linejoin="round" />
<circle cx="355" cy="280" r="10.3" fill="#fff" stroke="#000" stroke-width="1.9"/>
<text x="355" y="284.14" font-size="11.5" font-weight="bold" text-anchor="middle">10</text>
<line x1="587.97" y1="474.05" x2="575.64" y2="467.29" stroke="#000" stroke-width="1.84" />
<polygon points="566,462 577.28,464.31 574.01,470.27" fill="#000" stroke="#000" stroke-width="0.57" stroke-linejoin="round" />
<circle cx="597" cy="479" r="10.3" fill="#fff" stroke="#000" stroke-width="1.9"/>
<text x="597" y="483.14" font-size="11.5" font-weight="bold" text-anchor="middle">1</text>
<line x1="471.17" y1="528.7" x2="459.43" y2="521.66" stroke="#000" stroke-width="1.84" />
<polygon points="450,516 461.18,518.74 457.68,524.57" fill="#000" stroke="#000" stroke-width="0.57" stroke-linejoin="round" />
<circle cx="480" cy="534" r="10.3" fill="#fff" stroke="#000" stroke-width="1.9"/>
<text x="480" y="538.14" font-size="11.5" font-weight="bold" text-anchor="middle">10</text>
<line x1="239.27" y1="472.83" x2="242.92" y2="484.5" stroke="#000" stroke-width="1.84" />
<polygon points="246.2,495 239.67,485.51 246.16,483.49" fill="#000" stroke="#000" stroke-width="0.57" stroke-linejoin="round" />
<circle cx="236.2" cy="463" r="10.3" fill="#fff" stroke="#000" stroke-width="1.9"/>
<text x="236.2" y="467.14" font-size="11.5" font-weight="bold" text-anchor="middle">4</text>
<line x1="273.83" y1="454.56" x2="278.41" y2="465.99" stroke="#000" stroke-width="1.84" />
<polygon points="282.5,476.2 275.25,467.25 281.57,464.72" fill="#000" stroke="#000" stroke-width="0.57" stroke-linejoin="round" />
<circle cx="270" cy="445" r="10.3" fill="#fff" stroke="#000" stroke-width="1.9"/>
<text x="270" y="449.14" font-size="11.5" font-weight="bold" text-anchor="middle">3</text>
<line x1="134.9" y1="535.81" x2="139.75" y2="548.43" stroke="#000" stroke-width="1.84" />
<polygon points="143.7,558.7 136.58,549.65 142.92,547.21" fill="#000" stroke="#000" stroke-width="0.57" stroke-linejoin="round" />
<circle cx="131.2" cy="526.2" r="10.3" fill="#fff" stroke="#000" stroke-width="1.9"/>
<text x="131.2" y="530.34" font-size="11.5" font-weight="bold" text-anchor="middle">11</text>
<line x1="377.97" y1="578.52" x2="374.71" y2="565.66" stroke="#000" stroke-width="1.84" />
<polygon points="372,555 378,564.83 371.41,566.5" fill="#000" stroke="#000" stroke-width="0.57" stroke-linejoin="round" />
<circle cx="380.5" cy="588.5" r="10.3" fill="#fff" stroke="#000" stroke-width="1.9"/>
<text x="380.5" y="592.64" font-size="11.5" font-weight="bold" text-anchor="middle">6</text>
<line x1="346.39" y1="596.29" x2="343" y2="584.28" stroke="#000" stroke-width="1.84" />
<polygon points="340,573.7 346.27,583.36 339.72,585.21" fill="#000" stroke="#000" stroke-width="0.57" stroke-linejoin="round" />
<circle cx="349.2" cy="606.2" r="10.3" fill="#fff" stroke="#000" stroke-width="1.9"/>
<text x="349.2" y="610.34" font-size="11.5" font-weight="bold" text-anchor="middle">9</text>
<line x1="311.27" y1="624.53" x2="299.32" y2="617.04" stroke="#000" stroke-width="1.84" />
<polygon points="290,611.2 301.13,614.16 297.52,619.92" fill="#000" stroke="#000" stroke-width="0.57" stroke-linejoin="round" />
<circle cx="320" cy="630" r="10.3" fill="#fff" stroke="#000" stroke-width="1.9"/>
<text x="320" y="634.14" font-size="11.5" font-weight="bold" text-anchor="middle">28</text>
<path d="M479,0 Q483,5 490,5 Q495,4.5 496,1" fill="none" stroke="#000" stroke-width="1.26" stroke-linejoin="round" stroke-linecap="round" />
<polygon points="752,120.8 775,120.8 778,123.5 778,149.6 774.7,152.4 757.8,152.4 755.9,149.6 755,146.8 750.2,146.3 742.7,147.2 736,150.5 733,151.5 715.4,151.5 715,135.4 728.6,135 732.3,131.7 740,130.3 749.3,127.9 752,127" fill="#ffff00" style="mix-blend-mode:multiply"/>
</svg>
</body></html>
